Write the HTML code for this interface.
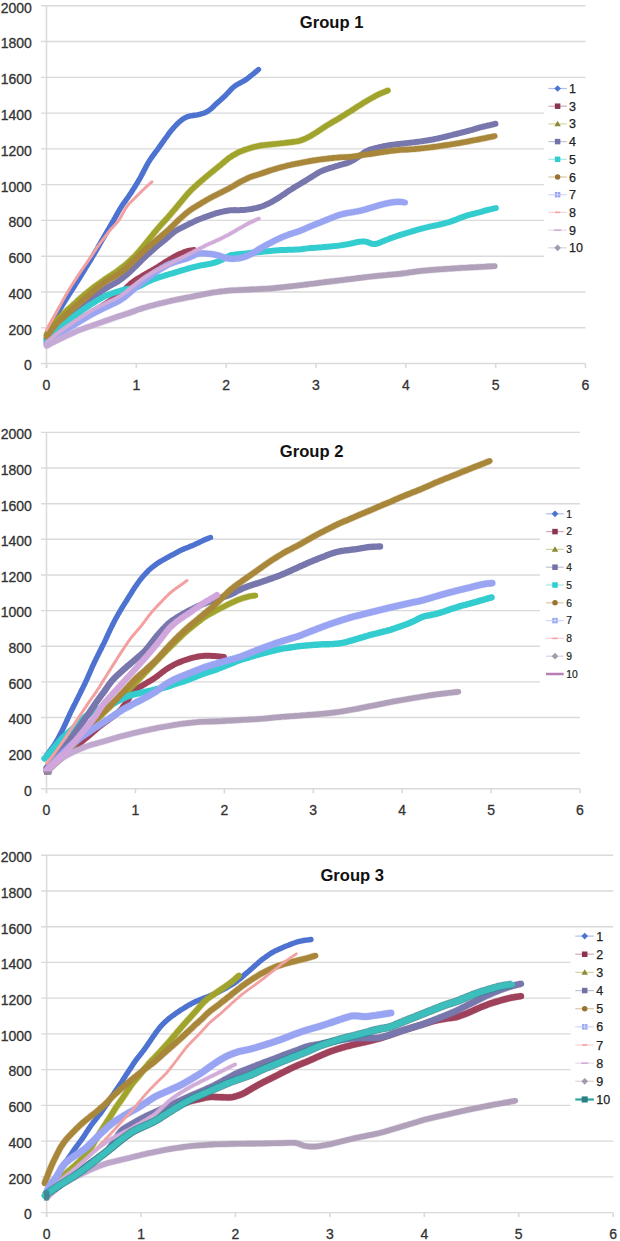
<!DOCTYPE html><html><head><meta charset="utf-8"><style>html,body{margin:0;padding:0;background:#fff;}svg{display:block;font-family:"Liberation Sans",sans-serif;}</style></head><body>
<svg width="620" height="1241" viewBox="0 0 620 1241">
<rect width="620" height="1241" fill="#fff"/>
<line x1="41.0" y1="363.50" x2="585.5" y2="363.50" stroke="#dadada" stroke-width="1.4"/>
<text x="31.8" y="370.3" font-size="14" text-anchor="end" fill="#333" stroke="#333" stroke-width="0.3">0</text>
<line x1="41.0" y1="327.73" x2="585.5" y2="327.73" stroke="#dadada" stroke-width="1.4"/>
<text x="31.8" y="334.5" font-size="14" text-anchor="end" fill="#333" stroke="#333" stroke-width="0.3">200</text>
<line x1="41.0" y1="291.96" x2="585.5" y2="291.96" stroke="#dadada" stroke-width="1.4"/>
<text x="31.8" y="298.8" font-size="14" text-anchor="end" fill="#333" stroke="#333" stroke-width="0.3">400</text>
<line x1="41.0" y1="256.19" x2="585.5" y2="256.19" stroke="#dadada" stroke-width="1.4"/>
<text x="31.8" y="263.0" font-size="14" text-anchor="end" fill="#333" stroke="#333" stroke-width="0.3">600</text>
<line x1="41.0" y1="220.42" x2="585.5" y2="220.42" stroke="#dadada" stroke-width="1.4"/>
<text x="31.8" y="227.2" font-size="14" text-anchor="end" fill="#333" stroke="#333" stroke-width="0.3">800</text>
<line x1="41.0" y1="184.65" x2="585.5" y2="184.65" stroke="#dadada" stroke-width="1.4"/>
<text x="31.8" y="191.5" font-size="14" text-anchor="end" fill="#333" stroke="#333" stroke-width="0.3">1000</text>
<line x1="41.0" y1="148.88" x2="585.5" y2="148.88" stroke="#dadada" stroke-width="1.4"/>
<text x="31.8" y="155.7" font-size="14" text-anchor="end" fill="#333" stroke="#333" stroke-width="0.3">1200</text>
<line x1="41.0" y1="113.11" x2="585.5" y2="113.11" stroke="#dadada" stroke-width="1.4"/>
<text x="31.8" y="119.9" font-size="14" text-anchor="end" fill="#333" stroke="#333" stroke-width="0.3">1400</text>
<line x1="41.0" y1="77.34" x2="585.5" y2="77.34" stroke="#dadada" stroke-width="1.4"/>
<text x="31.8" y="84.1" font-size="14" text-anchor="end" fill="#333" stroke="#333" stroke-width="0.3">1600</text>
<line x1="41.0" y1="41.57" x2="585.5" y2="41.57" stroke="#dadada" stroke-width="1.4"/>
<text x="31.8" y="48.4" font-size="14" text-anchor="end" fill="#333" stroke="#333" stroke-width="0.3">1800</text>
<line x1="41.0" y1="5.80" x2="585.5" y2="5.80" stroke="#dadada" stroke-width="1.4"/>
<text x="31.8" y="12.6" font-size="14" text-anchor="end" fill="#333" stroke="#333" stroke-width="0.3">2000</text>
<line x1="46.5" y1="5.80" x2="46.5" y2="368.00" stroke="#dadada" stroke-width="1.5"/>
<line x1="46.50" y1="363.50" x2="46.50" y2="368.00" stroke="#dadada" stroke-width="1.6"/>
<text x="46.50" y="389.8" font-size="14" text-anchor="middle" fill="#333" stroke="#333" stroke-width="0.3">0</text>
<line x1="136.33" y1="363.50" x2="136.33" y2="368.00" stroke="#dadada" stroke-width="1.6"/>
<text x="136.33" y="389.8" font-size="14" text-anchor="middle" fill="#333" stroke="#333" stroke-width="0.3">1</text>
<line x1="226.16" y1="363.50" x2="226.16" y2="368.00" stroke="#dadada" stroke-width="1.6"/>
<text x="226.16" y="389.8" font-size="14" text-anchor="middle" fill="#333" stroke="#333" stroke-width="0.3">2</text>
<line x1="315.99" y1="363.50" x2="315.99" y2="368.00" stroke="#dadada" stroke-width="1.6"/>
<text x="315.99" y="389.8" font-size="14" text-anchor="middle" fill="#333" stroke="#333" stroke-width="0.3">3</text>
<line x1="405.82" y1="363.50" x2="405.82" y2="368.00" stroke="#dadada" stroke-width="1.6"/>
<text x="405.82" y="389.8" font-size="14" text-anchor="middle" fill="#333" stroke="#333" stroke-width="0.3">4</text>
<line x1="495.65" y1="363.50" x2="495.65" y2="368.00" stroke="#dadada" stroke-width="1.6"/>
<text x="495.65" y="389.8" font-size="14" text-anchor="middle" fill="#333" stroke="#333" stroke-width="0.3">5</text>
<line x1="585.48" y1="363.50" x2="585.48" y2="368.00" stroke="#dadada" stroke-width="1.6"/>
<text x="585.48" y="389.8" font-size="14" text-anchor="middle" fill="#333" stroke="#333" stroke-width="0.3">6</text>
<text x="331.6" y="28.099999999999998" font-size="16.6" font-weight="bold" text-anchor="middle" fill="#111">Group 1</text>
<polyline points="46.5,335.0 47.2,333.6 47.9,332.3 48.5,330.9 49.2,329.6 49.9,328.2 50.6,326.9 51.2,325.5 51.9,324.2 52.6,322.8 53.3,321.5 53.9,320.1 54.6,318.8 55.3,317.4 56.0,316.1 56.7,314.8 57.4,313.4 58.2,312.1 58.9,310.8 59.7,309.5 60.5,308.2 61.3,306.9 62.1,305.7 62.9,304.4 63.7,303.1 64.5,301.8 65.3,300.5 66.1,299.2 66.9,298.0 67.7,296.7 68.5,295.4 69.3,294.1 70.1,292.9 70.9,291.6 71.7,290.3 72.5,289.0 73.4,287.8 74.2,286.5 75.0,285.2 75.8,283.9 76.6,282.6 77.4,281.4 78.2,280.1 79.0,278.8 79.8,277.5 80.6,276.2 81.4,275.0 82.2,273.7 83.0,272.4 83.8,271.1 84.6,269.8 85.3,268.5 86.1,267.2 86.9,265.9 87.7,264.7 88.5,263.4 89.3,262.1 90.1,260.8 90.9,259.5 91.6,258.2 92.4,256.9 93.2,255.6 94.0,254.3 94.7,253.0 95.5,251.7 96.2,250.4 97.0,249.1 97.7,247.8 98.5,246.4 99.2,245.1 100.0,243.8 100.7,242.5 101.5,241.2 102.2,239.9 103.0,238.6 103.7,237.3 104.5,236.0 105.2,234.7 106.0,233.3 106.8,232.0 107.5,230.7 108.3,229.4 109.1,228.1 109.8,226.8 110.6,225.5 111.3,224.2 112.1,222.9 112.8,221.6 113.6,220.3 114.3,219.0 115.1,217.6 115.8,216.3 116.6,215.0 117.3,213.7 118.0,212.4 118.8,211.0 119.5,209.7 120.3,208.4 121.1,207.2 121.9,205.9 122.7,204.6 123.6,203.4 124.5,202.2 125.4,200.9 126.2,199.7 127.1,198.5 128.0,197.3 128.9,196.0 129.7,194.8 130.6,193.5 131.4,192.3 132.2,191.0 133.0,189.7 133.8,188.4 134.6,187.2 135.4,185.9 136.2,184.6 137.0,183.3 137.8,182.0 138.6,180.7 139.3,179.4 140.1,178.1 140.8,176.8 141.5,175.4 142.2,174.1 142.9,172.7 143.6,171.4 144.3,170.1 145.0,168.7 145.7,167.4 146.4,166.0 147.1,164.7 147.8,163.4 148.6,162.1 149.4,160.8 150.2,159.5 151.1,158.3 151.9,157.1 152.8,155.9 153.7,154.7 154.6,153.4 155.5,152.2 156.4,151.0 157.3,149.8 158.2,148.5 159.1,147.3 159.9,146.1 160.8,144.9 161.7,143.6 162.6,142.4 163.5,141.2 164.3,139.9 165.2,138.7 166.1,137.5 167.0,136.3 167.9,135.0 168.7,133.8 169.7,132.6 170.6,131.4 171.5,130.2 172.5,129.1 173.5,127.9 174.5,126.8 175.5,125.7 176.5,124.6 177.6,123.5 178.7,122.5 179.8,121.5 181.0,120.5 182.2,119.6 183.4,118.8 184.7,118.0 186.0,117.3 187.4,116.7 188.8,116.3 190.2,115.9 191.7,115.7 193.2,115.5 194.7,115.3 196.1,115.1 197.6,114.8 199.1,114.5 200.5,114.1 202.0,113.7 203.4,113.2 204.8,112.7 206.2,112.1 207.5,111.4 208.7,110.6 209.9,109.7 211.1,108.7 212.2,107.7 213.3,106.7 214.4,105.6 215.5,104.6 216.6,103.6 217.7,102.6 218.8,101.5 220.0,100.5 221.1,99.5 222.2,98.5 223.3,97.5 224.4,96.4 225.5,95.4 226.5,94.3 227.6,93.2 228.6,92.1 229.6,91.0 230.7,89.9 231.7,88.8 232.8,87.8 234.0,86.8 235.1,85.9 236.4,85.0 237.6,84.3 239.0,83.5 240.3,82.8 241.6,82.1 243.0,81.4 244.3,80.7 245.5,79.9 246.8,79.0 248.0,78.1 249.2,77.2 250.3,76.2 251.5,75.3 252.7,74.3 253.9,73.4 255.0,72.4 256.2,71.5 257.3,70.5 258.5,69.5" fill="none" stroke="#4d72d0" stroke-width="5.4" stroke-linejoin="round" stroke-linecap="round"/>
<polyline points="46.5,342.0 47.7,341.1 48.9,340.2 50.2,339.3 51.4,338.4 52.6,337.5 53.8,336.6 55.1,335.7 56.3,334.7 57.5,333.8 58.8,333.0 60.0,332.1 61.3,331.2 62.5,330.4 63.8,329.5 65.1,328.7 66.4,327.9 67.6,327.0 68.9,326.2 70.2,325.4 71.5,324.5 72.7,323.7 74.0,322.9 75.3,322.1 76.6,321.2 77.9,320.4 79.1,319.6 80.4,318.8 81.7,318.0 83.0,317.2 84.3,316.4 85.7,315.6 87.0,314.9 88.3,314.1 89.6,313.3 90.9,312.5 92.2,311.7 93.5,311.0 94.8,310.2 96.1,309.4 97.4,308.6 98.7,307.8 100.0,307.0 101.3,306.2 102.6,305.4 103.9,304.6 105.2,303.8 106.5,302.9 107.7,302.1 109.0,301.3 110.3,300.4 111.6,299.6 112.8,298.8 114.1,297.9 115.3,297.0 116.5,296.1 117.7,295.1 118.9,294.2 120.1,293.2 121.3,292.2 122.4,291.2 123.5,290.2 124.6,289.2 125.7,288.1 126.8,287.0 127.9,286.0 129.0,284.9 130.1,283.9 131.3,282.9 132.5,282.0 133.7,281.1 134.9,280.2 136.2,279.4 137.5,278.6 138.8,277.8 140.1,277.0 141.4,276.2 142.7,275.4 144.0,274.7 145.4,273.9 146.7,273.1 148.0,272.4 149.3,271.6 150.6,270.9 152.0,270.1 153.3,269.3 154.6,268.6 155.9,267.8 157.2,267.0 158.5,266.2 159.8,265.4 161.1,264.6 162.4,263.7 163.6,262.9 164.9,262.1 166.2,261.3 167.5,260.5 168.8,259.7 170.1,259.0 171.5,258.2 172.8,257.4 174.1,256.6 175.4,255.9 176.7,255.2 178.1,254.5 179.5,253.8 180.9,253.2 182.3,252.7 183.7,252.1 185.1,251.6 186.6,251.1 188.0,250.7 189.5,250.4 191.0,250.1 192.5,249.9 194.0,249.7" fill="none" stroke="#a0415c" stroke-width="5.4" stroke-linejoin="round" stroke-linecap="round"/>
<polyline points="46.5,335.0 47.2,333.7 48.0,332.4 48.7,331.1 49.5,329.8 50.3,328.5 51.1,327.2 52.0,326.0 52.9,324.8 53.8,323.6 54.8,322.5 55.8,321.4 56.8,320.3 57.9,319.2 58.9,318.1 60.0,317.0 61.1,315.9 62.1,314.9 63.2,313.8 64.3,312.8 65.4,311.8 66.5,310.7 67.6,309.7 68.8,308.7 69.9,307.7 71.0,306.7 72.1,305.7 73.2,304.7 74.4,303.7 75.5,302.7 76.6,301.7 77.7,300.6 78.8,299.6 80.0,298.6 81.1,297.6 82.2,296.6 83.4,295.6 84.5,294.7 85.7,293.7 86.8,292.7 88.0,291.8 89.2,290.9 90.4,289.9 91.6,289.0 92.7,288.0 93.9,287.1 95.1,286.2 96.4,285.3 97.6,284.5 98.8,283.6 100.1,282.7 101.3,281.8 102.5,281.0 103.8,280.1 105.0,279.2 106.2,278.4 107.5,277.6 108.7,276.7 110.0,275.9 111.3,275.1 112.5,274.2 113.8,273.4 115.0,272.6 116.3,271.7 117.5,270.8 118.7,269.9 119.9,269.0 121.1,268.1 122.3,267.2 123.5,266.3 124.7,265.4 125.9,264.4 127.0,263.4 128.1,262.4 129.2,261.4 130.3,260.4 131.4,259.3 132.5,258.3 133.6,257.2 134.7,256.2 135.7,255.1 136.7,254.0 137.7,252.9 138.7,251.7 139.7,250.6 140.7,249.4 141.6,248.2 142.6,247.1 143.6,245.9 144.5,244.8 145.5,243.6 146.4,242.4 147.4,241.3 148.3,240.1 149.3,238.9 150.2,237.7 151.2,236.5 152.1,235.4 153.1,234.2 154.0,233.0 155.0,231.9 156.0,230.7 156.9,229.6 157.9,228.4 158.9,227.3 159.9,226.2 160.9,225.0 161.9,223.9 162.9,222.8 163.9,221.7 165.0,220.6 166.0,219.4 167.0,218.3 168.0,217.2 169.0,216.1 170.0,214.9 171.0,213.8 171.9,212.6 172.9,211.5 173.9,210.3 174.9,209.2 175.8,208.0 176.8,206.9 177.8,205.7 178.7,204.5 179.7,203.4 180.6,202.2 181.6,201.1 182.6,199.9 183.5,198.7 184.5,197.6 185.5,196.4 186.4,195.3 187.4,194.1 188.4,193.0 189.4,191.9 190.5,190.8 191.5,189.7 192.6,188.7 193.7,187.7 194.8,186.6 196.0,185.6 197.1,184.6 198.2,183.6 199.3,182.6 200.5,181.6 201.6,180.6 202.8,179.7 203.9,178.7 205.1,177.7 206.2,176.7 207.4,175.8 208.5,174.8 209.7,173.8 210.8,172.9 212.0,171.9 213.2,171.0 214.4,170.0 215.5,169.1 216.7,168.1 217.9,167.2 219.1,166.2 220.2,165.3 221.4,164.3 222.5,163.3 223.7,162.4 224.8,161.4 226.0,160.4 227.2,159.5 228.3,158.5 229.5,157.6 230.8,156.8 232.0,156.0 233.3,155.2 234.6,154.5 236.0,153.7 237.3,153.0 238.6,152.3 240.0,151.7 241.4,151.1 242.8,150.6 244.2,150.0 245.6,149.5 247.1,149.1 248.5,148.6 249.9,148.1 251.4,147.7 252.8,147.3 254.3,146.9 255.7,146.6 257.2,146.2 258.7,145.9 260.2,145.6 261.7,145.4 263.1,145.2 264.6,145.0 266.1,144.9 267.6,144.7 269.1,144.6 270.6,144.4 272.1,144.3 273.6,144.1 275.1,144.0 276.7,143.8 278.2,143.7 279.7,143.5 281.1,143.3 282.6,143.2 284.1,143.0 285.6,142.8 287.1,142.6 288.6,142.5 290.1,142.3 291.6,142.1 293.1,141.9 294.6,141.7 296.1,141.5 297.6,141.2 299.0,140.9 300.5,140.5 301.9,140.0 303.3,139.5 304.7,138.9 306.1,138.3 307.4,137.6 308.8,136.9 310.1,136.2 311.4,135.5 312.7,134.7 314.0,133.9 315.2,133.1 316.5,132.3 317.8,131.5 319.0,130.6 320.3,129.8 321.6,129.0 322.8,128.2 324.1,127.3 325.4,126.5 326.6,125.7 327.9,124.9 329.2,124.1 330.5,123.3 331.8,122.5 333.1,121.8 334.4,121.0 335.7,120.3 337.0,119.5 338.3,118.8 339.6,118.0 340.9,117.2 342.2,116.4 343.4,115.6 344.7,114.8 346.0,114.0 347.3,113.2 348.5,112.4 349.8,111.6 351.1,110.8 352.4,110.0 353.6,109.1 354.9,108.3 356.2,107.5 357.4,106.7 358.7,105.9 360.0,105.1 361.3,104.3 362.5,103.5 363.8,102.7 365.1,101.9 366.4,101.2 367.7,100.4 369.0,99.6 370.3,98.9 371.6,98.1 372.9,97.4 374.3,96.7 375.6,95.9 376.9,95.2 378.3,94.5 379.6,93.9 381.0,93.3 382.4,92.7 383.8,92.1 385.2,91.6 386.6,91.0 388.0,90.5" fill="none" stroke="#a0a42c" stroke-width="6.8" stroke-opacity="0.35" stroke-linejoin="round" stroke-linecap="butt"/>
<polyline points="46.5,335.0 47.2,333.7 48.0,332.4 48.7,331.1 49.5,329.8 50.3,328.5 51.1,327.2 52.0,326.0 52.9,324.8 53.8,323.6 54.8,322.5 55.8,321.4 56.8,320.3 57.9,319.2 58.9,318.1 60.0,317.0 61.1,315.9 62.1,314.9 63.2,313.8 64.3,312.8 65.4,311.8 66.5,310.7 67.6,309.7 68.8,308.7 69.9,307.7 71.0,306.7 72.1,305.7 73.2,304.7 74.4,303.7 75.5,302.7 76.6,301.7 77.7,300.6 78.8,299.6 80.0,298.6 81.1,297.6 82.2,296.6 83.4,295.6 84.5,294.7 85.7,293.7 86.8,292.7 88.0,291.8 89.2,290.9 90.4,289.9 91.6,289.0 92.7,288.0 93.9,287.1 95.1,286.2 96.4,285.3 97.6,284.5 98.8,283.6 100.1,282.7 101.3,281.8 102.5,281.0 103.8,280.1 105.0,279.2 106.2,278.4 107.5,277.6 108.7,276.7 110.0,275.9 111.3,275.1 112.5,274.2 113.8,273.4 115.0,272.6 116.3,271.7 117.5,270.8 118.7,269.9 119.9,269.0 121.1,268.1 122.3,267.2 123.5,266.3 124.7,265.4 125.9,264.4 127.0,263.4 128.1,262.4 129.2,261.4 130.3,260.4 131.4,259.3 132.5,258.3 133.6,257.2 134.7,256.2 135.7,255.1 136.7,254.0 137.7,252.9 138.7,251.7 139.7,250.6 140.7,249.4 141.6,248.2 142.6,247.1 143.6,245.9 144.5,244.8 145.5,243.6 146.4,242.4 147.4,241.3 148.3,240.1 149.3,238.9 150.2,237.7 151.2,236.5 152.1,235.4 153.1,234.2 154.0,233.0 155.0,231.9 156.0,230.7 156.9,229.6 157.9,228.4 158.9,227.3 159.9,226.2 160.9,225.0 161.9,223.9 162.9,222.8 163.9,221.7 165.0,220.6 166.0,219.4 167.0,218.3 168.0,217.2 169.0,216.1 170.0,214.9 171.0,213.8 171.9,212.6 172.9,211.5 173.9,210.3 174.9,209.2 175.8,208.0 176.8,206.9 177.8,205.7 178.7,204.5 179.7,203.4 180.6,202.2 181.6,201.1 182.6,199.9 183.5,198.7 184.5,197.6 185.5,196.4 186.4,195.3 187.4,194.1 188.4,193.0 189.4,191.9 190.5,190.8 191.5,189.7 192.6,188.7 193.7,187.7 194.8,186.6 196.0,185.6 197.1,184.6 198.2,183.6 199.3,182.6 200.5,181.6 201.6,180.6 202.8,179.7 203.9,178.7 205.1,177.7 206.2,176.7 207.4,175.8 208.5,174.8 209.7,173.8 210.8,172.9 212.0,171.9 213.2,171.0 214.4,170.0 215.5,169.1 216.7,168.1 217.9,167.2 219.1,166.2 220.2,165.3 221.4,164.3 222.5,163.3 223.7,162.4 224.8,161.4 226.0,160.4 227.2,159.5 228.3,158.5 229.5,157.6 230.8,156.8 232.0,156.0 233.3,155.2 234.6,154.5 236.0,153.7 237.3,153.0 238.6,152.3 240.0,151.7 241.4,151.1 242.8,150.6 244.2,150.0 245.6,149.5 247.1,149.1 248.5,148.6 249.9,148.1 251.4,147.7 252.8,147.3 254.3,146.9 255.7,146.6 257.2,146.2 258.7,145.9 260.2,145.6 261.7,145.4 263.1,145.2 264.6,145.0 266.1,144.9 267.6,144.7 269.1,144.6 270.6,144.4 272.1,144.3 273.6,144.1 275.1,144.0 276.7,143.8 278.2,143.7 279.7,143.5 281.1,143.3 282.6,143.2 284.1,143.0 285.6,142.8 287.1,142.6 288.6,142.5 290.1,142.3 291.6,142.1 293.1,141.9 294.6,141.7 296.1,141.5 297.6,141.2 299.0,140.9 300.5,140.5 301.9,140.0 303.3,139.5 304.7,138.9 306.1,138.3 307.4,137.6 308.8,136.9 310.1,136.2 311.4,135.5 312.7,134.7 314.0,133.9 315.2,133.1 316.5,132.3 317.8,131.5 319.0,130.6 320.3,129.8 321.6,129.0 322.8,128.2 324.1,127.3 325.4,126.5 326.6,125.7 327.9,124.9 329.2,124.1 330.5,123.3 331.8,122.5 333.1,121.8 334.4,121.0 335.7,120.3 337.0,119.5 338.3,118.8 339.6,118.0 340.9,117.2 342.2,116.4 343.4,115.6 344.7,114.8 346.0,114.0 347.3,113.2 348.5,112.4 349.8,111.6 351.1,110.8 352.4,110.0 353.6,109.1 354.9,108.3 356.2,107.5 357.4,106.7 358.7,105.9 360.0,105.1 361.3,104.3 362.5,103.5 363.8,102.7 365.1,101.9 366.4,101.2 367.7,100.4 369.0,99.6 370.3,98.9 371.6,98.1 372.9,97.4 374.3,96.7 375.6,95.9 376.9,95.2 378.3,94.5 379.6,93.9 381.0,93.3 382.4,92.7 383.8,92.1 385.2,91.6 386.6,91.0 388.0,90.5" fill="none" stroke="#a0a42c" stroke-width="5.6" stroke-linejoin="round" stroke-linecap="round"/>
<polyline points="46.5,339.0 47.5,337.9 48.6,336.8 49.6,335.7 50.6,334.6 51.7,333.5 52.7,332.4 53.8,331.4 54.9,330.4 56.1,329.4 57.2,328.4 58.4,327.4 59.5,326.5 60.7,325.5 61.8,324.5 63.0,323.6 64.2,322.7 65.4,321.7 66.5,320.8 67.7,319.8 68.9,318.9 70.1,317.9 71.3,317.0 72.4,316.1 73.6,315.1 74.8,314.2 76.0,313.2 77.1,312.3 78.3,311.3 79.5,310.4 80.6,309.4 81.8,308.4 82.9,307.4 84.0,306.4 85.1,305.4 86.3,304.4 87.4,303.4 88.5,302.4 89.6,301.4 90.8,300.4 91.9,299.4 93.0,298.4 94.2,297.4 95.3,296.4 96.4,295.4 97.6,294.4 98.8,293.5 100.0,292.6 101.2,291.6 102.4,290.7 103.6,289.9 104.8,289.0 106.1,288.2 107.4,287.4 108.7,286.6 110.0,285.9 111.3,285.2 112.6,284.4 113.9,283.7 115.3,283.0 116.6,282.2 117.9,281.5 119.1,280.6 120.3,279.8 121.5,278.9 122.7,277.9 123.9,277.0 125.1,276.0 126.2,275.1 127.4,274.1 128.5,273.1 129.7,272.1 130.8,271.1 131.9,270.1 133.0,269.0 134.0,268.0 135.1,266.9 136.2,265.8 137.2,264.8 138.3,263.7 139.4,262.6 140.4,261.6 141.5,260.5 142.6,259.4 143.6,258.4 144.7,257.3 145.8,256.3 146.9,255.2 148.0,254.2 149.1,253.2 150.2,252.2 151.4,251.2 152.5,250.2 153.6,249.2 154.7,248.2 155.9,247.2 157.0,246.2 158.2,245.3 159.4,244.3 160.5,243.4 161.7,242.4 162.9,241.5 164.1,240.5 165.2,239.6 166.4,238.6 167.5,237.6 168.7,236.6 169.8,235.6 170.9,234.6 172.1,233.7 173.2,232.7 174.4,231.8 175.7,230.9 176.9,230.2 178.2,229.4 179.6,228.7 180.9,228.0 182.3,227.4 183.6,226.7 185.0,226.0 186.3,225.3 187.7,224.7 189.0,224.0 190.4,223.3 191.7,222.7 193.1,222.0 194.4,221.4 195.8,220.7 197.2,220.2 198.6,219.6 200.0,219.0 201.4,218.5 202.8,217.9 204.2,217.4 205.6,216.8 207.0,216.3 208.5,215.8 209.9,215.3 211.3,214.8 212.7,214.3 214.2,213.9 215.6,213.4 217.1,213.0 218.5,212.6 220.0,212.3 221.4,211.9 222.9,211.6 224.4,211.3 225.9,211.0 227.3,210.7 228.8,210.5 230.3,210.3 231.8,210.2 233.3,210.2 234.8,210.1 236.3,210.2 237.8,210.2 239.4,210.2 240.9,210.1 242.4,210.0 243.9,209.9 245.4,209.8 246.9,209.6 248.4,209.4 249.8,209.2 251.3,209.0 252.8,208.7 254.3,208.4 255.8,208.1 257.2,207.8 258.7,207.4 260.1,207.0 261.6,206.5 263.0,206.0 264.4,205.4 265.7,204.8 267.1,204.2 268.5,203.6 269.8,202.9 271.2,202.2 272.5,201.5 273.8,200.7 275.1,199.9 276.4,199.2 277.7,198.4 278.9,197.6 280.2,196.8 281.5,195.9 282.7,195.1 284.0,194.2 285.2,193.4 286.4,192.5 287.7,191.6 288.9,190.8 290.2,190.0 291.5,189.2 292.7,188.4 294.0,187.6 295.3,186.8 296.6,186.0 297.9,185.3 299.2,184.5 300.5,183.7 301.8,182.9 303.1,182.2 304.4,181.4 305.7,180.6 307.0,179.8 308.2,179.0 309.5,178.2 310.8,177.4 312.1,176.6 313.4,175.8 314.6,175.0 315.9,174.2 317.2,173.4 318.5,172.6 319.8,171.9 321.1,171.3 322.5,170.7 323.9,170.2 325.3,169.6 326.8,169.1 328.2,168.7 329.6,168.2 331.1,167.7 332.5,167.3 333.9,166.8 335.4,166.4 336.8,166.0 338.3,165.5 339.7,165.1 341.2,164.7 342.6,164.3 344.1,163.9 345.5,163.5 347.0,163.1 348.4,162.6 349.8,162.0 351.1,161.4 352.4,160.7 353.7,159.9 355.0,159.1 356.3,158.3 357.5,157.5 358.8,156.6 360.0,155.8 361.2,154.8 362.4,153.9 363.6,153.0 364.8,152.1 366.0,151.4 367.4,150.7 368.7,150.1 370.2,149.6 371.6,149.2 373.0,148.8 374.5,148.4 376.0,148.0 377.4,147.7 378.9,147.3 380.4,147.0 381.8,146.7 383.3,146.3 384.8,146.0 386.3,145.8 387.8,145.5 389.2,145.2 390.7,145.0 392.2,144.8 393.7,144.6 395.2,144.4 396.7,144.2 398.2,144.0 399.7,143.9 401.2,143.7 402.7,143.5 404.2,143.4 405.7,143.2 407.2,143.1 408.7,142.9 410.2,142.7 411.7,142.6 413.2,142.4 414.7,142.2 416.2,142.0 417.7,141.8 419.2,141.6 420.7,141.4 422.2,141.2 423.7,140.9 425.2,140.7 426.6,140.5 428.1,140.3 429.6,140.0 431.1,139.7 432.6,139.5 434.1,139.2 435.5,138.9 437.0,138.6 438.5,138.3 440.0,137.9 441.4,137.6 442.9,137.3 444.4,136.9 445.8,136.5 447.3,136.2 448.8,135.8 450.2,135.4 451.7,135.1 453.2,134.7 454.6,134.3 456.1,134.0 457.5,133.6 459.0,133.2 460.5,132.9 461.9,132.5 463.4,132.1 464.9,131.8 466.3,131.4 467.8,131.0 469.2,130.6 470.7,130.2 472.1,129.8 473.6,129.3 475.0,128.9 476.5,128.5 477.9,128.0 479.4,127.6 480.8,127.2 482.3,126.9 483.7,126.5 485.2,126.2 486.7,125.8 488.2,125.5 489.6,125.2 491.1,124.8 492.6,124.5 494.0,124.1 495.5,123.8" fill="none" stroke="#7777ad" stroke-width="6.0" stroke-linejoin="round" stroke-linecap="round"/>
<polyline points="46.5,341.0 47.4,339.8 48.4,338.6 49.3,337.5 50.3,336.3 51.2,335.2 52.2,334.1 53.3,333.0 54.4,332.0 55.5,331.0 56.6,330.0 57.8,329.0 58.9,328.0 60.1,327.0 61.2,326.1 62.4,325.1 63.6,324.2 64.7,323.2 65.9,322.3 67.1,321.3 68.3,320.4 69.5,319.5 70.7,318.6 71.9,317.7 73.1,316.8 74.3,316.0 75.6,315.1 76.8,314.2 78.0,313.4 79.3,312.5 80.5,311.7 81.7,310.8 83.0,309.9 84.2,309.1 85.4,308.2 86.7,307.3 87.9,306.5 89.1,305.6 90.4,304.8 91.7,304.0 92.9,303.2 94.2,302.4 95.5,301.6 96.8,300.8 98.1,300.0 99.4,299.3 100.7,298.5 102.0,297.8 103.3,297.1 104.6,296.4 106.0,295.7 107.4,295.1 108.7,294.6 110.2,294.1 111.6,293.6 113.0,293.1 114.4,292.6 115.8,292.1 117.3,291.6 118.7,291.2 120.2,290.8 121.6,290.3 123.0,289.9 124.5,289.6 126.0,289.2 127.4,289.0 128.9,288.8 130.4,288.6 131.9,288.4 133.4,288.1 134.8,287.8 136.2,287.4 137.6,286.9 139.0,286.3 140.3,285.7 141.7,285.0 143.0,284.3 144.3,283.6 145.6,282.8 147.0,282.2 148.3,281.5 149.7,280.8 151.1,280.3 152.4,279.7 153.9,279.2 155.3,278.7 156.7,278.2 158.1,277.7 159.5,277.2 161.0,276.7 162.4,276.3 163.8,275.9 165.3,275.4 166.7,275.0 168.2,274.5 169.6,274.1 171.1,273.7 172.5,273.3 173.9,272.8 175.4,272.4 176.8,272.0 178.3,271.5 179.7,271.1 181.1,270.7 182.6,270.2 184.0,269.8 185.5,269.4 186.9,268.9 188.4,268.5 189.8,268.1 191.3,267.7 192.7,267.3 194.2,267.0 195.6,266.6 197.1,266.3 198.6,265.9 200.0,265.6 201.5,265.3 203.0,265.1 204.5,264.8 206.0,264.6 207.4,264.3 208.9,264.1 210.4,263.7 211.8,263.4 213.3,263.0 214.7,262.6 216.2,262.1 217.6,261.6 219.0,261.1 220.4,260.5 221.7,259.9 223.0,259.1 224.3,258.4 225.6,257.7 226.9,256.9 228.3,256.3 229.6,255.7 231.0,255.2 232.4,254.9 233.9,254.7 235.4,254.5 236.9,254.3 238.4,254.2 239.9,254.0 241.4,253.9 242.9,253.7 244.4,253.6 245.9,253.4 247.4,253.3 248.9,253.1 250.4,253.0 251.9,252.8 253.4,252.7 254.9,252.5 256.4,252.4 257.9,252.2 259.3,252.1 260.8,251.9 262.3,251.8 263.8,251.6 265.3,251.5 266.8,251.3 268.3,251.2 269.8,251.0 271.3,250.9 272.8,250.7 274.3,250.6 275.8,250.4 277.3,250.3 278.8,250.2 280.3,250.1 281.8,250.0 283.3,249.9 284.8,249.9 286.3,249.9 287.8,249.8 289.3,249.8 290.8,249.8 292.4,249.7 293.9,249.7 295.4,249.6 296.9,249.6 298.4,249.5 299.9,249.4 301.4,249.2 302.8,249.0 304.3,248.8 305.8,248.6 307.3,248.4 308.8,248.2 310.3,248.1 311.8,248.0 313.3,247.9 314.8,247.8 316.3,247.7 317.8,247.6 319.3,247.5 320.8,247.4 322.3,247.2 323.8,247.1 325.3,247.0 326.8,246.8 328.3,246.7 329.8,246.5 331.3,246.4 332.8,246.2 334.3,246.1 335.8,245.9 337.3,245.8 338.8,245.6 340.3,245.4 341.8,245.2 343.2,244.9 344.7,244.7 346.2,244.4 347.7,244.2 349.2,243.9 350.6,243.6 352.1,243.3 353.6,243.0 355.1,242.6 356.5,242.3 358.0,242.0 359.5,241.8 360.9,241.6 362.4,241.4 363.9,241.5 365.3,241.6 366.8,241.9 368.1,242.4 369.5,242.9 370.9,243.5 372.2,243.8 373.6,244.0 375.0,244.0 376.4,243.8 377.8,243.4 379.2,242.9 380.6,242.3 382.0,241.7 383.4,241.2 384.8,240.6 386.2,240.0 387.6,239.5 389.0,238.9 390.4,238.4 391.8,237.9 393.2,237.4 394.6,236.9 396.1,236.4 397.5,235.9 398.9,235.4 400.3,234.9 401.8,234.5 403.2,234.0 404.6,233.6 406.1,233.2 407.5,232.7 409.0,232.3 410.4,231.9 411.9,231.4 413.3,231.0 414.7,230.6 416.2,230.2 417.6,229.7 419.1,229.3 420.5,228.9 422.0,228.5 423.4,228.2 424.9,227.8 426.4,227.4 427.8,227.1 429.3,226.7 430.7,226.4 432.2,226.1 433.7,225.8 435.2,225.5 436.6,225.2 438.1,224.9 439.6,224.5 441.0,224.2 442.5,223.9 444.0,223.5 445.4,223.1 446.9,222.7 448.3,222.3 449.8,221.9 451.2,221.4 452.6,220.9 454.0,220.4 455.4,219.8 456.8,219.3 458.2,218.7 459.6,218.2 461.0,217.7 462.4,217.2 463.9,216.7 465.3,216.2 466.7,215.7 468.1,215.2 469.6,214.8 471.0,214.4 472.5,214.0 473.9,213.7 475.4,213.3 476.9,212.9 478.3,212.6 479.8,212.2 481.2,211.8 482.7,211.3 484.1,210.9 485.5,210.5 487.0,210.1 488.5,209.8 489.9,209.4 491.4,209.1 492.9,208.7 494.3,208.4 495.8,208.1" fill="none" stroke="#33cccf" stroke-width="6.0" stroke-linejoin="round" stroke-linecap="round"/>
<polyline points="46.5,337.0 47.4,335.8 48.2,334.5 49.1,333.3 49.9,332.0 50.8,330.8 51.7,329.6 52.6,328.4 53.6,327.2 54.5,326.1 55.5,324.9 56.5,323.8 57.5,322.7 58.6,321.6 59.7,320.6 60.8,319.6 61.9,318.6 63.1,317.6 64.2,316.6 65.3,315.6 66.4,314.6 67.6,313.6 68.7,312.6 69.8,311.6 70.9,310.6 72.1,309.5 73.2,308.5 74.3,307.5 75.4,306.5 76.6,305.5 77.7,304.6 78.9,303.6 80.0,302.6 81.2,301.6 82.3,300.6 83.5,299.7 84.6,298.7 85.8,297.7 86.9,296.7 88.1,295.8 89.2,294.8 90.4,293.8 91.5,292.8 92.7,291.8 93.8,290.9 95.0,289.9 96.1,288.9 97.3,288.0 98.5,287.0 99.6,286.1 100.8,285.2 102.0,284.2 103.2,283.3 104.4,282.4 105.6,281.5 106.9,280.7 108.2,280.0 109.5,279.3 110.9,278.6 112.2,277.9 113.5,277.2 114.8,276.4 116.1,275.7 117.4,274.8 118.6,274.0 119.8,273.1 121.1,272.2 122.3,271.3 123.4,270.4 124.6,269.4 125.8,268.5 126.9,267.5 128.0,266.4 129.1,265.4 130.2,264.3 131.2,263.3 132.3,262.2 133.4,261.1 134.4,260.1 135.5,259.0 136.6,258.0 137.7,256.9 138.8,255.9 139.9,254.8 141.0,253.8 142.0,252.8 143.1,251.7 144.2,250.7 145.4,249.7 146.5,248.7 147.6,247.7 148.7,246.7 149.9,245.7 151.0,244.7 152.2,243.7 153.3,242.8 154.5,241.8 155.6,240.8 156.8,239.8 157.9,238.9 159.1,237.9 160.2,236.9 161.4,235.9 162.5,234.9 163.7,234.0 164.8,233.0 166.0,232.0 167.1,231.0 168.2,230.0 169.3,229.0 170.4,227.9 171.5,226.9 172.6,225.8 173.7,224.8 174.8,223.7 175.8,222.7 176.9,221.6 178.0,220.6 179.1,219.5 180.2,218.5 181.3,217.5 182.4,216.5 183.6,215.5 184.7,214.5 185.9,213.5 187.0,212.6 188.2,211.6 189.4,210.7 190.6,209.8 191.8,209.0 193.1,208.2 194.4,207.4 195.7,206.6 197.0,205.8 198.3,205.0 199.6,204.3 200.9,203.5 202.1,202.7 203.4,201.9 204.7,201.2 206.0,200.4 207.3,199.6 208.6,198.9 209.9,198.1 211.3,197.4 212.6,196.7 214.0,196.0 215.3,195.4 216.6,194.7 218.0,194.0 219.3,193.3 220.7,192.7 222.0,192.0 223.4,191.3 224.7,190.6 226.1,189.9 227.4,189.3 228.8,188.6 230.1,187.8 231.4,187.1 232.7,186.4 234.0,185.6 235.3,184.8 236.6,184.0 237.9,183.3 239.2,182.5 240.5,181.8 241.9,181.1 243.2,180.4 244.6,179.7 245.9,179.1 247.3,178.4 248.6,177.8 250.0,177.2 251.4,176.7 252.9,176.2 254.3,175.7 255.7,175.3 257.2,174.8 258.6,174.4 260.0,173.9 261.5,173.5 262.9,173.0 264.3,172.5 265.8,172.0 267.2,171.5 268.6,171.0 270.0,170.5 271.5,170.1 272.9,169.6 274.4,169.2 275.8,168.8 277.3,168.3 278.7,167.9 280.2,167.5 281.6,167.1 283.1,166.7 284.5,166.4 286.0,166.0 287.5,165.6 288.9,165.3 290.4,165.0 291.9,164.6 293.4,164.3 294.8,164.0 296.3,163.7 297.8,163.4 299.3,163.1 300.7,162.9 302.2,162.6 303.7,162.3 305.2,162.0 306.7,161.7 308.1,161.4 309.6,161.1 311.1,160.9 312.6,160.6 314.1,160.4 315.6,160.2 317.1,159.9 318.6,159.7 320.1,159.5 321.6,159.3 323.1,159.1 324.6,159.0 326.1,158.8 327.6,158.6 329.1,158.4 330.6,158.3 332.1,158.1 333.6,157.9 335.1,157.8 336.6,157.7 338.1,157.5 339.6,157.4 341.1,157.3 342.6,157.2 344.1,157.2 345.6,157.1 347.1,157.1 348.6,157.0 350.1,156.8 351.6,156.7 353.1,156.5 354.6,156.3 356.1,156.1 357.6,155.9 359.1,155.6 360.6,155.4 362.0,155.2 363.5,155.0 365.0,154.7 366.5,154.5 368.0,154.3 369.5,154.1 371.0,153.9 372.5,153.6 374.0,153.4 375.5,153.2 377.0,153.0 378.5,152.7 379.9,152.5 381.4,152.3 382.9,152.1 384.4,151.8 385.9,151.6 387.4,151.4 388.9,151.2 390.4,151.0 391.9,150.8 393.4,150.6 394.9,150.4 396.4,150.3 397.9,150.1 399.4,150.0 400.9,149.8 402.4,149.8 403.9,149.7 405.4,149.6 406.9,149.6 408.4,149.5 409.9,149.4 411.4,149.3 412.9,149.2 414.4,149.1 415.9,148.9 417.4,148.8 418.9,148.6 420.4,148.5 421.9,148.3 423.4,148.2 424.9,148.0 426.4,147.8 427.9,147.7 429.4,147.5 430.9,147.3 432.4,147.1 433.9,146.9 435.4,146.7 436.9,146.5 438.4,146.2 439.9,146.0 441.4,145.8 442.9,145.6 444.4,145.3 445.9,145.1 447.3,144.9 448.8,144.7 450.3,144.5 451.8,144.2 453.3,144.0 454.8,143.8 456.3,143.5 457.8,143.3 459.3,143.1 460.8,142.8 462.2,142.5 463.7,142.2 465.2,142.0 466.7,141.7 468.2,141.4 469.6,141.1 471.1,140.8 472.6,140.5 474.1,140.2 475.6,140.0 477.1,139.7 478.5,139.4 480.0,139.1 481.5,138.8 483.0,138.5 484.5,138.2 485.9,137.9 487.4,137.6 488.9,137.3 490.4,137.0 491.8,136.7 493.3,136.4 494.8,136.1" fill="none" stroke="#a8863a" stroke-width="6.8" stroke-opacity="0.35" stroke-linejoin="round" stroke-linecap="butt"/>
<polyline points="46.5,337.0 47.4,335.8 48.2,334.5 49.1,333.3 49.9,332.0 50.8,330.8 51.7,329.6 52.6,328.4 53.6,327.2 54.5,326.1 55.5,324.9 56.5,323.8 57.5,322.7 58.6,321.6 59.7,320.6 60.8,319.6 61.9,318.6 63.1,317.6 64.2,316.6 65.3,315.6 66.4,314.6 67.6,313.6 68.7,312.6 69.8,311.6 70.9,310.6 72.1,309.5 73.2,308.5 74.3,307.5 75.4,306.5 76.6,305.5 77.7,304.6 78.9,303.6 80.0,302.6 81.2,301.6 82.3,300.6 83.5,299.7 84.6,298.7 85.8,297.7 86.9,296.7 88.1,295.8 89.2,294.8 90.4,293.8 91.5,292.8 92.7,291.8 93.8,290.9 95.0,289.9 96.1,288.9 97.3,288.0 98.5,287.0 99.6,286.1 100.8,285.2 102.0,284.2 103.2,283.3 104.4,282.4 105.6,281.5 106.9,280.7 108.2,280.0 109.5,279.3 110.9,278.6 112.2,277.9 113.5,277.2 114.8,276.4 116.1,275.7 117.4,274.8 118.6,274.0 119.8,273.1 121.1,272.2 122.3,271.3 123.4,270.4 124.6,269.4 125.8,268.5 126.9,267.5 128.0,266.4 129.1,265.4 130.2,264.3 131.2,263.3 132.3,262.2 133.4,261.1 134.4,260.1 135.5,259.0 136.6,258.0 137.7,256.9 138.8,255.9 139.9,254.8 141.0,253.8 142.0,252.8 143.1,251.7 144.2,250.7 145.4,249.7 146.5,248.7 147.6,247.7 148.7,246.7 149.9,245.7 151.0,244.7 152.2,243.7 153.3,242.8 154.5,241.8 155.6,240.8 156.8,239.8 157.9,238.9 159.1,237.9 160.2,236.9 161.4,235.9 162.5,234.9 163.7,234.0 164.8,233.0 166.0,232.0 167.1,231.0 168.2,230.0 169.3,229.0 170.4,227.9 171.5,226.9 172.6,225.8 173.7,224.8 174.8,223.7 175.8,222.7 176.9,221.6 178.0,220.6 179.1,219.5 180.2,218.5 181.3,217.5 182.4,216.5 183.6,215.5 184.7,214.5 185.9,213.5 187.0,212.6 188.2,211.6 189.4,210.7 190.6,209.8 191.8,209.0 193.1,208.2 194.4,207.4 195.7,206.6 197.0,205.8 198.3,205.0 199.6,204.3 200.9,203.5 202.1,202.7 203.4,201.9 204.7,201.2 206.0,200.4 207.3,199.6 208.6,198.9 209.9,198.1 211.3,197.4 212.6,196.7 214.0,196.0 215.3,195.4 216.6,194.7 218.0,194.0 219.3,193.3 220.7,192.7 222.0,192.0 223.4,191.3 224.7,190.6 226.1,189.9 227.4,189.3 228.8,188.6 230.1,187.8 231.4,187.1 232.7,186.4 234.0,185.6 235.3,184.8 236.6,184.0 237.9,183.3 239.2,182.5 240.5,181.8 241.9,181.1 243.2,180.4 244.6,179.7 245.9,179.1 247.3,178.4 248.6,177.8 250.0,177.2 251.4,176.7 252.9,176.2 254.3,175.7 255.7,175.3 257.2,174.8 258.6,174.4 260.0,173.9 261.5,173.5 262.9,173.0 264.3,172.5 265.8,172.0 267.2,171.5 268.6,171.0 270.0,170.5 271.5,170.1 272.9,169.6 274.4,169.2 275.8,168.8 277.3,168.3 278.7,167.9 280.2,167.5 281.6,167.1 283.1,166.7 284.5,166.4 286.0,166.0 287.5,165.6 288.9,165.3 290.4,165.0 291.9,164.6 293.4,164.3 294.8,164.0 296.3,163.7 297.8,163.4 299.3,163.1 300.7,162.9 302.2,162.6 303.7,162.3 305.2,162.0 306.7,161.7 308.1,161.4 309.6,161.1 311.1,160.9 312.6,160.6 314.1,160.4 315.6,160.2 317.1,159.9 318.6,159.7 320.1,159.5 321.6,159.3 323.1,159.1 324.6,159.0 326.1,158.8 327.6,158.6 329.1,158.4 330.6,158.3 332.1,158.1 333.6,157.9 335.1,157.8 336.6,157.7 338.1,157.5 339.6,157.4 341.1,157.3 342.6,157.2 344.1,157.2 345.6,157.1 347.1,157.1 348.6,157.0 350.1,156.8 351.6,156.7 353.1,156.5 354.6,156.3 356.1,156.1 357.6,155.9 359.1,155.6 360.6,155.4 362.0,155.2 363.5,155.0 365.0,154.7 366.5,154.5 368.0,154.3 369.5,154.1 371.0,153.9 372.5,153.6 374.0,153.4 375.5,153.2 377.0,153.0 378.5,152.7 379.9,152.5 381.4,152.3 382.9,152.1 384.4,151.8 385.9,151.6 387.4,151.4 388.9,151.2 390.4,151.0 391.9,150.8 393.4,150.6 394.9,150.4 396.4,150.3 397.9,150.1 399.4,150.0 400.9,149.8 402.4,149.8 403.9,149.7 405.4,149.6 406.9,149.6 408.4,149.5 409.9,149.4 411.4,149.3 412.9,149.2 414.4,149.1 415.9,148.9 417.4,148.8 418.9,148.6 420.4,148.5 421.9,148.3 423.4,148.2 424.9,148.0 426.4,147.8 427.9,147.7 429.4,147.5 430.9,147.3 432.4,147.1 433.9,146.9 435.4,146.7 436.9,146.5 438.4,146.2 439.9,146.0 441.4,145.8 442.9,145.6 444.4,145.3 445.9,145.1 447.3,144.9 448.8,144.7 450.3,144.5 451.8,144.2 453.3,144.0 454.8,143.8 456.3,143.5 457.8,143.3 459.3,143.1 460.8,142.8 462.2,142.5 463.7,142.2 465.2,142.0 466.7,141.7 468.2,141.4 469.6,141.1 471.1,140.8 472.6,140.5 474.1,140.2 475.6,140.0 477.1,139.7 478.5,139.4 480.0,139.1 481.5,138.8 483.0,138.5 484.5,138.2 485.9,137.9 487.4,137.6 488.9,137.3 490.4,137.0 491.8,136.7 493.3,136.4 494.8,136.1" fill="none" stroke="#a8863a" stroke-width="5.6" stroke-linejoin="round" stroke-linecap="round"/>
<polyline points="46.5,344.0 47.7,343.1 48.9,342.1 50.0,341.2 51.2,340.2 52.4,339.3 53.6,338.4 54.8,337.4 56.0,336.5 57.2,335.6 58.4,334.7 59.6,333.8 60.8,332.9 62.1,332.1 63.3,331.3 64.6,330.5 65.9,329.7 67.2,328.9 68.5,328.1 69.8,327.3 71.1,326.6 72.4,325.8 73.7,325.0 75.0,324.2 76.3,323.4 77.6,322.7 78.9,321.9 80.1,321.1 81.4,320.3 82.7,319.6 84.0,318.8 85.3,318.0 86.6,317.2 87.9,316.5 89.2,315.7 90.5,314.9 91.8,314.2 93.2,313.5 94.5,312.8 95.8,312.1 97.2,311.4 98.5,310.7 99.9,310.1 101.2,309.4 102.6,308.7 103.9,308.0 105.3,307.4 106.7,306.7 108.0,306.1 109.4,305.4 110.8,304.8 112.1,304.2 113.5,303.5 114.9,302.9 116.2,302.2 117.6,301.5 118.9,300.8 120.2,300.0 121.4,299.2 122.7,298.3 123.9,297.5 125.1,296.6 126.3,295.6 127.4,294.7 128.6,293.7 129.7,292.7 130.8,291.7 132.0,290.7 133.1,289.7 134.2,288.7 135.4,287.7 136.5,286.7 137.7,285.8 138.9,284.8 140.0,283.9 141.2,282.9 142.4,282.0 143.6,281.0 144.8,280.1 146.0,279.2 147.2,278.3 148.4,277.4 149.6,276.5 150.8,275.6 152.0,274.7 153.2,273.8 154.5,272.9 155.7,272.0 157.0,271.2 158.2,270.4 159.5,269.6 160.8,268.8 162.1,268.0 163.4,267.3 164.7,266.5 166.0,265.8 167.3,265.1 168.7,264.4 170.1,263.8 171.5,263.3 172.9,262.8 174.3,262.2 175.7,261.7 177.2,261.3 178.6,260.8 180.1,260.4 181.5,260.0 183.0,259.6 184.4,259.1 185.8,258.7 187.3,258.2 188.7,257.7 190.0,257.1 191.4,256.4 192.8,255.8 194.1,255.1 195.5,254.5 196.9,254.0 198.3,253.7 199.7,253.5 201.2,253.4 202.7,253.4 204.2,253.4 205.7,253.5 207.2,253.6 208.7,253.8 210.2,253.9 211.7,254.1 213.2,254.3 214.7,254.6 216.1,254.9 217.6,255.2 219.0,255.6 220.5,256.1 221.9,256.6 223.3,257.2 224.7,257.6 226.1,258.0 227.6,258.4 229.1,258.6 230.6,258.7 232.1,258.8 233.6,258.8 235.1,258.7 236.6,258.6 238.1,258.5 239.5,258.2 241.0,257.9 242.5,257.5 243.9,257.1 245.3,256.6 246.7,256.1 248.1,255.5 249.5,254.9 250.8,254.3 252.1,253.5 253.4,252.7 254.7,251.9 256.0,251.1 257.2,250.3 258.5,249.5 259.8,248.7 261.1,247.9 262.4,247.2 263.7,246.5 265.1,245.7 266.4,245.0 267.7,244.3 269.0,243.6 270.4,242.9 271.7,242.2 273.1,241.5 274.4,240.8 275.8,240.1 277.1,239.5 278.5,238.8 279.8,238.2 281.2,237.6 282.6,237.0 284.0,236.4 285.4,235.8 286.8,235.3 288.2,234.8 289.6,234.2 291.1,233.8 292.5,233.3 293.9,232.8 295.4,232.4 296.8,231.9 298.2,231.5 299.7,231.0 301.1,230.4 302.5,229.8 303.9,229.2 305.2,228.6 306.6,228.0 308.0,227.4 309.4,226.8 310.8,226.2 312.2,225.7 313.6,225.1 315.0,224.5 316.4,224.0 317.8,223.4 319.2,222.8 320.6,222.3 322.0,221.7 323.4,221.1 324.8,220.6 326.2,220.0 327.6,219.5 329.0,218.9 330.4,218.3 331.8,217.8 333.2,217.2 334.6,216.7 336.0,216.1 337.4,215.6 338.8,215.1 340.3,214.6 341.7,214.3 343.2,213.9 344.7,213.6 346.1,213.3 347.6,213.0 349.1,212.7 350.6,212.5 352.1,212.2 353.6,212.0 355.1,211.7 356.5,211.5 358.0,211.2 359.5,210.9 361.0,210.6 362.4,210.2 363.9,209.8 365.3,209.4 366.8,209.0 368.2,208.5 369.7,208.1 371.1,207.7 372.6,207.2 374.0,206.8 375.5,206.4 376.9,205.9 378.4,205.5 379.8,205.1 381.3,204.7 382.7,204.3 384.2,204.0 385.7,203.6 387.1,203.3 388.6,202.9 390.1,202.7 391.6,202.4 393.1,202.2 394.6,202.1 396.1,201.9 397.6,201.9 399.1,201.8 400.5,201.9 402.0,202.0 403.5,202.3 405.0,202.5" fill="none" stroke="#99a5f3" stroke-width="7.0" stroke-opacity="0.35" stroke-linejoin="round" stroke-linecap="butt"/>
<polyline points="46.5,344.0 47.7,343.1 48.9,342.1 50.0,341.2 51.2,340.2 52.4,339.3 53.6,338.4 54.8,337.4 56.0,336.5 57.2,335.6 58.4,334.7 59.6,333.8 60.8,332.9 62.1,332.1 63.3,331.3 64.6,330.5 65.9,329.7 67.2,328.9 68.5,328.1 69.8,327.3 71.1,326.6 72.4,325.8 73.7,325.0 75.0,324.2 76.3,323.4 77.6,322.7 78.9,321.9 80.1,321.1 81.4,320.3 82.7,319.6 84.0,318.8 85.3,318.0 86.6,317.2 87.9,316.5 89.2,315.7 90.5,314.9 91.8,314.2 93.2,313.5 94.5,312.8 95.8,312.1 97.2,311.4 98.5,310.7 99.9,310.1 101.2,309.4 102.6,308.7 103.9,308.0 105.3,307.4 106.7,306.7 108.0,306.1 109.4,305.4 110.8,304.8 112.1,304.2 113.5,303.5 114.9,302.9 116.2,302.2 117.6,301.5 118.9,300.8 120.2,300.0 121.4,299.2 122.7,298.3 123.9,297.5 125.1,296.6 126.3,295.6 127.4,294.7 128.6,293.7 129.7,292.7 130.8,291.7 132.0,290.7 133.1,289.7 134.2,288.7 135.4,287.7 136.5,286.7 137.7,285.8 138.9,284.8 140.0,283.9 141.2,282.9 142.4,282.0 143.6,281.0 144.8,280.1 146.0,279.2 147.2,278.3 148.4,277.4 149.6,276.5 150.8,275.6 152.0,274.7 153.2,273.8 154.5,272.9 155.7,272.0 157.0,271.2 158.2,270.4 159.5,269.6 160.8,268.8 162.1,268.0 163.4,267.3 164.7,266.5 166.0,265.8 167.3,265.1 168.7,264.4 170.1,263.8 171.5,263.3 172.9,262.8 174.3,262.2 175.7,261.7 177.2,261.3 178.6,260.8 180.1,260.4 181.5,260.0 183.0,259.6 184.4,259.1 185.8,258.7 187.3,258.2 188.7,257.7 190.0,257.1 191.4,256.4 192.8,255.8 194.1,255.1 195.5,254.5 196.9,254.0 198.3,253.7 199.7,253.5 201.2,253.4 202.7,253.4 204.2,253.4 205.7,253.5 207.2,253.6 208.7,253.8 210.2,253.9 211.7,254.1 213.2,254.3 214.7,254.6 216.1,254.9 217.6,255.2 219.0,255.6 220.5,256.1 221.9,256.6 223.3,257.2 224.7,257.6 226.1,258.0 227.6,258.4 229.1,258.6 230.6,258.7 232.1,258.8 233.6,258.8 235.1,258.7 236.6,258.6 238.1,258.5 239.5,258.2 241.0,257.9 242.5,257.5 243.9,257.1 245.3,256.6 246.7,256.1 248.1,255.5 249.5,254.9 250.8,254.3 252.1,253.5 253.4,252.7 254.7,251.9 256.0,251.1 257.2,250.3 258.5,249.5 259.8,248.7 261.1,247.9 262.4,247.2 263.7,246.5 265.1,245.7 266.4,245.0 267.7,244.3 269.0,243.6 270.4,242.9 271.7,242.2 273.1,241.5 274.4,240.8 275.8,240.1 277.1,239.5 278.5,238.8 279.8,238.2 281.2,237.6 282.6,237.0 284.0,236.4 285.4,235.8 286.8,235.3 288.2,234.8 289.6,234.2 291.1,233.8 292.5,233.3 293.9,232.8 295.4,232.4 296.8,231.9 298.2,231.5 299.7,231.0 301.1,230.4 302.5,229.8 303.9,229.2 305.2,228.6 306.6,228.0 308.0,227.4 309.4,226.8 310.8,226.2 312.2,225.7 313.6,225.1 315.0,224.5 316.4,224.0 317.8,223.4 319.2,222.8 320.6,222.3 322.0,221.7 323.4,221.1 324.8,220.6 326.2,220.0 327.6,219.5 329.0,218.9 330.4,218.3 331.8,217.8 333.2,217.2 334.6,216.7 336.0,216.1 337.4,215.6 338.8,215.1 340.3,214.6 341.7,214.3 343.2,213.9 344.7,213.6 346.1,213.3 347.6,213.0 349.1,212.7 350.6,212.5 352.1,212.2 353.6,212.0 355.1,211.7 356.5,211.5 358.0,211.2 359.5,210.9 361.0,210.6 362.4,210.2 363.9,209.8 365.3,209.4 366.8,209.0 368.2,208.5 369.7,208.1 371.1,207.7 372.6,207.2 374.0,206.8 375.5,206.4 376.9,205.9 378.4,205.5 379.8,205.1 381.3,204.7 382.7,204.3 384.2,204.0 385.7,203.6 387.1,203.3 388.6,202.9 390.1,202.7 391.6,202.4 393.1,202.2 394.6,202.1 396.1,201.9 397.6,201.9 399.1,201.8 400.5,201.9 402.0,202.0 403.5,202.3 405.0,202.5" fill="none" stroke="#99a5f3" stroke-width="6.2" stroke-linejoin="round" stroke-linecap="round"/>
<polyline points="46.5,330.0 47.2,328.7 47.9,327.3 48.6,326.0 49.3,324.7 50.1,323.3 50.8,322.0 51.5,320.7 52.3,319.4 53.1,318.1 53.8,316.8 54.6,315.5 55.4,314.2 56.1,312.9 56.9,311.6 57.6,310.2 58.3,308.9 59.1,307.6 59.8,306.2 60.5,304.9 61.2,303.6 61.9,302.2 62.6,300.9 63.3,299.6 64.1,298.2 64.8,296.9 65.5,295.6 66.3,294.3 67.0,293.0 67.8,291.7 68.6,290.4 69.4,289.1 70.2,287.8 71.0,286.5 71.8,285.3 72.6,284.0 73.4,282.7 74.3,281.4 75.1,280.2 75.9,278.9 76.7,277.6 77.5,276.3 78.3,275.1 79.2,273.8 80.0,272.6 80.9,271.3 81.7,270.1 82.6,268.8 83.5,267.6 84.3,266.3 85.2,265.1 86.1,263.8 86.9,262.6 87.8,261.4 88.6,260.1 89.5,258.9 90.4,257.6 91.2,256.4 92.0,255.1 92.9,253.9 93.7,252.6 94.5,251.3 95.4,250.1 96.2,248.8 97.0,247.5 97.9,246.3 98.8,245.1 99.7,243.8 100.5,242.6 101.5,241.4 102.4,240.2 103.3,239.0 104.2,237.8 105.1,236.6 106.0,235.4 107.0,234.2 107.9,233.0 108.8,231.8 109.8,230.6 110.7,229.5 111.7,228.3 112.7,227.2 113.8,226.1 114.8,225.0 115.8,223.9 116.8,222.7 117.8,221.6 118.7,220.4 119.5,219.1 120.3,217.9 121.1,216.6 121.8,215.2 122.5,213.9 123.2,212.6 124.0,211.3 124.7,209.9 125.5,208.7 126.3,207.4 127.2,206.1 128.1,205.0 129.0,203.8 130.1,202.7 131.1,201.7 132.2,200.6 133.3,199.6 134.4,198.5 135.5,197.4 136.5,196.4 137.6,195.3 138.7,194.2 139.7,193.2 140.8,192.1 141.9,191.0 143.0,190.0 144.1,189.0 145.2,187.9 146.3,186.9 147.4,185.9 148.6,184.9 149.7,183.8 150.8,182.8 151.9,181.8" fill="none" stroke="#f2a0a0" stroke-width="3" stroke-linejoin="round" stroke-linecap="round"/>
<polyline points="46.5,343.0 47.6,342.0 48.7,340.9 49.8,339.9 50.9,338.9 52.1,337.8 53.2,336.8 54.4,335.9 55.5,334.9 56.7,334.0 57.9,333.1 59.2,332.1 60.4,331.2 61.6,330.3 62.8,329.5 64.1,328.6 65.3,327.7 66.5,326.8 67.8,326.0 69.0,325.1 70.3,324.2 71.5,323.4 72.8,322.5 74.0,321.7 75.3,320.8 76.6,320.0 77.9,319.2 79.1,318.4 80.4,317.5 81.7,316.7 82.9,315.9 84.2,315.1 85.5,314.2 86.8,313.4 88.0,312.6 89.3,311.8 90.6,311.0 91.9,310.2 93.2,309.5 94.6,308.7 95.9,308.1 97.3,307.4 98.6,306.7 100.0,306.0 101.3,305.3 102.7,304.7 104.1,304.0 105.4,303.3 106.8,302.7 108.2,302.0 109.5,301.4 110.9,300.7 112.3,300.1 113.7,299.5 115.0,298.8 116.4,298.1 117.7,297.4 119.1,296.7 120.3,295.9 121.6,295.1 122.8,294.2 124.1,293.3 125.3,292.4 126.5,291.4 127.7,290.5 128.8,289.6 130.0,288.6 131.2,287.6 132.4,286.7 133.5,285.7 134.7,284.8 135.9,283.8 137.1,282.9 138.3,282.0 139.5,281.1 140.7,280.1 142.0,279.2 143.2,278.3 144.4,277.5 145.7,276.6 146.9,275.8 148.2,275.0 149.5,274.2 150.8,273.4 152.1,272.7 153.5,271.9 154.8,271.2 156.1,270.4 157.5,269.7 158.8,269.1 160.2,268.4 161.5,267.7 162.9,267.1 164.3,266.4 165.6,265.7 167.0,265.1 168.4,264.4 169.7,263.8 171.1,263.1 172.5,262.4 173.8,261.7 175.2,261.1 176.5,260.4 177.9,259.7 179.3,259.1 180.6,258.4 182.0,257.7 183.3,257.0 184.7,256.3 186.0,255.6 187.4,254.9 188.7,254.2 190.1,253.5 191.4,252.8 192.8,252.1 194.1,251.4 195.4,250.7 196.8,250.0 198.1,249.3 199.5,248.6 200.8,248.0 202.2,247.3 203.6,246.6 204.9,245.9 206.3,245.2 207.6,244.6 209.0,243.9 210.4,243.3 211.8,242.7 213.2,242.1 214.6,241.5 215.9,240.9 217.3,240.2 218.7,239.6 220.1,238.9 221.4,238.3 222.8,237.6 224.2,236.9 225.5,236.2 226.8,235.5 228.2,234.8 229.5,234.1 230.8,233.3 232.1,232.6 233.5,231.8 234.8,231.1 236.1,230.3 237.4,229.5 238.7,228.8 240.0,228.0 241.4,227.3 242.7,226.5 244.0,225.8 245.3,225.1 246.7,224.3 248.0,223.6 249.4,222.9 250.7,222.3 252.1,221.6 253.5,221.0 254.8,220.4 256.2,219.7 257.6,219.1 259.0,218.5" fill="none" stroke="#d2acd9" stroke-width="4.8" stroke-opacity="0.3" stroke-linejoin="round" stroke-linecap="butt"/>
<polyline points="46.5,343.0 47.6,342.0 48.7,340.9 49.8,339.9 50.9,338.9 52.1,337.8 53.2,336.8 54.4,335.9 55.5,334.9 56.7,334.0 57.9,333.1 59.2,332.1 60.4,331.2 61.6,330.3 62.8,329.5 64.1,328.6 65.3,327.7 66.5,326.8 67.8,326.0 69.0,325.1 70.3,324.2 71.5,323.4 72.8,322.5 74.0,321.7 75.3,320.8 76.6,320.0 77.9,319.2 79.1,318.4 80.4,317.5 81.7,316.7 82.9,315.9 84.2,315.1 85.5,314.2 86.8,313.4 88.0,312.6 89.3,311.8 90.6,311.0 91.9,310.2 93.2,309.5 94.6,308.7 95.9,308.1 97.3,307.4 98.6,306.7 100.0,306.0 101.3,305.3 102.7,304.7 104.1,304.0 105.4,303.3 106.8,302.7 108.2,302.0 109.5,301.4 110.9,300.7 112.3,300.1 113.7,299.5 115.0,298.8 116.4,298.1 117.7,297.4 119.1,296.7 120.3,295.9 121.6,295.1 122.8,294.2 124.1,293.3 125.3,292.4 126.5,291.4 127.7,290.5 128.8,289.6 130.0,288.6 131.2,287.6 132.4,286.7 133.5,285.7 134.7,284.8 135.9,283.8 137.1,282.9 138.3,282.0 139.5,281.1 140.7,280.1 142.0,279.2 143.2,278.3 144.4,277.5 145.7,276.6 146.9,275.8 148.2,275.0 149.5,274.2 150.8,273.4 152.1,272.7 153.5,271.9 154.8,271.2 156.1,270.4 157.5,269.7 158.8,269.1 160.2,268.4 161.5,267.7 162.9,267.1 164.3,266.4 165.6,265.7 167.0,265.1 168.4,264.4 169.7,263.8 171.1,263.1 172.5,262.4 173.8,261.7 175.2,261.1 176.5,260.4 177.9,259.7 179.3,259.1 180.6,258.4 182.0,257.7 183.3,257.0 184.7,256.3 186.0,255.6 187.4,254.9 188.7,254.2 190.1,253.5 191.4,252.8 192.8,252.1 194.1,251.4 195.4,250.7 196.8,250.0 198.1,249.3 199.5,248.6 200.8,248.0 202.2,247.3 203.6,246.6 204.9,245.9 206.3,245.2 207.6,244.6 209.0,243.9 210.4,243.3 211.8,242.7 213.2,242.1 214.6,241.5 215.9,240.9 217.3,240.2 218.7,239.6 220.1,238.9 221.4,238.3 222.8,237.6 224.2,236.9 225.5,236.2 226.8,235.5 228.2,234.8 229.5,234.1 230.8,233.3 232.1,232.6 233.5,231.8 234.8,231.1 236.1,230.3 237.4,229.5 238.7,228.8 240.0,228.0 241.4,227.3 242.7,226.5 244.0,225.8 245.3,225.1 246.7,224.3 248.0,223.6 249.4,222.9 250.7,222.3 252.1,221.6 253.5,221.0 254.8,220.4 256.2,219.7 257.6,219.1 259.0,218.5" fill="none" stroke="#d2acd9" stroke-width="3.6" stroke-linejoin="round" stroke-linecap="round"/>
<defs><linearGradient id="g0_9" gradientUnits="userSpaceOnUse" x1="60" y1="0" x2="260" y2="0"><stop offset="0" stop-color="#c6aad6"/><stop offset="1" stop-color="#b0a0ba"/></linearGradient></defs>
<polyline points="46.5,346.0 47.8,345.3 49.1,344.5 50.5,343.8 51.8,343.1 53.1,342.4 54.5,341.8 55.8,341.1 57.2,340.4 58.5,339.7 59.9,339.1 61.2,338.4 62.6,337.7 64.0,337.1 65.3,336.4 66.7,335.8 68.1,335.1 69.4,334.5 70.8,333.9 72.2,333.2 73.5,332.6 74.9,332.0 76.3,331.4 77.7,330.8 79.1,330.2 80.5,329.6 81.9,329.1 83.3,328.6 84.7,328.1 86.2,327.6 87.6,327.1 89.0,326.6 90.4,326.2 91.9,325.7 93.3,325.2 94.7,324.7 96.2,324.2 97.6,323.7 99.0,323.2 100.4,322.7 101.9,322.2 103.3,321.7 104.7,321.2 106.1,320.7 107.5,320.2 109.0,319.7 110.4,319.2 111.8,318.7 113.2,318.2 114.7,317.7 116.1,317.2 117.5,316.7 118.9,316.2 120.4,315.8 121.8,315.3 123.3,314.9 124.7,314.4 126.1,313.9 127.6,313.5 129.0,313.0 130.4,312.5 131.8,312.0 133.3,311.5 134.7,311.0 136.1,310.4 137.5,309.9 138.9,309.4 140.4,309.0 141.8,308.5 143.3,308.0 144.7,307.6 146.1,307.2 147.6,306.7 149.0,306.3 150.5,305.9 152.0,305.5 153.4,305.2 154.9,304.8 156.3,304.4 157.8,304.0 159.3,303.7 160.7,303.3 162.2,303.0 163.7,302.6 165.1,302.2 166.6,301.9 168.1,301.5 169.5,301.2 171.0,300.8 172.5,300.5 174.0,300.2 175.4,299.9 176.9,299.6 178.4,299.3 179.9,299.0 181.4,298.7 182.8,298.4 184.3,298.1 185.8,297.8 187.3,297.5 188.8,297.2 190.2,297.0 191.7,296.7 193.2,296.4 194.7,296.1 196.2,295.8 197.6,295.5 199.1,295.2 200.6,294.9 202.1,294.6 203.6,294.3 205.0,294.0 206.5,293.7 208.0,293.4 209.5,293.2 211.0,292.9 212.5,292.6 213.9,292.4 215.4,292.2 216.9,292.0 218.4,291.8 219.9,291.6 221.4,291.4 222.9,291.2 224.4,291.1 225.9,290.9 227.4,290.8 228.9,290.6 230.4,290.5 231.9,290.4 233.4,290.3 235.0,290.3 236.5,290.2 238.0,290.1 239.5,290.0 241.0,290.0 242.5,289.9 244.0,289.8 245.5,289.7 247.0,289.6 248.5,289.6 250.0,289.5 251.5,289.4 253.0,289.3 254.5,289.3 256.1,289.2 257.6,289.1 259.1,289.0 260.6,289.0 262.1,288.9 263.6,288.8 265.1,288.7 266.6,288.7 268.1,288.6 269.6,288.5 271.1,288.4 272.6,288.2 274.1,288.1 275.6,287.9 277.1,287.8 278.6,287.6 280.1,287.5 281.6,287.3 283.1,287.2 284.6,287.0 286.1,286.8 287.6,286.7 289.1,286.5 290.6,286.3 292.1,286.2 293.6,286.0 295.1,285.8 296.6,285.7 298.1,285.5 299.6,285.3 301.1,285.2 302.6,285.0 304.1,284.8 305.6,284.6 307.1,284.4 308.6,284.2 310.1,284.0 311.6,283.8 313.1,283.7 314.6,283.5 316.1,283.3 317.6,283.1 319.1,282.9 320.6,282.7 322.1,282.5 323.6,282.3 325.1,282.1 326.6,281.9 328.1,281.8 329.6,281.6 331.1,281.4 332.6,281.2 334.1,281.0 335.6,280.9 337.1,280.7 338.6,280.5 340.1,280.3 341.6,280.1 343.1,280.0 344.6,279.8 346.1,279.6 347.6,279.4 349.1,279.2 350.6,279.0 352.1,278.9 353.6,278.7 355.1,278.5 356.6,278.3 358.1,278.1 359.6,277.9 361.0,277.7 362.5,277.6 364.0,277.4 365.5,277.2 367.0,277.0 368.5,276.8 370.0,276.7 371.5,276.5 373.0,276.3 374.5,276.2 376.0,276.0 377.5,275.9 379.0,275.7 380.6,275.6 382.1,275.5 383.6,275.3 385.1,275.2 386.6,275.0 388.1,274.9 389.6,274.7 391.1,274.6 392.6,274.5 394.1,274.3 395.6,274.2 397.1,274.1 398.6,274.0 400.1,273.8 401.6,273.6 403.1,273.4 404.6,273.2 406.1,273.0 407.6,272.8 409.1,272.5 410.5,272.3 412.0,272.1 413.5,271.9 415.0,271.7 416.5,271.4 418.0,271.2 419.5,271.1 421.0,270.9 422.5,270.8 424.0,270.6 425.5,270.5 427.0,270.4 428.5,270.2 430.0,270.1 431.5,270.0 433.0,269.9 434.5,269.7 436.0,269.6 437.6,269.5 439.1,269.4 440.6,269.3 442.1,269.2 443.6,269.1 445.1,269.0 446.6,268.9 448.1,268.8 449.6,268.7 451.1,268.6 452.6,268.5 454.1,268.4 455.6,268.3 457.1,268.2 458.6,268.1 460.1,268.0 461.6,267.9 463.2,267.8 464.7,267.8 466.2,267.7 467.7,267.6 469.2,267.5 470.7,267.4 472.2,267.4 473.7,267.3 475.2,267.2 476.7,267.1 478.2,267.0 479.7,267.0 481.2,266.9 482.7,266.8 484.3,266.7 485.8,266.6 487.3,266.5 488.8,266.4 490.3,266.4 491.8,266.3 493.3,266.2 494.8,266.1" fill="none" stroke="url(#g0_9)" stroke-width="6.8" stroke-opacity="0.35" stroke-linejoin="round" stroke-linecap="butt"/>
<polyline points="46.5,346.0 47.8,345.3 49.1,344.5 50.5,343.8 51.8,343.1 53.1,342.4 54.5,341.8 55.8,341.1 57.2,340.4 58.5,339.7 59.9,339.1 61.2,338.4 62.6,337.7 64.0,337.1 65.3,336.4 66.7,335.8 68.1,335.1 69.4,334.5 70.8,333.9 72.2,333.2 73.5,332.6 74.9,332.0 76.3,331.4 77.7,330.8 79.1,330.2 80.5,329.6 81.9,329.1 83.3,328.6 84.7,328.1 86.2,327.6 87.6,327.1 89.0,326.6 90.4,326.2 91.9,325.7 93.3,325.2 94.7,324.7 96.2,324.2 97.6,323.7 99.0,323.2 100.4,322.7 101.9,322.2 103.3,321.7 104.7,321.2 106.1,320.7 107.5,320.2 109.0,319.7 110.4,319.2 111.8,318.7 113.2,318.2 114.7,317.7 116.1,317.2 117.5,316.7 118.9,316.2 120.4,315.8 121.8,315.3 123.3,314.9 124.7,314.4 126.1,313.9 127.6,313.5 129.0,313.0 130.4,312.5 131.8,312.0 133.3,311.5 134.7,311.0 136.1,310.4 137.5,309.9 138.9,309.4 140.4,309.0 141.8,308.5 143.3,308.0 144.7,307.6 146.1,307.2 147.6,306.7 149.0,306.3 150.5,305.9 152.0,305.5 153.4,305.2 154.9,304.8 156.3,304.4 157.8,304.0 159.3,303.7 160.7,303.3 162.2,303.0 163.7,302.6 165.1,302.2 166.6,301.9 168.1,301.5 169.5,301.2 171.0,300.8 172.5,300.5 174.0,300.2 175.4,299.9 176.9,299.6 178.4,299.3 179.9,299.0 181.4,298.7 182.8,298.4 184.3,298.1 185.8,297.8 187.3,297.5 188.8,297.2 190.2,297.0 191.7,296.7 193.2,296.4 194.7,296.1 196.2,295.8 197.6,295.5 199.1,295.2 200.6,294.9 202.1,294.6 203.6,294.3 205.0,294.0 206.5,293.7 208.0,293.4 209.5,293.2 211.0,292.9 212.5,292.6 213.9,292.4 215.4,292.2 216.9,292.0 218.4,291.8 219.9,291.6 221.4,291.4 222.9,291.2 224.4,291.1 225.9,290.9 227.4,290.8 228.9,290.6 230.4,290.5 231.9,290.4 233.4,290.3 235.0,290.3 236.5,290.2 238.0,290.1 239.5,290.0 241.0,290.0 242.5,289.9 244.0,289.8 245.5,289.7 247.0,289.6 248.5,289.6 250.0,289.5 251.5,289.4 253.0,289.3 254.5,289.3 256.1,289.2 257.6,289.1 259.1,289.0 260.6,289.0 262.1,288.9 263.6,288.8 265.1,288.7 266.6,288.7 268.1,288.6 269.6,288.5 271.1,288.4 272.6,288.2 274.1,288.1 275.6,287.9 277.1,287.8 278.6,287.6 280.1,287.5 281.6,287.3 283.1,287.2 284.6,287.0 286.1,286.8 287.6,286.7 289.1,286.5 290.6,286.3 292.1,286.2 293.6,286.0 295.1,285.8 296.6,285.7 298.1,285.5 299.6,285.3 301.1,285.2 302.6,285.0 304.1,284.8 305.6,284.6 307.1,284.4 308.6,284.2 310.1,284.0 311.6,283.8 313.1,283.7 314.6,283.5 316.1,283.3 317.6,283.1 319.1,282.9 320.6,282.7 322.1,282.5 323.6,282.3 325.1,282.1 326.6,281.9 328.1,281.8 329.6,281.6 331.1,281.4 332.6,281.2 334.1,281.0 335.6,280.9 337.1,280.7 338.6,280.5 340.1,280.3 341.6,280.1 343.1,280.0 344.6,279.8 346.1,279.6 347.6,279.4 349.1,279.2 350.6,279.0 352.1,278.9 353.6,278.7 355.1,278.5 356.6,278.3 358.1,278.1 359.6,277.9 361.0,277.7 362.5,277.6 364.0,277.4 365.5,277.2 367.0,277.0 368.5,276.8 370.0,276.7 371.5,276.5 373.0,276.3 374.5,276.2 376.0,276.0 377.5,275.9 379.0,275.7 380.6,275.6 382.1,275.5 383.6,275.3 385.1,275.2 386.6,275.0 388.1,274.9 389.6,274.7 391.1,274.6 392.6,274.5 394.1,274.3 395.6,274.2 397.1,274.1 398.6,274.0 400.1,273.8 401.6,273.6 403.1,273.4 404.6,273.2 406.1,273.0 407.6,272.8 409.1,272.5 410.5,272.3 412.0,272.1 413.5,271.9 415.0,271.7 416.5,271.4 418.0,271.2 419.5,271.1 421.0,270.9 422.5,270.8 424.0,270.6 425.5,270.5 427.0,270.4 428.5,270.2 430.0,270.1 431.5,270.0 433.0,269.9 434.5,269.7 436.0,269.6 437.6,269.5 439.1,269.4 440.6,269.3 442.1,269.2 443.6,269.1 445.1,269.0 446.6,268.9 448.1,268.8 449.6,268.7 451.1,268.6 452.6,268.5 454.1,268.4 455.6,268.3 457.1,268.2 458.6,268.1 460.1,268.0 461.6,267.9 463.2,267.8 464.7,267.8 466.2,267.7 467.7,267.6 469.2,267.5 470.7,267.4 472.2,267.4 473.7,267.3 475.2,267.2 476.7,267.1 478.2,267.0 479.7,267.0 481.2,266.9 482.7,266.8 484.3,266.7 485.8,266.6 487.3,266.5 488.8,266.4 490.3,266.4 491.8,266.3 493.3,266.2 494.8,266.1" fill="none" stroke="url(#g0_9)" stroke-width="5.6" stroke-linejoin="round" stroke-linecap="round"/>
<rect x="544" y="80" width="76" height="180" fill="#fff"/>
<line x1="548.4" y1="88.5" x2="566.8" y2="88.5" stroke="#4d72d0" stroke-width="1.2" opacity="0.45"/>
<path d="M557.6,85.15 L560.95,88.5 L557.6,91.85 L554.25,88.5 Z" fill="#4d72d0"/>
<text x="569" y="93.0" font-size="12.5" fill="#222" stroke="#222" stroke-width="0.25">1</text>
<line x1="548.4" y1="106.2" x2="566.8" y2="106.2" stroke="#a0415c" stroke-width="1.2" opacity="0.45"/>
<rect x="554.85" y="103.45" width="5.5" height="5.5" fill="#8a3450"/>
<text x="569" y="110.7" font-size="12.5" fill="#222" stroke="#222" stroke-width="0.25">3</text>
<line x1="548.4" y1="123.9" x2="566.8" y2="123.9" stroke="#a0a42c" stroke-width="1.2" opacity="0.45"/>
<path d="M557.6,120.65 L560.85,126.35000000000001 L554.35,126.35000000000001 Z" fill="#8c8a38"/>
<text x="569" y="128.4" font-size="12.5" fill="#222" stroke="#222" stroke-width="0.25">3</text>
<line x1="548.4" y1="141.6" x2="566.8" y2="141.6" stroke="#7777ad" stroke-width="1.2" opacity="0.45"/>
<rect x="554.85" y="138.85" width="5.5" height="5.5" fill="#7272a6"/>
<text x="569" y="146.1" font-size="12.5" fill="#222" stroke="#222" stroke-width="0.25">4</text>
<line x1="548.4" y1="159.3" x2="566.8" y2="159.3" stroke="#33cccf" stroke-width="1.2" opacity="0.45"/>
<rect x="554.85" y="156.55" width="5.5" height="5.5" fill="#33cccf"/>
<text x="569" y="163.8" font-size="12.5" fill="#222" stroke="#222" stroke-width="0.25">5</text>
<line x1="548.4" y1="177.0" x2="566.8" y2="177.0" stroke="#a8863a" stroke-width="1.2" opacity="0.45"/>
<circle cx="557.6" cy="177.0" r="2.75" fill="#987434"/>
<text x="569" y="181.5" font-size="12.5" fill="#222" stroke="#222" stroke-width="0.25">6</text>
<line x1="548.4" y1="194.7" x2="566.8" y2="194.7" stroke="#99a5f3" stroke-width="1.2" opacity="0.45"/>
<rect x="554.85" y="191.95" width="5.5" height="5.5" fill="#99a5f3"/>
<line x1="557.6" y1="191.95" x2="557.6" y2="197.45" stroke="#fff" stroke-width="0.8" opacity="0.6"/>
<line x1="554.85" y1="194.7" x2="560.35" y2="194.7" stroke="#fff" stroke-width="0.8" opacity="0.6"/>
<text x="569" y="199.2" font-size="12.5" fill="#222" stroke="#222" stroke-width="0.25">7</text>
<line x1="548.4" y1="212.4" x2="566.8" y2="212.4" stroke="#f2a0a0" stroke-width="1.2" opacity="0.45"/>
<line x1="555.1" y1="212.39999999999998" x2="560.1" y2="212.39999999999998" stroke="#f2a0a0" stroke-width="1.6"/>
<text x="569" y="216.9" font-size="12.5" fill="#222" stroke="#222" stroke-width="0.25">8</text>
<line x1="548.4" y1="230.1" x2="566.8" y2="230.1" stroke="#d2acd9" stroke-width="1.2" opacity="0.45"/>
<line x1="554.1" y1="230.1" x2="561.1" y2="230.1" stroke="#d2acd9" stroke-width="1.6"/>
<text x="569" y="234.6" font-size="12.5" fill="#222" stroke="#222" stroke-width="0.25">9</text>
<line x1="548.4" y1="247.8" x2="566.8" y2="247.8" stroke="#b0a0ba" stroke-width="1.2" opacity="0.45"/>
<path d="M557.6,244.45 L560.95,247.79999999999998 L557.6,251.14999999999998 L554.25,247.79999999999998 Z" fill="#a49aae"/>
<text x="569" y="252.3" font-size="12.5" fill="#222" stroke="#222" stroke-width="0.25">10</text>
<line x1="41.0" y1="788.80" x2="580.0" y2="788.80" stroke="#dadada" stroke-width="1.4"/>
<text x="31.8" y="795.6" font-size="14" text-anchor="end" fill="#333" stroke="#333" stroke-width="0.3">0</text>
<line x1="41.0" y1="753.16" x2="580.0" y2="753.16" stroke="#dadada" stroke-width="1.4"/>
<text x="31.8" y="760.0" font-size="14" text-anchor="end" fill="#333" stroke="#333" stroke-width="0.3">200</text>
<line x1="41.0" y1="717.52" x2="580.0" y2="717.52" stroke="#dadada" stroke-width="1.4"/>
<text x="31.8" y="724.3" font-size="14" text-anchor="end" fill="#333" stroke="#333" stroke-width="0.3">400</text>
<line x1="41.0" y1="681.88" x2="580.0" y2="681.88" stroke="#dadada" stroke-width="1.4"/>
<text x="31.8" y="688.7" font-size="14" text-anchor="end" fill="#333" stroke="#333" stroke-width="0.3">600</text>
<line x1="41.0" y1="646.24" x2="580.0" y2="646.24" stroke="#dadada" stroke-width="1.4"/>
<text x="31.8" y="653.0" font-size="14" text-anchor="end" fill="#333" stroke="#333" stroke-width="0.3">800</text>
<line x1="41.0" y1="610.60" x2="580.0" y2="610.60" stroke="#dadada" stroke-width="1.4"/>
<text x="31.8" y="617.4" font-size="14" text-anchor="end" fill="#333" stroke="#333" stroke-width="0.3">1000</text>
<line x1="41.0" y1="574.96" x2="580.0" y2="574.96" stroke="#dadada" stroke-width="1.4"/>
<text x="31.8" y="581.8" font-size="14" text-anchor="end" fill="#333" stroke="#333" stroke-width="0.3">1200</text>
<line x1="41.0" y1="539.32" x2="580.0" y2="539.32" stroke="#dadada" stroke-width="1.4"/>
<text x="31.8" y="546.1" font-size="14" text-anchor="end" fill="#333" stroke="#333" stroke-width="0.3">1400</text>
<line x1="41.0" y1="503.68" x2="580.0" y2="503.68" stroke="#dadada" stroke-width="1.4"/>
<text x="31.8" y="510.5" font-size="14" text-anchor="end" fill="#333" stroke="#333" stroke-width="0.3">1600</text>
<line x1="41.0" y1="468.04" x2="580.0" y2="468.04" stroke="#dadada" stroke-width="1.4"/>
<text x="31.8" y="474.8" font-size="14" text-anchor="end" fill="#333" stroke="#333" stroke-width="0.3">1800</text>
<line x1="41.0" y1="432.40" x2="580.0" y2="432.40" stroke="#dadada" stroke-width="1.4"/>
<text x="31.8" y="439.2" font-size="14" text-anchor="end" fill="#333" stroke="#333" stroke-width="0.3">2000</text>
<line x1="46.5" y1="432.40" x2="46.5" y2="793.30" stroke="#dadada" stroke-width="1.5"/>
<line x1="46.50" y1="788.80" x2="46.50" y2="793.30" stroke="#dadada" stroke-width="1.6"/>
<text x="46.50" y="815.1" font-size="14" text-anchor="middle" fill="#333" stroke="#333" stroke-width="0.3">0</text>
<line x1="135.42" y1="788.80" x2="135.42" y2="793.30" stroke="#dadada" stroke-width="1.6"/>
<text x="135.42" y="815.1" font-size="14" text-anchor="middle" fill="#333" stroke="#333" stroke-width="0.3">1</text>
<line x1="224.34" y1="788.80" x2="224.34" y2="793.30" stroke="#dadada" stroke-width="1.6"/>
<text x="224.34" y="815.1" font-size="14" text-anchor="middle" fill="#333" stroke="#333" stroke-width="0.3">2</text>
<line x1="313.26" y1="788.80" x2="313.26" y2="793.30" stroke="#dadada" stroke-width="1.6"/>
<text x="313.26" y="815.1" font-size="14" text-anchor="middle" fill="#333" stroke="#333" stroke-width="0.3">3</text>
<line x1="402.18" y1="788.80" x2="402.18" y2="793.30" stroke="#dadada" stroke-width="1.6"/>
<text x="402.18" y="815.1" font-size="14" text-anchor="middle" fill="#333" stroke="#333" stroke-width="0.3">4</text>
<line x1="491.10" y1="788.80" x2="491.10" y2="793.30" stroke="#dadada" stroke-width="1.6"/>
<text x="491.10" y="815.1" font-size="14" text-anchor="middle" fill="#333" stroke="#333" stroke-width="0.3">5</text>
<line x1="580.02" y1="788.80" x2="580.02" y2="793.30" stroke="#dadada" stroke-width="1.6"/>
<text x="580.02" y="815.1" font-size="14" text-anchor="middle" fill="#333" stroke="#333" stroke-width="0.3">6</text>
<text x="311.6" y="456.8" font-size="16.6" font-weight="bold" text-anchor="middle" fill="#111">Group 2</text>
<polyline points="46.5,755.5 47.4,754.3 48.3,753.1 49.2,751.9 50.1,750.6 51.0,749.4 51.9,748.2 52.8,747.0 53.6,745.8 54.5,744.5 55.3,743.2 56.1,741.9 56.8,740.6 57.6,739.3 58.3,738.0 59.0,736.7 59.7,735.3 60.4,734.0 61.1,732.6 61.8,731.3 62.5,729.9 63.1,728.6 63.8,727.2 64.4,725.8 65.1,724.5 65.7,723.1 66.3,721.7 67.0,720.3 67.6,719.0 68.2,717.6 68.8,716.2 69.5,714.8 70.1,713.5 70.7,712.1 71.4,710.7 72.1,709.4 72.8,708.0 73.4,706.7 74.1,705.3 74.8,704.0 75.5,702.6 76.1,701.3 76.8,699.9 77.5,698.6 78.2,697.2 78.8,695.9 79.5,694.5 80.2,693.2 80.9,691.8 81.5,690.4 82.2,689.1 82.9,687.7 83.5,686.4 84.2,685.0 84.9,683.7 85.5,682.3 86.1,680.9 86.8,679.5 87.4,678.2 88.0,676.8 88.6,675.4 89.2,674.0 89.8,672.6 90.4,671.2 91.0,669.9 91.6,668.5 92.2,667.1 92.8,665.7 93.5,664.3 94.1,663.0 94.7,661.6 95.4,660.2 96.1,658.9 96.7,657.5 97.4,656.2 98.1,654.8 98.8,653.5 99.4,652.1 100.1,650.8 100.8,649.4 101.5,648.1 102.1,646.7 102.8,645.3 103.5,644.0 104.2,642.6 104.8,641.3 105.5,639.9 106.1,638.5 106.7,637.2 107.4,635.8 108.0,634.4 108.6,633.0 109.3,631.7 109.9,630.3 110.6,628.9 111.2,627.6 111.9,626.2 112.6,624.9 113.2,623.5 113.9,622.2 114.6,620.8 115.3,619.5 116.0,618.2 116.8,616.8 117.5,615.5 118.2,614.2 119.0,612.9 119.7,611.6 120.5,610.3 121.3,609.0 122.1,607.7 122.9,606.4 123.7,605.1 124.5,603.8 125.3,602.6 126.1,601.3 126.9,600.0 127.7,598.7 128.5,597.4 129.3,596.1 130.1,594.9 130.9,593.6 131.7,592.3 132.5,591.0 133.3,589.7 134.1,588.5 134.9,587.2 135.8,586.0 136.7,584.7 137.5,583.5 138.4,582.3 139.3,581.0 140.2,579.8 141.2,578.7 142.1,577.5 143.1,576.3 144.1,575.2 145.1,574.1 146.1,573.0 147.2,571.9 148.2,570.8 149.3,569.8 150.5,568.8 151.6,567.8 152.8,566.8 154.0,565.9 155.2,565.0 156.4,564.1 157.6,563.2 158.9,562.4 160.2,561.6 161.5,560.8 162.8,560.1 164.1,559.4 165.4,558.7 166.8,557.9 168.1,557.2 169.4,556.4 170.7,555.7 172.0,555.0 173.4,554.3 174.7,553.6 176.0,552.8 177.4,552.1 178.7,551.4 180.0,550.7 181.4,550.1 182.8,549.4 184.2,548.9 185.5,548.3 187.0,547.7 188.4,547.2 189.8,546.6 191.2,546.0 192.6,545.4 193.9,544.9 195.3,544.2 196.7,543.6 198.1,543.0 199.4,542.3 200.8,541.6 202.1,541.0 203.5,540.3 204.9,539.7 206.3,539.1 207.7,538.6 209.1,538.0 210.5,537.5" fill="none" stroke="#4d72d0" stroke-width="5.4" stroke-linejoin="round" stroke-linecap="round"/>
<polyline points="46.5,771.0 47.7,770.0 48.8,769.0 50.0,768.1 51.1,767.1 52.3,766.1 53.4,765.1 54.6,764.1 55.7,763.2 56.9,762.2 58.0,761.2 59.2,760.2 60.3,759.2 61.5,758.3 62.6,757.3 63.8,756.3 64.9,755.3 66.1,754.4 67.2,753.4 68.4,752.4 69.5,751.4 70.7,750.5 71.9,749.5 73.0,748.6 74.2,747.6 75.4,746.7 76.6,745.7 77.8,744.8 78.9,743.8 80.1,742.9 81.3,742.0 82.5,741.0 83.7,740.1 84.8,739.1 86.0,738.2 87.2,737.2 88.4,736.3 89.5,735.3 90.7,734.3 91.8,733.3 92.9,732.3 94.1,731.3 95.2,730.3 96.3,729.3 97.5,728.3 98.6,727.3 99.8,726.4 101.0,725.4 102.2,724.5 103.4,723.7 104.6,722.8 105.8,721.9 107.1,721.0 108.3,720.1 109.5,719.3 110.7,718.3 111.9,717.4 113.1,716.5 114.3,715.6 115.5,714.6 116.6,713.6 117.8,712.7 118.9,711.7 119.9,710.6 120.9,709.5 121.9,708.3 122.8,707.1 123.7,705.9 124.6,704.7 125.5,703.5 126.4,702.2 127.2,701.0 128.1,699.7 128.9,698.5 129.7,697.2 130.5,695.9 131.4,694.7 132.2,693.4 133.1,692.2 134.1,691.1 135.1,690.1 136.3,689.1 137.5,688.3 138.8,687.5 140.1,686.7 141.4,686.0 142.7,685.3 144.0,684.5 145.3,683.8 146.6,683.0 147.9,682.2 149.2,681.5 150.5,680.7 151.8,679.9 153.1,679.1 154.3,678.3 155.6,677.4 156.8,676.5 158.0,675.6 159.2,674.7 160.4,673.7 161.5,672.8 162.7,671.9 163.9,671.0 165.2,670.1 166.4,669.2 167.7,668.4 169.0,667.6 170.3,666.8 171.6,666.1 172.9,665.3 174.2,664.6 175.6,663.9 176.9,663.3 178.3,662.7 179.7,662.1 181.1,661.6 182.5,661.0 183.9,660.5 185.3,660.0 186.8,659.5 188.2,659.1 189.7,658.6 191.1,658.2 192.6,657.8 194.0,657.4 195.5,657.1 197.0,656.8 198.5,656.5 199.9,656.3 201.4,656.1 202.9,655.9 204.4,655.8 205.9,655.7 207.4,655.7 209.0,655.7 210.5,655.8 212.0,655.9 213.5,656.0 215.0,656.1 216.5,656.2 218.0,656.3 219.5,656.5 221.0,656.7 222.5,656.8 224.0,657.0" fill="none" stroke="#a0415c" stroke-width="6.0" stroke-linejoin="round" stroke-linecap="round"/>
<polyline points="46.5,772.0 47.6,770.9 48.7,769.9 49.7,768.8 50.8,767.8 51.9,766.7 53.0,765.6 54.1,764.6 55.2,763.5 56.2,762.5 57.3,761.4 58.4,760.3 59.5,759.3 60.6,758.2 61.7,757.2 62.7,756.1 63.8,755.0 64.9,754.0 66.0,752.9 67.1,751.8 68.1,750.8 69.2,749.7 70.3,748.6 71.3,747.5 72.3,746.4 73.3,745.2 74.3,744.1 75.3,743.0 76.3,741.8 77.4,740.7 78.4,739.6 79.4,738.4 80.4,737.3 81.4,736.2 82.4,735.0 83.4,733.9 84.4,732.8 85.4,731.6 86.4,730.5 87.4,729.4 88.4,728.2 89.4,727.1 90.4,726.0 91.5,724.9 92.5,723.8 93.6,722.7 94.7,721.6 95.7,720.6 96.8,719.5 97.9,718.5 99.0,717.4 100.1,716.4 101.2,715.3 102.3,714.2 103.4,713.2 104.4,712.1 105.5,711.1 106.6,710.0 107.7,709.0 108.8,707.9 109.9,706.9 111.0,705.8 112.1,704.8 113.2,703.8 114.4,702.8 115.5,701.8 116.7,700.8 117.8,699.8 119.0,698.8 120.1,697.8 121.2,696.8 122.4,695.8 123.5,694.8 124.6,693.8 125.7,692.8 126.8,691.7 127.9,690.6 128.9,689.5 130.0,688.5 131.1,687.4 132.1,686.3 133.2,685.2 134.2,684.1 135.3,683.0 136.3,681.9 137.4,680.8 138.4,679.8 139.5,678.7 140.6,677.6 141.6,676.5 142.7,675.4 143.7,674.3 144.8,673.2 145.8,672.1 146.9,671.0 147.9,669.9 149.0,668.9 150.0,667.8 151.1,666.7 152.1,665.6 153.2,664.5 154.2,663.4 155.3,662.3 156.3,661.2 157.4,660.1 158.4,659.0 159.5,657.9 160.5,656.8 161.6,655.7 162.6,654.7 163.7,653.6 164.8,652.5 165.8,651.4 166.9,650.3 168.0,649.3 169.1,648.2 170.1,647.1 171.2,646.1 172.3,645.0 173.4,643.9 174.5,642.9 175.5,641.8 176.6,640.8 177.7,639.7 178.8,638.6 179.9,637.6 180.9,636.5 182.0,635.4 183.1,634.4 184.2,633.4 185.4,632.4 186.5,631.4 187.7,630.4 188.8,629.4 190.0,628.5 191.2,627.5 192.4,626.6 193.6,625.7 194.8,624.7 195.9,623.8 197.1,622.8 198.3,621.9 199.5,621.0 200.7,620.0 201.9,619.1 203.1,618.2 204.4,617.3 205.6,616.5 206.9,615.7 208.2,614.9 209.5,614.2 210.9,613.4 212.2,612.7 213.5,612.0 214.8,611.2 216.2,610.5 217.5,609.8 218.9,609.1 220.2,608.4 221.6,607.8 222.9,607.1 224.3,606.4 225.6,605.7 227.0,605.0 228.3,604.3 229.7,603.7 231.1,603.0 232.4,602.4 233.8,601.7 235.2,601.1 236.6,600.5 238.0,599.9 239.4,599.4 240.8,598.9 242.2,598.4 243.7,597.9 245.1,597.5 246.6,597.1 248.0,596.7 249.5,596.3 251.0,596.1 252.5,595.8 254.0,595.7 255.5,595.5" fill="none" stroke="#a0a42c" stroke-width="6.8" stroke-opacity="0.35" stroke-linejoin="round" stroke-linecap="butt"/>
<polyline points="46.5,772.0 47.6,770.9 48.7,769.9 49.7,768.8 50.8,767.8 51.9,766.7 53.0,765.6 54.1,764.6 55.2,763.5 56.2,762.5 57.3,761.4 58.4,760.3 59.5,759.3 60.6,758.2 61.7,757.2 62.7,756.1 63.8,755.0 64.9,754.0 66.0,752.9 67.1,751.8 68.1,750.8 69.2,749.7 70.3,748.6 71.3,747.5 72.3,746.4 73.3,745.2 74.3,744.1 75.3,743.0 76.3,741.8 77.4,740.7 78.4,739.6 79.4,738.4 80.4,737.3 81.4,736.2 82.4,735.0 83.4,733.9 84.4,732.8 85.4,731.6 86.4,730.5 87.4,729.4 88.4,728.2 89.4,727.1 90.4,726.0 91.5,724.9 92.5,723.8 93.6,722.7 94.7,721.6 95.7,720.6 96.8,719.5 97.9,718.5 99.0,717.4 100.1,716.4 101.2,715.3 102.3,714.2 103.4,713.2 104.4,712.1 105.5,711.1 106.6,710.0 107.7,709.0 108.8,707.9 109.9,706.9 111.0,705.8 112.1,704.8 113.2,703.8 114.4,702.8 115.5,701.8 116.7,700.8 117.8,699.8 119.0,698.8 120.1,697.8 121.2,696.8 122.4,695.8 123.5,694.8 124.6,693.8 125.7,692.8 126.8,691.7 127.9,690.6 128.9,689.5 130.0,688.5 131.1,687.4 132.1,686.3 133.2,685.2 134.2,684.1 135.3,683.0 136.3,681.9 137.4,680.8 138.4,679.8 139.5,678.7 140.6,677.6 141.6,676.5 142.7,675.4 143.7,674.3 144.8,673.2 145.8,672.1 146.9,671.0 147.9,669.9 149.0,668.9 150.0,667.8 151.1,666.7 152.1,665.6 153.2,664.5 154.2,663.4 155.3,662.3 156.3,661.2 157.4,660.1 158.4,659.0 159.5,657.9 160.5,656.8 161.6,655.7 162.6,654.7 163.7,653.6 164.8,652.5 165.8,651.4 166.9,650.3 168.0,649.3 169.1,648.2 170.1,647.1 171.2,646.1 172.3,645.0 173.4,643.9 174.5,642.9 175.5,641.8 176.6,640.8 177.7,639.7 178.8,638.6 179.9,637.6 180.9,636.5 182.0,635.4 183.1,634.4 184.2,633.4 185.4,632.4 186.5,631.4 187.7,630.4 188.8,629.4 190.0,628.5 191.2,627.5 192.4,626.6 193.6,625.7 194.8,624.7 195.9,623.8 197.1,622.8 198.3,621.9 199.5,621.0 200.7,620.0 201.9,619.1 203.1,618.2 204.4,617.3 205.6,616.5 206.9,615.7 208.2,614.9 209.5,614.2 210.9,613.4 212.2,612.7 213.5,612.0 214.8,611.2 216.2,610.5 217.5,609.8 218.9,609.1 220.2,608.4 221.6,607.8 222.9,607.1 224.3,606.4 225.6,605.7 227.0,605.0 228.3,604.3 229.7,603.7 231.1,603.0 232.4,602.4 233.8,601.7 235.2,601.1 236.6,600.5 238.0,599.9 239.4,599.4 240.8,598.9 242.2,598.4 243.7,597.9 245.1,597.5 246.6,597.1 248.0,596.7 249.5,596.3 251.0,596.1 252.5,595.8 254.0,595.7 255.5,595.5" fill="none" stroke="#a0a42c" stroke-width="5.6" stroke-linejoin="round" stroke-linecap="round"/>
<polyline points="44.5,758.5 45.6,757.4 46.6,756.4 47.6,755.3 48.6,754.1 49.6,753.0 50.6,751.8 51.5,750.7 52.5,749.5 53.5,748.4 54.4,747.2 55.4,746.1 56.4,744.9 57.3,743.8 58.3,742.6 59.3,741.5 60.2,740.3 61.2,739.2 62.3,738.1 63.3,737.0 64.4,736.0 65.5,735.0 66.7,734.0 67.8,733.0 69.0,732.1 70.1,731.1 71.2,730.0 72.3,729.0 73.4,728.0 74.5,727.0 75.6,725.9 76.6,724.8 77.7,723.8 78.8,722.7 79.9,721.7 81.0,720.7 82.1,719.6 83.2,718.6 84.3,717.6 85.5,716.7 86.6,715.7 87.9,714.9 89.1,714.0 90.4,713.2 91.7,712.4 93.0,711.7 94.3,711.1 95.7,710.4 97.1,709.8 98.5,709.2 99.9,708.7 101.3,708.2 102.7,707.7 104.1,707.3 105.6,706.8 107.0,706.3 108.4,705.8 109.8,705.3 111.2,704.7 112.5,704.0 113.8,703.3 115.1,702.6 116.5,701.8 117.8,701.1 119.1,700.5 120.5,699.8 121.8,699.1 123.2,698.4 124.5,697.8 125.9,697.1 127.3,696.5 128.7,696.0 130.1,695.5 131.5,695.0 132.9,694.6 134.4,694.3 135.9,693.9 137.3,693.6 138.8,693.3 140.3,692.9 141.8,692.6 143.2,692.3 144.7,692.0 146.2,691.7 147.6,691.3 149.1,691.0 150.6,690.6 152.0,690.3 153.5,689.9 154.9,689.6 156.4,689.2 157.9,688.9 159.4,688.6 160.8,688.3 162.3,688.0 163.8,687.6 165.2,687.3 166.7,686.8 168.1,686.4 169.5,685.9 171.0,685.4 172.4,684.9 173.8,684.5 175.2,684.0 176.7,683.5 178.1,683.1 179.5,682.6 181.0,682.2 182.4,681.7 183.9,681.3 185.3,680.8 186.7,680.3 188.1,679.7 189.5,679.2 190.9,678.6 192.3,678.1 193.7,677.5 195.1,677.0 196.5,676.4 197.9,675.8 199.3,675.3 200.7,674.7 202.1,674.2 203.5,673.7 204.9,673.1 206.3,672.7 207.8,672.2 209.2,671.7 210.6,671.3 212.1,670.9 213.5,670.4 214.9,669.9 216.4,669.4 217.8,668.9 219.2,668.3 220.6,667.8 222.0,667.2 223.4,666.7 224.8,666.1 226.2,665.5 227.6,665.0 229.0,664.4 230.4,663.9 231.8,663.3 233.2,662.7 234.6,662.2 236.0,661.6 237.4,661.1 238.8,660.6 240.2,660.0 241.6,659.6 243.0,659.1 244.5,658.7 245.9,658.2 247.4,657.8 248.8,657.4 250.2,656.9 251.7,656.5 253.1,656.1 254.6,655.6 256.0,655.2 257.5,654.8 258.9,654.4 260.4,654.0 261.8,653.6 263.3,653.2 264.7,652.8 266.2,652.5 267.7,652.1 269.1,651.7 270.6,651.4 272.0,651.0 273.5,650.6 275.0,650.3 276.4,649.9 277.9,649.6 279.4,649.2 280.8,649.0 282.3,648.7 283.8,648.4 285.3,648.2 286.8,648.0 288.3,647.8 289.8,647.5 291.2,647.3 292.7,647.1 294.2,646.9 295.7,646.7 297.2,646.4 298.7,646.2 300.2,646.1 301.7,645.9 303.2,645.8 304.7,645.6 306.2,645.5 307.7,645.4 309.2,645.3 310.7,645.1 312.2,645.0 313.7,644.9 315.2,644.8 316.7,644.7 318.2,644.6 319.7,644.5 321.2,644.4 322.7,644.3 324.2,644.3 325.7,644.2 327.2,644.2 328.7,644.2 330.2,644.1 331.7,644.1 333.2,644.0 334.7,643.9 336.2,643.7 337.7,643.6 339.2,643.3 340.7,643.1 342.2,642.9 343.7,642.6 345.1,642.3 346.6,641.9 348.1,641.6 349.5,641.1 350.9,640.7 352.4,640.3 353.8,639.9 355.3,639.4 356.7,639.0 358.2,638.6 359.6,638.1 361.0,637.7 362.5,637.3 363.9,636.8 365.4,636.4 366.8,636.0 368.3,635.5 369.7,635.1 371.2,634.7 372.6,634.4 374.1,634.0 375.5,633.6 377.0,633.3 378.5,632.9 379.9,632.5 381.4,632.2 382.8,631.8 384.3,631.4 385.8,631.1 387.2,630.7 388.7,630.3 390.1,629.9 391.5,629.4 393.0,628.9 394.4,628.5 395.8,628.0 397.2,627.5 398.7,627.0 400.1,626.5 401.5,626.0 402.9,625.5 404.4,625.0 405.8,624.5 407.2,624.0 408.6,623.4 410.0,622.8 411.4,622.2 412.7,621.6 414.1,621.0 415.4,620.3 416.8,619.6 418.1,618.9 419.5,618.3 420.8,617.6 422.2,617.1 423.6,616.5 425.0,616.1 426.5,615.8 427.9,615.5 429.4,615.3 430.9,615.0 432.4,614.7 433.9,614.4 435.3,614.1 436.8,613.7 438.2,613.2 439.7,612.8 441.1,612.4 442.5,612.0 444.0,611.5 445.4,611.1 446.8,610.6 448.3,610.1 449.7,609.6 451.1,609.1 452.5,608.6 454.0,608.2 455.4,607.7 456.8,607.2 458.3,606.7 459.7,606.3 461.1,605.9 462.6,605.5 464.1,605.1 465.5,604.8 467.0,604.4 468.4,604.0 469.9,603.6 471.3,603.2 472.8,602.8 474.2,602.4 475.7,602.0 477.1,601.6 478.6,601.1 480.0,600.7 481.5,600.3 482.9,599.9 484.4,599.5 485.8,599.0 487.3,598.6 488.7,598.2 490.2,597.8 491.6,597.4" fill="none" stroke="#33cccf" stroke-width="6.4" stroke-linejoin="round" stroke-linecap="round"/>
<polyline points="46.5,768.0 47.5,766.8 48.4,765.7 49.4,764.5 50.4,763.4 51.4,762.2 52.3,761.1 53.3,759.9 54.3,758.8 55.2,757.6 56.2,756.5 57.2,755.3 58.1,754.2 59.1,753.0 60.1,751.9 61.0,750.7 62.0,749.5 62.9,748.4 63.9,747.2 64.8,746.0 65.7,744.8 66.7,743.7 67.6,742.5 68.6,741.3 69.5,740.1 70.4,738.9 71.4,737.7 72.3,736.6 73.2,735.4 74.1,734.1 75.0,732.9 75.8,731.7 76.7,730.5 77.6,729.3 78.5,728.1 79.4,726.8 80.3,725.6 81.1,724.4 82.0,723.1 82.9,721.9 83.7,720.7 84.6,719.4 85.4,718.2 86.3,717.0 87.2,715.7 88.0,714.5 88.9,713.3 89.7,712.0 90.6,710.8 91.4,709.5 92.2,708.3 93.1,707.0 93.9,705.8 94.8,704.5 95.6,703.3 96.5,702.0 97.3,700.8 98.2,699.6 99.1,698.4 100.0,697.2 100.9,695.9 101.8,694.7 102.7,693.5 103.6,692.3 104.5,691.1 105.3,689.9 106.2,688.6 107.1,687.4 107.9,686.1 108.8,684.9 109.6,683.7 110.6,682.5 111.5,681.3 112.5,680.2 113.5,679.1 114.5,678.0 115.6,676.9 116.7,675.9 117.8,674.8 118.9,673.8 120.0,672.8 121.1,671.8 122.2,670.8 123.3,669.8 124.5,668.8 125.6,667.8 126.7,666.8 127.9,665.8 129.0,664.9 130.2,663.9 131.3,662.9 132.5,661.9 133.6,661.0 134.8,660.0 135.9,659.0 137.1,658.0 138.2,657.0 139.3,656.1 140.5,655.1 141.6,654.1 142.7,653.1 143.8,652.1 144.9,651.0 145.9,649.9 146.8,648.7 147.8,647.6 148.7,646.4 149.6,645.2 150.6,644.0 151.5,642.8 152.4,641.6 153.3,640.4 154.3,639.2 155.2,638.1 156.1,636.9 157.1,635.7 158.1,634.6 159.1,633.4 160.1,632.3 161.1,631.2 162.1,630.1 163.1,629.0 164.2,627.9 165.2,626.8 166.3,625.8 167.4,624.7 168.5,623.7 169.6,622.7 170.8,621.8 172.0,620.9 173.2,620.0 174.5,619.2 175.7,618.4 177.0,617.6 178.3,616.8 179.5,616.0 180.8,615.2 182.1,614.5 183.4,613.7 184.8,613.0 186.1,612.3 187.4,611.5 188.7,610.8 190.1,610.1 191.4,609.5 192.8,608.8 194.1,608.1 195.5,607.5 196.8,606.8 198.2,606.2 199.6,605.6 200.9,604.9 202.3,604.3 203.7,603.8 205.1,603.2 206.5,602.6 207.9,602.0 209.3,601.5 210.7,601.0 212.1,600.5 213.6,600.0 215.0,599.6 216.4,599.1 217.9,598.7 219.3,598.2 220.7,597.8 222.2,597.3 223.6,596.9 225.1,596.5 226.5,596.0 227.9,595.5 229.3,595.0 230.7,594.4 232.1,593.8 233.4,593.1 234.7,592.4 236.0,591.7 237.4,591.0 238.7,590.3 240.1,589.6 241.4,589.0 242.8,588.4 244.2,587.8 245.6,587.3 247.0,586.7 248.4,586.2 249.8,585.7 251.2,585.2 252.7,584.7 254.1,584.3 255.6,583.8 257.0,583.4 258.4,582.9 259.9,582.5 261.3,582.0 262.7,581.5 264.1,581.0 265.6,580.5 267.0,580.1 268.4,579.6 269.8,579.1 271.3,578.6 272.7,578.1 274.1,577.6 275.5,577.1 276.9,576.6 278.3,576.0 279.7,575.5 281.1,574.9 282.5,574.3 283.9,573.7 285.3,573.1 286.7,572.5 288.0,571.9 289.4,571.3 290.8,570.7 292.1,570.0 293.5,569.4 294.9,568.8 296.3,568.2 297.6,567.6 299.0,566.9 300.4,566.3 301.8,565.7 303.1,565.1 304.5,564.5 305.9,563.9 307.3,563.2 308.6,562.6 310.0,562.0 311.4,561.5 312.8,560.9 314.2,560.3 315.6,559.8 317.0,559.2 318.4,558.6 319.8,558.1 321.2,557.5 322.6,557.0 324.0,556.4 325.4,555.9 326.8,555.3 328.2,554.8 329.6,554.3 331.0,553.8 332.5,553.3 333.9,552.8 335.3,552.4 336.8,552.0 338.2,551.6 339.7,551.3 341.2,551.0 342.7,550.8 344.1,550.6 345.6,550.4 347.1,550.3 348.6,550.1 350.1,549.9 351.6,549.7 353.1,549.5 354.6,549.3 356.1,549.1 357.6,548.9 359.1,548.6 360.6,548.4 362.0,548.1 363.5,547.9 365.0,547.7 366.5,547.4 368.0,547.2 369.5,547.0 371.0,546.9 372.5,546.8 374.0,546.7 375.5,546.6 377.0,546.6 378.5,546.5 380.0,546.5" fill="none" stroke="#7777ad" stroke-width="6.4" stroke-linejoin="round" stroke-linecap="round"/>
<polyline points="46.5,771.0 47.5,769.9 48.6,768.8 49.6,767.8 50.7,766.7 51.7,765.6 52.8,764.5 53.8,763.4 54.9,762.3 55.9,761.3 56.9,760.2 58.0,759.1 59.0,758.0 60.1,756.9 61.1,755.9 62.2,754.8 63.3,753.7 64.3,752.7 65.4,751.6 66.5,750.5 67.5,749.5 68.6,748.4 69.6,747.3 70.7,746.2 71.7,745.1 72.7,744.0 73.7,742.9 74.7,741.8 75.7,740.7 76.8,739.6 77.8,738.5 78.8,737.3 79.8,736.2 80.8,735.1 81.8,734.0 82.9,732.9 83.9,731.8 84.9,730.7 86.0,729.6 87.0,728.5 88.0,727.4 89.1,726.4 90.1,725.3 91.1,724.2 92.2,723.1 93.2,722.0 94.3,721.0 95.4,719.9 96.4,718.8 97.5,717.8 98.6,716.7 99.7,715.7 100.7,714.6 101.8,713.6 102.9,712.5 104.0,711.5 105.1,710.5 106.2,709.4 107.2,708.4 108.3,707.3 109.4,706.3 110.5,705.2 111.6,704.2 112.6,703.1 113.7,702.0 114.7,701.0 115.8,699.9 116.8,698.8 117.9,697.7 118.9,696.6 119.9,695.5 121.0,694.4 122.0,693.4 123.0,692.3 124.1,691.1 125.1,690.0 126.1,688.9 127.1,687.8 128.1,686.7 129.1,685.6 130.2,684.5 131.2,683.4 132.2,682.3 133.2,681.2 134.3,680.1 135.3,679.1 136.4,678.0 137.5,677.0 138.7,676.0 139.8,675.0 140.9,674.0 142.1,673.0 143.2,672.1 144.3,671.1 145.4,670.1 146.6,669.0 147.7,668.0 148.8,667.0 149.9,666.0 151.0,665.0 152.1,664.0 153.2,663.0 154.3,661.9 155.4,660.9 156.5,659.8 157.5,658.7 158.5,657.6 159.5,656.5 160.5,655.4 161.5,654.3 162.5,653.1 163.5,652.0 164.5,650.9 165.5,649.7 166.5,648.6 167.5,647.5 168.6,646.4 169.6,645.3 170.6,644.2 171.7,643.1 172.7,642.1 173.7,641.0 174.8,639.9 175.9,638.8 176.9,637.8 178.0,636.7 179.1,635.7 180.2,634.6 181.3,633.6 182.3,632.6 183.4,631.5 184.5,630.5 185.7,629.5 186.8,628.5 187.9,627.5 189.1,626.5 190.2,625.5 191.3,624.6 192.5,623.6 193.6,622.6 194.8,621.7 196.0,620.7 197.1,619.7 198.3,618.8 199.4,617.8 200.6,616.8 201.7,615.9 202.9,614.9 204.1,614.0 205.2,613.0 206.4,612.1 207.5,611.1 208.7,610.1 209.8,609.2 211.0,608.2 212.1,607.2 213.2,606.2 214.3,605.2 215.4,604.1 216.6,603.1 217.7,602.1 218.8,601.1 219.9,600.1 220.9,599.0 222.0,598.0 223.1,596.9 224.2,595.8 225.2,594.8 226.3,593.7 227.4,592.7 228.4,591.6 229.6,590.6 230.7,589.6 231.8,588.7 233.0,587.8 234.2,586.8 235.4,585.9 236.6,585.0 237.8,584.1 239.0,583.2 240.3,582.4 241.5,581.5 242.7,580.6 243.9,579.7 245.2,578.9 246.4,578.0 247.6,577.2 248.9,576.3 250.1,575.4 251.3,574.6 252.6,573.7 253.8,572.8 255.0,572.0 256.3,571.1 257.5,570.2 258.7,569.4 259.9,568.5 261.2,567.6 262.4,566.7 263.6,565.9 264.8,565.0 266.1,564.1 267.3,563.3 268.5,562.4 269.8,561.6 271.0,560.7 272.3,559.9 273.6,559.1 274.9,558.3 276.1,557.5 277.4,556.7 278.7,555.9 280.0,555.1 281.2,554.4 282.5,553.6 283.8,552.8 285.1,552.1 286.4,551.3 287.8,550.6 289.1,550.0 290.5,549.3 291.8,548.6 293.1,547.9 294.5,547.2 295.8,546.6 297.2,545.9 298.5,545.1 299.8,544.4 301.1,543.7 302.4,542.9 303.7,542.2 305.0,541.4 306.3,540.7 307.6,539.9 308.9,539.2 310.2,538.4 311.5,537.7 312.8,536.9 314.2,536.2 315.5,535.5 316.8,534.8 318.1,534.0 319.5,533.3 320.8,532.6 322.1,532.0 323.5,531.3 324.8,530.6 326.2,529.9 327.5,529.2 328.8,528.6 330.2,527.9 331.5,527.2 332.9,526.6 334.2,525.9 335.6,525.2 336.9,524.6 338.3,523.9 339.6,523.3 341.0,522.7 342.4,522.1 343.8,521.5 345.2,520.9 346.6,520.4 348.0,519.8 349.4,519.2 350.7,518.6 352.1,518.0 353.5,517.4 354.9,516.8 356.3,516.2 357.6,515.6 359.0,515.0 360.4,514.4 361.8,513.8 363.2,513.2 364.6,512.7 366.0,512.1 367.4,511.5 368.7,511.0 370.1,510.4 371.5,509.8 372.9,509.2 374.3,508.6 375.6,508.0 377.0,507.4 378.4,506.7 379.8,506.2 381.2,505.6 382.5,505.0 383.9,504.4 385.3,503.9 386.7,503.3 388.1,502.7 389.5,502.2 390.9,501.6 392.3,501.0 393.6,500.4 395.0,499.7 396.4,499.1 397.8,498.5 399.2,497.9 400.5,497.3 401.9,496.8 403.3,496.2 404.7,495.6 406.1,495.1 407.5,494.5 408.9,493.9 410.3,493.4 411.7,492.8 413.1,492.3 414.5,491.7 415.9,491.2 417.3,490.6 418.7,490.1 420.1,489.5 421.5,488.9 422.9,488.3 424.2,487.7 425.6,487.1 427.0,486.5 428.4,485.9 429.7,485.3 431.1,484.7 432.5,484.1 433.9,483.4 435.2,482.8 436.6,482.2 438.0,481.7 439.4,481.1 440.8,480.5 442.2,480.0 443.6,479.4 445.0,478.8 446.4,478.3 447.8,477.7 449.2,477.2 450.6,476.6 452.0,476.1 453.4,475.5 454.8,474.9 456.2,474.4 457.6,473.8 459.0,473.3 460.3,472.7 461.7,472.1 463.1,471.6 464.5,471.0 465.9,470.4 467.3,469.9 468.7,469.3 470.1,468.8 471.5,468.2 472.9,467.6 474.3,467.1 475.7,466.5 477.1,466.0 478.5,465.4 479.9,464.9 481.3,464.3 482.7,463.8 484.1,463.2 485.5,462.7 486.9,462.1 488.3,461.6 489.7,461.0" fill="none" stroke="#a8863a" stroke-width="7.0" stroke-opacity="0.35" stroke-linejoin="round" stroke-linecap="butt"/>
<polyline points="46.5,771.0 47.5,769.9 48.6,768.8 49.6,767.8 50.7,766.7 51.7,765.6 52.8,764.5 53.8,763.4 54.9,762.3 55.9,761.3 56.9,760.2 58.0,759.1 59.0,758.0 60.1,756.9 61.1,755.9 62.2,754.8 63.3,753.7 64.3,752.7 65.4,751.6 66.5,750.5 67.5,749.5 68.6,748.4 69.6,747.3 70.7,746.2 71.7,745.1 72.7,744.0 73.7,742.9 74.7,741.8 75.7,740.7 76.8,739.6 77.8,738.5 78.8,737.3 79.8,736.2 80.8,735.1 81.8,734.0 82.9,732.9 83.9,731.8 84.9,730.7 86.0,729.6 87.0,728.5 88.0,727.4 89.1,726.4 90.1,725.3 91.1,724.2 92.2,723.1 93.2,722.0 94.3,721.0 95.4,719.9 96.4,718.8 97.5,717.8 98.6,716.7 99.7,715.7 100.7,714.6 101.8,713.6 102.9,712.5 104.0,711.5 105.1,710.5 106.2,709.4 107.2,708.4 108.3,707.3 109.4,706.3 110.5,705.2 111.6,704.2 112.6,703.1 113.7,702.0 114.7,701.0 115.8,699.9 116.8,698.8 117.9,697.7 118.9,696.6 119.9,695.5 121.0,694.4 122.0,693.4 123.0,692.3 124.1,691.1 125.1,690.0 126.1,688.9 127.1,687.8 128.1,686.7 129.1,685.6 130.2,684.5 131.2,683.4 132.2,682.3 133.2,681.2 134.3,680.1 135.3,679.1 136.4,678.0 137.5,677.0 138.7,676.0 139.8,675.0 140.9,674.0 142.1,673.0 143.2,672.1 144.3,671.1 145.4,670.1 146.6,669.0 147.7,668.0 148.8,667.0 149.9,666.0 151.0,665.0 152.1,664.0 153.2,663.0 154.3,661.9 155.4,660.9 156.5,659.8 157.5,658.7 158.5,657.6 159.5,656.5 160.5,655.4 161.5,654.3 162.5,653.1 163.5,652.0 164.5,650.9 165.5,649.7 166.5,648.6 167.5,647.5 168.6,646.4 169.6,645.3 170.6,644.2 171.7,643.1 172.7,642.1 173.7,641.0 174.8,639.9 175.9,638.8 176.9,637.8 178.0,636.7 179.1,635.7 180.2,634.6 181.3,633.6 182.3,632.6 183.4,631.5 184.5,630.5 185.7,629.5 186.8,628.5 187.9,627.5 189.1,626.5 190.2,625.5 191.3,624.6 192.5,623.6 193.6,622.6 194.8,621.7 196.0,620.7 197.1,619.7 198.3,618.8 199.4,617.8 200.6,616.8 201.7,615.9 202.9,614.9 204.1,614.0 205.2,613.0 206.4,612.1 207.5,611.1 208.7,610.1 209.8,609.2 211.0,608.2 212.1,607.2 213.2,606.2 214.3,605.2 215.4,604.1 216.6,603.1 217.7,602.1 218.8,601.1 219.9,600.1 220.9,599.0 222.0,598.0 223.1,596.9 224.2,595.8 225.2,594.8 226.3,593.7 227.4,592.7 228.4,591.6 229.6,590.6 230.7,589.6 231.8,588.7 233.0,587.8 234.2,586.8 235.4,585.9 236.6,585.0 237.8,584.1 239.0,583.2 240.3,582.4 241.5,581.5 242.7,580.6 243.9,579.7 245.2,578.9 246.4,578.0 247.6,577.2 248.9,576.3 250.1,575.4 251.3,574.6 252.6,573.7 253.8,572.8 255.0,572.0 256.3,571.1 257.5,570.2 258.7,569.4 259.9,568.5 261.2,567.6 262.4,566.7 263.6,565.9 264.8,565.0 266.1,564.1 267.3,563.3 268.5,562.4 269.8,561.6 271.0,560.7 272.3,559.9 273.6,559.1 274.9,558.3 276.1,557.5 277.4,556.7 278.7,555.9 280.0,555.1 281.2,554.4 282.5,553.6 283.8,552.8 285.1,552.1 286.4,551.3 287.8,550.6 289.1,550.0 290.5,549.3 291.8,548.6 293.1,547.9 294.5,547.2 295.8,546.6 297.2,545.9 298.5,545.1 299.8,544.4 301.1,543.7 302.4,542.9 303.7,542.2 305.0,541.4 306.3,540.7 307.6,539.9 308.9,539.2 310.2,538.4 311.5,537.7 312.8,536.9 314.2,536.2 315.5,535.5 316.8,534.8 318.1,534.0 319.5,533.3 320.8,532.6 322.1,532.0 323.5,531.3 324.8,530.6 326.2,529.9 327.5,529.2 328.8,528.6 330.2,527.9 331.5,527.2 332.9,526.6 334.2,525.9 335.6,525.2 336.9,524.6 338.3,523.9 339.6,523.3 341.0,522.7 342.4,522.1 343.8,521.5 345.2,520.9 346.6,520.4 348.0,519.8 349.4,519.2 350.7,518.6 352.1,518.0 353.5,517.4 354.9,516.8 356.3,516.2 357.6,515.6 359.0,515.0 360.4,514.4 361.8,513.8 363.2,513.2 364.6,512.7 366.0,512.1 367.4,511.5 368.7,511.0 370.1,510.4 371.5,509.8 372.9,509.2 374.3,508.6 375.6,508.0 377.0,507.4 378.4,506.7 379.8,506.2 381.2,505.6 382.5,505.0 383.9,504.4 385.3,503.9 386.7,503.3 388.1,502.7 389.5,502.2 390.9,501.6 392.3,501.0 393.6,500.4 395.0,499.7 396.4,499.1 397.8,498.5 399.2,497.9 400.5,497.3 401.9,496.8 403.3,496.2 404.7,495.6 406.1,495.1 407.5,494.5 408.9,493.9 410.3,493.4 411.7,492.8 413.1,492.3 414.5,491.7 415.9,491.2 417.3,490.6 418.7,490.1 420.1,489.5 421.5,488.9 422.9,488.3 424.2,487.7 425.6,487.1 427.0,486.5 428.4,485.9 429.7,485.3 431.1,484.7 432.5,484.1 433.9,483.4 435.2,482.8 436.6,482.2 438.0,481.7 439.4,481.1 440.8,480.5 442.2,480.0 443.6,479.4 445.0,478.8 446.4,478.3 447.8,477.7 449.2,477.2 450.6,476.6 452.0,476.1 453.4,475.5 454.8,474.9 456.2,474.4 457.6,473.8 459.0,473.3 460.3,472.7 461.7,472.1 463.1,471.6 464.5,471.0 465.9,470.4 467.3,469.9 468.7,469.3 470.1,468.8 471.5,468.2 472.9,467.6 474.3,467.1 475.7,466.5 477.1,466.0 478.5,465.4 479.9,464.9 481.3,464.3 482.7,463.8 484.1,463.2 485.5,462.7 486.9,462.1 488.3,461.6 489.7,461.0" fill="none" stroke="#a8863a" stroke-width="5.8" stroke-linejoin="round" stroke-linecap="round"/>
<polyline points="46.5,771.0 47.5,769.8 48.4,768.7 49.4,767.5 50.3,766.3 51.3,765.2 52.3,764.0 53.3,762.9 54.3,761.8 55.3,760.7 56.4,759.6 57.4,758.6 58.5,757.5 59.6,756.4 60.6,755.4 61.7,754.3 62.8,753.2 63.8,752.2 64.9,751.1 66.0,750.0 67.0,749.0 68.1,747.9 69.2,746.9 70.3,745.9 71.5,744.9 72.6,743.9 73.8,743.0 75.0,742.0 76.1,741.1 77.3,740.2 78.5,739.2 79.7,738.3 80.9,737.4 82.1,736.5 83.4,735.7 84.6,734.8 85.8,733.9 87.1,733.1 88.3,732.2 89.5,731.4 90.8,730.5 92.0,729.7 93.3,728.9 94.6,728.0 95.8,727.2 97.1,726.4 98.4,725.6 99.6,724.7 100.9,723.9 102.2,723.1 103.4,722.3 104.7,721.5 105.9,720.6 107.2,719.8 108.5,719.0 109.7,718.2 111.0,717.3 112.2,716.5 113.5,715.7 114.8,714.8 116.0,714.0 117.3,713.2 118.5,712.3 119.8,711.5 121.1,710.7 122.3,709.9 123.6,709.2 125.0,708.4 126.3,707.7 127.6,707.0 128.9,706.3 130.3,705.6 131.6,704.8 132.9,704.1 134.3,703.4 135.6,702.7 136.9,702.0 138.3,701.4 139.6,700.7 141.0,700.0 142.3,699.3 143.6,698.6 145.0,697.9 146.3,697.2 147.6,696.5 148.9,695.7 150.2,695.0 151.5,694.2 152.8,693.4 154.1,692.7 155.4,691.9 156.6,691.0 157.9,690.2 159.1,689.3 160.3,688.3 161.4,687.4 162.6,686.5 163.8,685.6 165.1,684.7 166.3,683.9 167.6,683.1 168.9,682.4 170.2,681.6 171.6,680.9 172.9,680.2 174.2,679.5 175.6,678.9 177.0,678.3 178.3,677.7 179.7,677.1 181.1,676.5 182.5,676.0 183.9,675.4 185.3,674.9 186.7,674.3 188.1,673.7 189.5,673.2 190.9,672.6 192.3,672.1 193.7,671.5 195.1,670.9 196.5,670.4 197.9,669.8 199.3,669.3 200.7,668.7 202.1,668.2 203.5,667.6 205.0,667.1 206.4,666.6 207.8,666.2 209.3,665.7 210.7,665.3 212.1,664.9 213.6,664.4 215.0,664.0 216.5,663.6 217.9,663.1 219.4,662.7 220.8,662.3 222.3,661.9 223.7,661.5 225.2,661.1 226.6,660.7 228.1,660.3 229.5,659.9 231.0,659.5 232.4,659.1 233.9,658.7 235.3,658.3 236.8,657.9 238.2,657.4 239.7,657.0 241.1,656.5 242.5,656.0 243.9,655.4 245.3,654.9 246.7,654.3 248.1,653.8 249.5,653.2 250.9,652.6 252.3,652.1 253.7,651.5 255.1,651.0 256.5,650.4 257.9,649.9 259.3,649.3 260.7,648.8 262.1,648.2 263.6,647.7 265.0,647.2 266.4,646.7 267.8,646.2 269.2,645.7 270.6,645.2 272.1,644.7 273.5,644.1 274.9,643.6 276.3,643.1 277.7,642.6 279.2,642.1 280.6,641.7 282.0,641.2 283.5,640.8 284.9,640.3 286.3,639.9 287.8,639.4 289.2,639.0 290.7,638.5 292.1,638.1 293.6,637.7 295.0,637.2 296.4,636.8 297.9,636.3 299.3,635.8 300.7,635.3 302.1,634.8 303.5,634.2 304.9,633.7 306.3,633.1 307.7,632.5 309.1,632.0 310.5,631.4 311.9,630.9 313.3,630.3 314.7,629.8 316.1,629.3 317.5,628.7 319.0,628.2 320.4,627.7 321.8,627.1 323.2,626.6 324.6,626.1 326.0,625.5 327.4,625.0 328.8,624.5 330.3,624.0 331.7,623.5 333.1,623.0 334.5,622.5 336.0,622.1 337.4,621.6 338.8,621.1 340.3,620.7 341.7,620.2 343.1,619.7 344.6,619.3 346.0,618.8 347.4,618.4 348.9,617.9 350.3,617.5 351.8,617.1 353.2,616.7 354.7,616.3 356.2,616.0 357.6,615.6 359.1,615.2 360.5,614.9 362.0,614.5 363.5,614.1 364.9,613.8 366.4,613.4 367.9,613.0 369.3,612.7 370.8,612.3 372.2,611.9 373.7,611.6 375.2,611.2 376.6,610.8 378.1,610.5 379.6,610.1 381.0,609.7 382.5,609.4 383.9,609.0 385.4,608.7 386.9,608.3 388.3,607.9 389.8,607.6 391.3,607.2 392.7,606.9 394.2,606.6 395.7,606.2 397.1,605.9 398.6,605.6 400.1,605.2 401.6,604.9 403.0,604.6 404.5,604.2 406.0,603.9 407.4,603.6 408.9,603.3 410.4,602.9 411.9,602.6 413.3,602.3 414.8,602.0 416.3,601.7 417.8,601.4 419.2,601.1 420.7,600.7 422.2,600.3 423.6,600.0 425.1,599.5 426.5,599.1 428.0,598.7 429.4,598.3 430.9,597.9 432.3,597.5 433.7,597.0 435.2,596.6 436.6,596.2 438.1,595.8 439.5,595.3 441.0,594.9 442.4,594.5 443.9,594.1 445.3,593.7 446.8,593.3 448.2,592.9 449.7,592.5 451.2,592.1 452.6,591.8 454.1,591.4 455.5,591.0 457.0,590.6 458.5,590.3 459.9,589.9 461.4,589.5 462.8,589.2 464.3,588.8 465.8,588.4 467.2,588.1 468.7,587.7 470.2,587.4 471.6,587.0 473.1,586.6 474.5,586.3 476.0,585.9 477.5,585.5 478.9,585.2 480.4,584.8 481.9,584.5 483.3,584.2 484.8,583.9 486.3,583.7 487.8,583.5 489.3,583.4 490.8,583.2 492.3,583.1" fill="none" stroke="#99a5f3" stroke-width="7.3999999999999995" stroke-opacity="0.35" stroke-linejoin="round" stroke-linecap="butt"/>
<polyline points="46.5,771.0 47.5,769.8 48.4,768.7 49.4,767.5 50.3,766.3 51.3,765.2 52.3,764.0 53.3,762.9 54.3,761.8 55.3,760.7 56.4,759.6 57.4,758.6 58.5,757.5 59.6,756.4 60.6,755.4 61.7,754.3 62.8,753.2 63.8,752.2 64.9,751.1 66.0,750.0 67.0,749.0 68.1,747.9 69.2,746.9 70.3,745.9 71.5,744.9 72.6,743.9 73.8,743.0 75.0,742.0 76.1,741.1 77.3,740.2 78.5,739.2 79.7,738.3 80.9,737.4 82.1,736.5 83.4,735.7 84.6,734.8 85.8,733.9 87.1,733.1 88.3,732.2 89.5,731.4 90.8,730.5 92.0,729.7 93.3,728.9 94.6,728.0 95.8,727.2 97.1,726.4 98.4,725.6 99.6,724.7 100.9,723.9 102.2,723.1 103.4,722.3 104.7,721.5 105.9,720.6 107.2,719.8 108.5,719.0 109.7,718.2 111.0,717.3 112.2,716.5 113.5,715.7 114.8,714.8 116.0,714.0 117.3,713.2 118.5,712.3 119.8,711.5 121.1,710.7 122.3,709.9 123.6,709.2 125.0,708.4 126.3,707.7 127.6,707.0 128.9,706.3 130.3,705.6 131.6,704.8 132.9,704.1 134.3,703.4 135.6,702.7 136.9,702.0 138.3,701.4 139.6,700.7 141.0,700.0 142.3,699.3 143.6,698.6 145.0,697.9 146.3,697.2 147.6,696.5 148.9,695.7 150.2,695.0 151.5,694.2 152.8,693.4 154.1,692.7 155.4,691.9 156.6,691.0 157.9,690.2 159.1,689.3 160.3,688.3 161.4,687.4 162.6,686.5 163.8,685.6 165.1,684.7 166.3,683.9 167.6,683.1 168.9,682.4 170.2,681.6 171.6,680.9 172.9,680.2 174.2,679.5 175.6,678.9 177.0,678.3 178.3,677.7 179.7,677.1 181.1,676.5 182.5,676.0 183.9,675.4 185.3,674.9 186.7,674.3 188.1,673.7 189.5,673.2 190.9,672.6 192.3,672.1 193.7,671.5 195.1,670.9 196.5,670.4 197.9,669.8 199.3,669.3 200.7,668.7 202.1,668.2 203.5,667.6 205.0,667.1 206.4,666.6 207.8,666.2 209.3,665.7 210.7,665.3 212.1,664.9 213.6,664.4 215.0,664.0 216.5,663.6 217.9,663.1 219.4,662.7 220.8,662.3 222.3,661.9 223.7,661.5 225.2,661.1 226.6,660.7 228.1,660.3 229.5,659.9 231.0,659.5 232.4,659.1 233.9,658.7 235.3,658.3 236.8,657.9 238.2,657.4 239.7,657.0 241.1,656.5 242.5,656.0 243.9,655.4 245.3,654.9 246.7,654.3 248.1,653.8 249.5,653.2 250.9,652.6 252.3,652.1 253.7,651.5 255.1,651.0 256.5,650.4 257.9,649.9 259.3,649.3 260.7,648.8 262.1,648.2 263.6,647.7 265.0,647.2 266.4,646.7 267.8,646.2 269.2,645.7 270.6,645.2 272.1,644.7 273.5,644.1 274.9,643.6 276.3,643.1 277.7,642.6 279.2,642.1 280.6,641.7 282.0,641.2 283.5,640.8 284.9,640.3 286.3,639.9 287.8,639.4 289.2,639.0 290.7,638.5 292.1,638.1 293.6,637.7 295.0,637.2 296.4,636.8 297.9,636.3 299.3,635.8 300.7,635.3 302.1,634.8 303.5,634.2 304.9,633.7 306.3,633.1 307.7,632.5 309.1,632.0 310.5,631.4 311.9,630.9 313.3,630.3 314.7,629.8 316.1,629.3 317.5,628.7 319.0,628.2 320.4,627.7 321.8,627.1 323.2,626.6 324.6,626.1 326.0,625.5 327.4,625.0 328.8,624.5 330.3,624.0 331.7,623.5 333.1,623.0 334.5,622.5 336.0,622.1 337.4,621.6 338.8,621.1 340.3,620.7 341.7,620.2 343.1,619.7 344.6,619.3 346.0,618.8 347.4,618.4 348.9,617.9 350.3,617.5 351.8,617.1 353.2,616.7 354.7,616.3 356.2,616.0 357.6,615.6 359.1,615.2 360.5,614.9 362.0,614.5 363.5,614.1 364.9,613.8 366.4,613.4 367.9,613.0 369.3,612.7 370.8,612.3 372.2,611.9 373.7,611.6 375.2,611.2 376.6,610.8 378.1,610.5 379.6,610.1 381.0,609.7 382.5,609.4 383.9,609.0 385.4,608.7 386.9,608.3 388.3,607.9 389.8,607.6 391.3,607.2 392.7,606.9 394.2,606.6 395.7,606.2 397.1,605.9 398.6,605.6 400.1,605.2 401.6,604.9 403.0,604.6 404.5,604.2 406.0,603.9 407.4,603.6 408.9,603.3 410.4,602.9 411.9,602.6 413.3,602.3 414.8,602.0 416.3,601.7 417.8,601.4 419.2,601.1 420.7,600.7 422.2,600.3 423.6,600.0 425.1,599.5 426.5,599.1 428.0,598.7 429.4,598.3 430.9,597.9 432.3,597.5 433.7,597.0 435.2,596.6 436.6,596.2 438.1,595.8 439.5,595.3 441.0,594.9 442.4,594.5 443.9,594.1 445.3,593.7 446.8,593.3 448.2,592.9 449.7,592.5 451.2,592.1 452.6,591.8 454.1,591.4 455.5,591.0 457.0,590.6 458.5,590.3 459.9,589.9 461.4,589.5 462.8,589.2 464.3,588.8 465.8,588.4 467.2,588.1 468.7,587.7 470.2,587.4 471.6,587.0 473.1,586.6 474.5,586.3 476.0,585.9 477.5,585.5 478.9,585.2 480.4,584.8 481.9,584.5 483.3,584.2 484.8,583.9 486.3,583.7 487.8,583.5 489.3,583.4 490.8,583.2 492.3,583.1" fill="none" stroke="#99a5f3" stroke-width="6.6" stroke-linejoin="round" stroke-linecap="round"/>
<polyline points="46.5,763.2 47.5,762.0 48.4,760.9 49.4,759.7 50.4,758.5 51.3,757.4 52.3,756.2 53.2,755.0 54.1,753.8 55.0,752.6 55.9,751.3 56.8,750.1 57.7,748.9 58.6,747.6 59.4,746.4 60.3,745.1 61.2,743.9 62.0,742.6 62.9,741.4 63.7,740.1 64.6,738.9 65.4,737.6 66.2,736.4 67.1,735.1 67.9,733.8 68.7,732.6 69.6,731.3 70.4,730.0 71.2,728.8 72.1,727.5 72.9,726.2 73.7,725.0 74.6,723.7 75.4,722.4 76.2,721.2 77.1,719.9 77.9,718.6 78.8,717.4 79.6,716.1 80.4,714.9 81.3,713.6 82.1,712.3 83.0,711.1 83.8,709.8 84.6,708.5 85.5,707.3 86.3,706.0 87.2,704.8 88.0,703.5 88.9,702.3 89.7,701.0 90.6,699.8 91.5,698.5 92.3,697.3 93.2,696.1 94.1,694.8 95.0,693.6 95.8,692.3 96.7,691.1 97.5,689.8 98.3,688.5 99.2,687.3 100.0,686.0 100.7,684.7 101.5,683.4 102.3,682.1 103.1,680.8 103.9,679.5 104.8,678.3 105.6,677.0 106.4,675.7 107.2,674.4 108.0,673.1 108.8,671.9 109.6,670.6 110.4,669.3 111.2,668.0 112.0,666.7 112.8,665.4 113.7,664.2 114.5,662.9 115.3,661.6 116.1,660.3 116.9,659.0 117.7,657.7 118.5,656.4 119.3,655.2 120.1,653.9 120.9,652.6 121.8,651.4 122.6,650.1 123.4,648.8 124.3,647.6 125.1,646.3 126.0,645.0 126.8,643.8 127.7,642.5 128.5,641.3 129.4,640.1 130.3,638.8 131.2,637.6 132.2,636.5 133.2,635.3 134.2,634.2 135.1,633.0 136.1,631.9 137.1,630.7 138.1,629.6 139.1,628.4 140.1,627.2 141.0,626.1 142.0,624.9 142.9,623.7 143.8,622.5 144.7,621.3 145.6,620.0 146.5,618.8 147.4,617.6 148.3,616.4 149.2,615.2 150.2,614.0 151.1,612.8 152.1,611.7 153.1,610.6 154.1,609.4 155.2,608.3 156.2,607.2 157.2,606.1 158.2,605.0 159.3,603.9 160.3,602.8 161.4,601.7 162.4,600.6 163.5,599.5 164.6,598.4 165.6,597.4 166.7,596.3 167.8,595.2 168.9,594.2 170.0,593.2 171.1,592.2 172.3,591.2 173.5,590.3 174.7,589.4 175.9,588.5 177.2,587.6 178.4,586.7 179.7,585.9 180.9,585.0 182.1,584.1 183.4,583.2 184.6,582.3 185.8,581.4 187.0,580.5" fill="none" stroke="#f2a0a0" stroke-width="3" stroke-linejoin="round" stroke-linecap="round"/>
<defs><linearGradient id="g1_8" gradientUnits="userSpaceOnUse" x1="60" y1="0" x2="220" y2="0"><stop offset="0" stop-color="#c6aad6"/><stop offset="1" stop-color="#b0a0ba"/></linearGradient></defs>
<polyline points="46.5,772.0 47.6,771.0 48.7,770.0 49.8,768.9 50.9,767.9 52.0,766.9 53.1,765.8 54.2,764.8 55.3,763.7 56.4,762.7 57.5,761.7 58.6,760.7 59.8,759.8 61.0,758.9 62.3,758.1 63.6,757.3 64.8,756.5 66.1,755.7 67.5,755.0 68.8,754.3 70.1,753.6 71.5,752.9 72.8,752.3 74.2,751.6 75.6,751.0 76.9,750.4 78.3,749.8 79.7,749.2 81.1,748.6 82.5,748.0 83.9,747.5 85.3,746.9 86.7,746.4 88.1,745.8 89.5,745.3 90.9,744.9 92.4,744.5 93.8,744.1 95.3,743.7 96.8,743.3 98.2,742.9 99.7,742.5 101.1,742.1 102.6,741.7 104.0,741.3 105.5,740.9 106.9,740.4 108.4,740.0 109.8,739.6 111.2,739.1 112.7,738.7 114.1,738.3 115.6,737.9 117.0,737.5 118.5,737.0 119.9,736.6 121.4,736.2 122.8,735.8 124.3,735.5 125.8,735.1 127.2,734.7 128.7,734.4 130.1,734.0 131.6,733.7 133.1,733.3 134.5,732.9 136.0,732.6 137.5,732.2 138.9,731.9 140.4,731.5 141.9,731.2 143.4,730.9 144.8,730.6 146.3,730.3 147.8,730.0 149.3,729.7 150.7,729.3 152.2,729.0 153.7,728.7 155.2,728.4 156.6,728.1 158.1,727.8 159.6,727.5 161.1,727.2 162.6,727.0 164.0,726.7 165.5,726.5 167.0,726.2 168.5,726.0 170.0,725.7 171.5,725.5 173.0,725.2 174.4,724.9 175.9,724.7 177.4,724.5 178.9,724.2 180.4,724.0 181.9,723.8 183.4,723.6 184.9,723.5 186.4,723.3 187.9,723.1 189.4,723.0 190.9,722.8 192.4,722.6 193.9,722.5 195.4,722.3 196.9,722.2 198.4,722.0 199.9,721.9 201.4,721.8 202.9,721.8 204.4,721.7 205.9,721.7 207.4,721.6 208.9,721.6 210.4,721.5 211.9,721.5 213.4,721.5 214.9,721.4 216.4,721.4 217.9,721.3 219.4,721.3 221.0,721.2 222.5,721.1 224.0,721.0 225.5,720.9 227.0,720.8 228.5,720.7 230.0,720.7 231.5,720.6 233.0,720.5 234.5,720.4 236.0,720.3 237.5,720.2 239.0,720.1 240.5,720.0 242.0,719.9 243.5,719.8 245.0,719.7 246.5,719.7 248.0,719.6 249.5,719.5 251.0,719.4 252.6,719.4 254.1,719.3 255.6,719.2 257.1,719.1 258.6,719.0 260.1,718.9 261.6,718.8 263.1,718.7 264.6,718.5 266.1,718.4 267.6,718.2 269.1,718.1 270.6,717.9 272.1,717.8 273.6,717.6 275.1,717.5 276.6,717.3 278.1,717.2 279.6,717.1 281.1,716.9 282.6,716.8 284.1,716.7 285.6,716.6 287.1,716.5 288.6,716.4 290.1,716.3 291.6,716.2 293.1,716.1 294.6,716.0 296.1,715.9 297.6,715.8 299.1,715.7 300.6,715.5 302.1,715.4 303.6,715.3 305.1,715.2 306.6,715.1 308.1,714.9 309.6,714.8 311.1,714.7 312.7,714.6 314.2,714.5 315.7,714.3 317.2,714.2 318.7,714.1 320.2,714.0 321.7,713.8 323.2,713.7 324.7,713.5 326.2,713.4 327.7,713.2 329.2,713.1 330.7,712.9 332.2,712.8 333.7,712.6 335.2,712.4 336.6,712.2 338.1,712.0 339.6,711.8 341.1,711.5 342.6,711.3 344.1,711.0 345.6,710.8 347.1,710.5 348.5,710.3 350.0,710.0 351.5,709.8 353.0,709.5 354.5,709.2 356.0,709.0 357.5,708.7 358.9,708.4 360.4,708.1 361.9,707.8 363.4,707.5 364.8,707.2 366.3,706.9 367.8,706.6 369.3,706.3 370.8,706.0 372.2,705.8 373.7,705.5 375.2,705.2 376.7,704.9 378.1,704.6 379.6,704.3 381.1,704.0 382.6,703.7 384.1,703.4 385.5,703.1 387.0,702.8 388.5,702.5 390.0,702.2 391.4,701.9 392.9,701.6 394.4,701.3 395.9,701.1 397.4,700.8 398.9,700.5 400.3,700.3 401.8,700.0 403.3,699.8 404.8,699.5 406.3,699.3 407.8,699.0 409.3,698.7 410.7,698.5 412.2,698.2 413.7,698.0 415.2,697.7 416.7,697.5 418.2,697.3 419.7,697.0 421.2,696.8 422.6,696.5 424.1,696.3 425.6,696.1 427.1,695.8 428.6,695.6 430.1,695.3 431.6,695.1 433.1,694.9 434.6,694.7 436.0,694.4 437.5,694.2 439.0,694.1 440.5,693.9 442.0,693.7 443.5,693.5 445.0,693.4 446.5,693.2 448.0,693.0 449.5,692.8 451.0,692.7 452.5,692.5 454.0,692.3 455.5,692.1 457.0,692.0 458.5,691.8" fill="none" stroke="url(#g1_8)" stroke-width="6.8" stroke-opacity="0.35" stroke-linejoin="round" stroke-linecap="butt"/>
<polyline points="46.5,772.0 47.6,771.0 48.7,770.0 49.8,768.9 50.9,767.9 52.0,766.9 53.1,765.8 54.2,764.8 55.3,763.7 56.4,762.7 57.5,761.7 58.6,760.7 59.8,759.8 61.0,758.9 62.3,758.1 63.6,757.3 64.8,756.5 66.1,755.7 67.5,755.0 68.8,754.3 70.1,753.6 71.5,752.9 72.8,752.3 74.2,751.6 75.6,751.0 76.9,750.4 78.3,749.8 79.7,749.2 81.1,748.6 82.5,748.0 83.9,747.5 85.3,746.9 86.7,746.4 88.1,745.8 89.5,745.3 90.9,744.9 92.4,744.5 93.8,744.1 95.3,743.7 96.8,743.3 98.2,742.9 99.7,742.5 101.1,742.1 102.6,741.7 104.0,741.3 105.5,740.9 106.9,740.4 108.4,740.0 109.8,739.6 111.2,739.1 112.7,738.7 114.1,738.3 115.6,737.9 117.0,737.5 118.5,737.0 119.9,736.6 121.4,736.2 122.8,735.8 124.3,735.5 125.8,735.1 127.2,734.7 128.7,734.4 130.1,734.0 131.6,733.7 133.1,733.3 134.5,732.9 136.0,732.6 137.5,732.2 138.9,731.9 140.4,731.5 141.9,731.2 143.4,730.9 144.8,730.6 146.3,730.3 147.8,730.0 149.3,729.7 150.7,729.3 152.2,729.0 153.7,728.7 155.2,728.4 156.6,728.1 158.1,727.8 159.6,727.5 161.1,727.2 162.6,727.0 164.0,726.7 165.5,726.5 167.0,726.2 168.5,726.0 170.0,725.7 171.5,725.5 173.0,725.2 174.4,724.9 175.9,724.7 177.4,724.5 178.9,724.2 180.4,724.0 181.9,723.8 183.4,723.6 184.9,723.5 186.4,723.3 187.9,723.1 189.4,723.0 190.9,722.8 192.4,722.6 193.9,722.5 195.4,722.3 196.9,722.2 198.4,722.0 199.9,721.9 201.4,721.8 202.9,721.8 204.4,721.7 205.9,721.7 207.4,721.6 208.9,721.6 210.4,721.5 211.9,721.5 213.4,721.5 214.9,721.4 216.4,721.4 217.9,721.3 219.4,721.3 221.0,721.2 222.5,721.1 224.0,721.0 225.5,720.9 227.0,720.8 228.5,720.7 230.0,720.7 231.5,720.6 233.0,720.5 234.5,720.4 236.0,720.3 237.5,720.2 239.0,720.1 240.5,720.0 242.0,719.9 243.5,719.8 245.0,719.7 246.5,719.7 248.0,719.6 249.5,719.5 251.0,719.4 252.6,719.4 254.1,719.3 255.6,719.2 257.1,719.1 258.6,719.0 260.1,718.9 261.6,718.8 263.1,718.7 264.6,718.5 266.1,718.4 267.6,718.2 269.1,718.1 270.6,717.9 272.1,717.8 273.6,717.6 275.1,717.5 276.6,717.3 278.1,717.2 279.6,717.1 281.1,716.9 282.6,716.8 284.1,716.7 285.6,716.6 287.1,716.5 288.6,716.4 290.1,716.3 291.6,716.2 293.1,716.1 294.6,716.0 296.1,715.9 297.6,715.8 299.1,715.7 300.6,715.5 302.1,715.4 303.6,715.3 305.1,715.2 306.6,715.1 308.1,714.9 309.6,714.8 311.1,714.7 312.7,714.6 314.2,714.5 315.7,714.3 317.2,714.2 318.7,714.1 320.2,714.0 321.7,713.8 323.2,713.7 324.7,713.5 326.2,713.4 327.7,713.2 329.2,713.1 330.7,712.9 332.2,712.8 333.7,712.6 335.2,712.4 336.6,712.2 338.1,712.0 339.6,711.8 341.1,711.5 342.6,711.3 344.1,711.0 345.6,710.8 347.1,710.5 348.5,710.3 350.0,710.0 351.5,709.8 353.0,709.5 354.5,709.2 356.0,709.0 357.5,708.7 358.9,708.4 360.4,708.1 361.9,707.8 363.4,707.5 364.8,707.2 366.3,706.9 367.8,706.6 369.3,706.3 370.8,706.0 372.2,705.8 373.7,705.5 375.2,705.2 376.7,704.9 378.1,704.6 379.6,704.3 381.1,704.0 382.6,703.7 384.1,703.4 385.5,703.1 387.0,702.8 388.5,702.5 390.0,702.2 391.4,701.9 392.9,701.6 394.4,701.3 395.9,701.1 397.4,700.8 398.9,700.5 400.3,700.3 401.8,700.0 403.3,699.8 404.8,699.5 406.3,699.3 407.8,699.0 409.3,698.7 410.7,698.5 412.2,698.2 413.7,698.0 415.2,697.7 416.7,697.5 418.2,697.3 419.7,697.0 421.2,696.8 422.6,696.5 424.1,696.3 425.6,696.1 427.1,695.8 428.6,695.6 430.1,695.3 431.6,695.1 433.1,694.9 434.6,694.7 436.0,694.4 437.5,694.2 439.0,694.1 440.5,693.9 442.0,693.7 443.5,693.5 445.0,693.4 446.5,693.2 448.0,693.0 449.5,692.8 451.0,692.7 452.5,692.5 454.0,692.3 455.5,692.1 457.0,692.0 458.5,691.8" fill="none" stroke="url(#g1_8)" stroke-width="5.6" stroke-linejoin="round" stroke-linecap="round"/>
<polyline points="46.5,770.0 47.6,769.0 48.7,767.9 49.8,766.9 50.9,765.8 52.0,764.8 53.1,763.8 54.2,762.7 55.3,761.7 56.4,760.7 57.5,759.7 58.6,758.6 59.7,757.6 60.9,756.6 62.0,755.6 63.1,754.6 64.2,753.5 65.3,752.5 66.3,751.4 67.3,750.3 68.3,749.2 69.3,748.0 70.3,746.9 71.2,745.7 72.2,744.5 73.2,743.4 74.1,742.2 75.1,741.1 76.1,739.9 77.0,738.7 78.0,737.6 79.0,736.4 79.9,735.2 80.9,734.1 81.9,732.9 82.8,731.7 83.8,730.6 84.7,729.4 85.7,728.3 86.7,727.1 87.6,725.9 88.6,724.8 89.5,723.6 90.5,722.4 91.5,721.3 92.4,720.1 93.3,718.9 94.2,717.7 95.1,716.4 95.9,715.2 96.8,713.9 97.6,712.7 98.4,711.4 99.3,710.1 100.1,708.9 100.9,707.6 101.8,706.4 102.7,705.2 103.6,704.0 104.6,702.8 105.6,701.7 106.6,700.6 107.6,699.5 108.6,698.4 109.6,697.2 110.7,696.1 111.7,695.0 112.7,693.9 113.7,692.8 114.7,691.7 115.7,690.5 116.8,689.4 117.8,688.3 118.8,687.2 119.8,686.1 120.8,684.9 121.8,683.8 122.8,682.7 123.8,681.6 124.9,680.5 125.9,679.3 126.9,678.2 127.9,677.1 128.9,676.0 129.9,674.9 131.0,673.8 132.0,672.6 133.0,671.5 134.0,670.4 135.0,669.3 136.0,668.2 137.0,667.0 138.0,665.9 139.1,664.8 140.1,663.7 141.1,662.5 142.1,661.4 143.1,660.3 144.1,659.2 145.1,658.0 146.1,656.9 147.1,655.8 148.1,654.6 149.0,653.5 150.0,652.3 151.0,651.2 152.0,650.0 153.0,648.9 153.9,647.7 154.9,646.5 155.9,645.4 156.8,644.2 157.8,643.0 158.7,641.8 159.6,640.6 160.5,639.5 161.5,638.2 162.4,637.0 163.3,635.8 164.2,634.6 165.1,633.4 166.0,632.3 167.0,631.1 167.9,629.9 168.9,628.7 169.9,627.6 171.0,626.6 172.1,625.6 173.2,624.6 174.4,623.6 175.5,622.7 176.7,621.7 177.9,620.8 179.1,619.9 180.3,619.0 181.6,618.1 182.8,617.3 184.1,616.5 185.3,615.6 186.6,614.8 187.9,614.0 189.1,613.1 190.4,612.3 191.6,611.4 192.8,610.5 194.1,609.6 195.3,608.7 196.5,607.9 197.7,607.0 199.0,606.1 200.2,605.3 201.5,604.4 202.7,603.6 204.0,602.8 205.3,602.0 206.6,601.2 207.9,600.4 209.2,599.7 210.5,598.9 211.8,598.1 213.1,597.4 214.4,596.6 215.7,595.8 217.0,595.1" fill="none" stroke="#d0a6dc" stroke-width="6.2" stroke-linejoin="round" stroke-linecap="round"/>
<path d="M44,771.5 L52.5,771.5 L51,775 L44,775 Z" fill="#8e7e98" opacity="0.85"/>
<rect x="540" y="505" width="80" height="180" fill="#fff"/>
<line x1="546" y1="513.8" x2="563.7" y2="513.8" stroke="#4d72d0" stroke-width="1.2" opacity="0.45"/>
<path d="M555,510.44999999999993 L558.35,513.8 L555,517.15 L551.65,513.8 Z" fill="#4d72d0"/>
<text x="566.3" y="517.5" font-size="10.3" fill="#222" stroke="#222" stroke-width="0.2">1</text>
<line x1="546" y1="531.6" x2="563.7" y2="531.6" stroke="#a0415c" stroke-width="1.2" opacity="0.45"/>
<rect x="552.25" y="528.8499999999999" width="5.5" height="5.5" fill="#8a3450"/>
<text x="566.3" y="535.3" font-size="10.3" fill="#222" stroke="#222" stroke-width="0.2">2</text>
<line x1="546" y1="549.4" x2="563.7" y2="549.4" stroke="#a0a42c" stroke-width="1.2" opacity="0.45"/>
<path d="M555,546.15 L558.25,551.85 L551.75,551.85 Z" fill="#8c8a38"/>
<text x="566.3" y="553.1" font-size="10.3" fill="#222" stroke="#222" stroke-width="0.2">3</text>
<line x1="546" y1="567.2" x2="563.7" y2="567.2" stroke="#7777ad" stroke-width="1.2" opacity="0.45"/>
<rect x="552.25" y="564.4499999999999" width="5.5" height="5.5" fill="#7272a6"/>
<text x="566.3" y="570.9" font-size="10.3" fill="#222" stroke="#222" stroke-width="0.2">4</text>
<line x1="546" y1="585.0" x2="563.7" y2="585.0" stroke="#33cccf" stroke-width="1.2" opacity="0.45"/>
<rect x="552.25" y="582.25" width="5.5" height="5.5" fill="#33cccf"/>
<text x="566.3" y="588.7" font-size="10.3" fill="#222" stroke="#222" stroke-width="0.2">5</text>
<line x1="546" y1="602.8" x2="563.7" y2="602.8" stroke="#a8863a" stroke-width="1.2" opacity="0.45"/>
<circle cx="555" cy="602.8" r="2.75" fill="#987434"/>
<text x="566.3" y="606.5" font-size="10.3" fill="#222" stroke="#222" stroke-width="0.2">6</text>
<line x1="546" y1="620.6" x2="563.7" y2="620.6" stroke="#99a5f3" stroke-width="1.2" opacity="0.45"/>
<rect x="552.25" y="617.8499999999999" width="5.5" height="5.5" fill="#99a5f3"/>
<line x1="555" y1="617.8499999999999" x2="555" y2="623.3499999999999" stroke="#fff" stroke-width="0.8" opacity="0.6"/>
<line x1="552.25" y1="620.5999999999999" x2="557.75" y2="620.5999999999999" stroke="#fff" stroke-width="0.8" opacity="0.6"/>
<text x="566.3" y="624.3" font-size="10.3" fill="#222" stroke="#222" stroke-width="0.2">7</text>
<line x1="546" y1="638.4" x2="563.7" y2="638.4" stroke="#f2a0a0" stroke-width="1.2" opacity="0.45"/>
<line x1="552.5" y1="638.4" x2="557.5" y2="638.4" stroke="#f2a0a0" stroke-width="1.6"/>
<text x="566.3" y="642.1" font-size="10.3" fill="#222" stroke="#222" stroke-width="0.2">8</text>
<line x1="546" y1="656.2" x2="563.7" y2="656.2" stroke="#b0a0ba" stroke-width="1.2" opacity="0.45"/>
<path d="M555,652.8499999999999 L558.35,656.1999999999999 L555,659.55 L551.65,656.1999999999999 Z" fill="#a49aae"/>
<text x="566.3" y="659.9" font-size="10.3" fill="#222" stroke="#222" stroke-width="0.2">9</text>
<line x1="546" y1="674.0" x2="563.7" y2="674.0" stroke="#b77fb5" stroke-width="2.5" opacity="1"/>
<text x="566.3" y="677.7" font-size="10.3" fill="#222" stroke="#222" stroke-width="0.2">10</text>
<line x1="41.1" y1="1212.60" x2="613.2" y2="1212.60" stroke="#dadada" stroke-width="1.4"/>
<text x="31.8" y="1219.4" font-size="14" text-anchor="end" fill="#333" stroke="#333" stroke-width="0.3">0</text>
<line x1="41.1" y1="1176.86" x2="613.2" y2="1176.86" stroke="#dadada" stroke-width="1.4"/>
<text x="31.8" y="1183.7" font-size="14" text-anchor="end" fill="#333" stroke="#333" stroke-width="0.3">200</text>
<line x1="41.1" y1="1141.12" x2="613.2" y2="1141.12" stroke="#dadada" stroke-width="1.4"/>
<text x="31.8" y="1147.9" font-size="14" text-anchor="end" fill="#333" stroke="#333" stroke-width="0.3">400</text>
<line x1="41.1" y1="1105.38" x2="613.2" y2="1105.38" stroke="#dadada" stroke-width="1.4"/>
<text x="31.8" y="1112.2" font-size="14" text-anchor="end" fill="#333" stroke="#333" stroke-width="0.3">600</text>
<line x1="41.1" y1="1069.64" x2="613.2" y2="1069.64" stroke="#dadada" stroke-width="1.4"/>
<text x="31.8" y="1076.4" font-size="14" text-anchor="end" fill="#333" stroke="#333" stroke-width="0.3">800</text>
<line x1="41.1" y1="1033.90" x2="613.2" y2="1033.90" stroke="#dadada" stroke-width="1.4"/>
<text x="31.8" y="1040.7" font-size="14" text-anchor="end" fill="#333" stroke="#333" stroke-width="0.3">1000</text>
<line x1="41.1" y1="998.16" x2="613.2" y2="998.16" stroke="#dadada" stroke-width="1.4"/>
<text x="31.8" y="1005.0" font-size="14" text-anchor="end" fill="#333" stroke="#333" stroke-width="0.3">1200</text>
<line x1="41.1" y1="962.42" x2="613.2" y2="962.42" stroke="#dadada" stroke-width="1.4"/>
<text x="31.8" y="969.2" font-size="14" text-anchor="end" fill="#333" stroke="#333" stroke-width="0.3">1400</text>
<line x1="41.1" y1="926.68" x2="613.2" y2="926.68" stroke="#dadada" stroke-width="1.4"/>
<text x="31.8" y="933.5" font-size="14" text-anchor="end" fill="#333" stroke="#333" stroke-width="0.3">1600</text>
<line x1="41.1" y1="890.94" x2="613.2" y2="890.94" stroke="#dadada" stroke-width="1.4"/>
<text x="31.8" y="897.7" font-size="14" text-anchor="end" fill="#333" stroke="#333" stroke-width="0.3">1800</text>
<line x1="41.1" y1="855.20" x2="613.2" y2="855.20" stroke="#dadada" stroke-width="1.4"/>
<text x="31.8" y="862.0" font-size="14" text-anchor="end" fill="#333" stroke="#333" stroke-width="0.3">2000</text>
<line x1="46.6" y1="855.20" x2="46.6" y2="1217.10" stroke="#dadada" stroke-width="1.5"/>
<line x1="46.60" y1="1212.60" x2="46.60" y2="1217.10" stroke="#dadada" stroke-width="1.6"/>
<text x="46.60" y="1238.9" font-size="14" text-anchor="middle" fill="#333" stroke="#333" stroke-width="0.3">0</text>
<line x1="141.03" y1="1212.60" x2="141.03" y2="1217.10" stroke="#dadada" stroke-width="1.6"/>
<text x="141.03" y="1238.9" font-size="14" text-anchor="middle" fill="#333" stroke="#333" stroke-width="0.3">1</text>
<line x1="235.46" y1="1212.60" x2="235.46" y2="1217.10" stroke="#dadada" stroke-width="1.6"/>
<text x="235.46" y="1238.9" font-size="14" text-anchor="middle" fill="#333" stroke="#333" stroke-width="0.3">2</text>
<line x1="329.89" y1="1212.60" x2="329.89" y2="1217.10" stroke="#dadada" stroke-width="1.6"/>
<text x="329.89" y="1238.9" font-size="14" text-anchor="middle" fill="#333" stroke="#333" stroke-width="0.3">3</text>
<line x1="424.32" y1="1212.60" x2="424.32" y2="1217.10" stroke="#dadada" stroke-width="1.6"/>
<text x="424.32" y="1238.9" font-size="14" text-anchor="middle" fill="#333" stroke="#333" stroke-width="0.3">4</text>
<line x1="518.75" y1="1212.60" x2="518.75" y2="1217.10" stroke="#dadada" stroke-width="1.6"/>
<text x="518.75" y="1238.9" font-size="14" text-anchor="middle" fill="#333" stroke="#333" stroke-width="0.3">5</text>
<line x1="613.18" y1="1212.60" x2="613.18" y2="1217.10" stroke="#dadada" stroke-width="1.6"/>
<text x="613.18" y="1238.9" font-size="14" text-anchor="middle" fill="#333" stroke="#333" stroke-width="0.3">6</text>
<text x="352.2" y="880.7" font-size="16.6" font-weight="bold" text-anchor="middle" fill="#111">Group 3</text>
<polyline points="46.6,1192.3 47.2,1190.9 47.8,1189.5 48.4,1188.2 49.1,1186.9 49.9,1185.6 50.7,1184.3 51.6,1183.1 52.5,1181.9 53.4,1180.6 54.3,1179.4 55.2,1178.2 56.1,1177.0 56.9,1175.7 57.7,1174.5 58.5,1173.2 59.3,1171.9 60.0,1170.6 60.8,1169.2 61.5,1168.0 62.3,1166.7 63.2,1165.4 64.0,1164.2 64.9,1162.9 65.8,1161.7 66.7,1160.5 67.6,1159.3 68.4,1158.0 69.3,1156.8 70.2,1155.6 71.0,1154.3 71.9,1153.1 72.7,1151.8 73.6,1150.6 74.4,1149.3 75.3,1148.1 76.2,1146.9 77.1,1145.7 78.0,1144.5 78.9,1143.2 79.8,1142.0 80.7,1140.8 81.6,1139.6 82.5,1138.4 83.3,1137.1 84.2,1135.9 85.0,1134.6 85.8,1133.3 86.6,1132.1 87.5,1130.8 88.3,1129.5 89.1,1128.3 90.0,1127.0 90.8,1125.8 91.7,1124.5 92.6,1123.3 93.5,1122.1 94.5,1121.0 95.4,1119.8 96.3,1118.6 97.3,1117.4 98.2,1116.2 99.1,1115.0 100.1,1113.8 101.0,1112.6 101.8,1111.4 102.7,1110.1 103.6,1108.9 104.4,1107.6 105.2,1106.4 106.1,1105.1 106.9,1103.9 107.8,1102.6 108.6,1101.4 109.5,1100.1 110.3,1098.9 111.1,1097.6 112.0,1096.3 112.8,1095.1 113.7,1093.8 114.5,1092.6 115.4,1091.3 116.2,1090.1 117.1,1088.8 117.9,1087.6 118.8,1086.3 119.6,1085.1 120.4,1083.8 121.3,1082.6 122.1,1081.3 122.9,1080.0 123.7,1078.7 124.5,1077.4 125.3,1076.2 126.1,1074.9 126.9,1073.6 127.8,1072.4 128.6,1071.1 129.4,1069.8 130.3,1068.6 131.1,1067.3 132.0,1066.1 132.8,1064.8 133.6,1063.6 134.5,1062.3 135.3,1061.1 136.2,1059.8 137.1,1058.6 138.0,1057.4 139.0,1056.2 139.9,1055.1 140.8,1053.9 141.8,1052.7 142.7,1051.5 143.6,1050.3 144.5,1049.1 145.4,1047.8 146.3,1046.6 147.1,1045.4 148.0,1044.1 148.9,1042.9 149.7,1041.6 150.6,1040.4 151.4,1039.1 152.3,1037.9 153.1,1036.6 154.0,1035.4 154.8,1034.2 155.7,1032.9 156.6,1031.7 157.5,1030.5 158.4,1029.3 159.3,1028.1 160.3,1026.9 161.3,1025.8 162.3,1024.7 163.4,1023.6 164.4,1022.6 165.5,1021.5 166.7,1020.5 167.8,1019.5 168.9,1018.5 170.1,1017.6 171.3,1016.7 172.5,1015.7 173.7,1014.9 175.0,1014.0 176.2,1013.1 177.5,1012.3 178.7,1011.4 180.0,1010.6 181.2,1009.8 182.5,1009.0 183.8,1008.2 185.1,1007.4 186.4,1006.6 187.7,1005.8 188.9,1005.0 190.3,1004.3 191.6,1003.6 192.9,1002.9 194.3,1002.2 195.7,1001.6 197.1,1001.0 198.5,1000.4 199.9,999.9 201.2,999.3 202.6,998.7 204.0,998.1 205.5,997.6 206.9,997.0 208.3,996.5 209.7,995.9 211.1,995.4 212.5,994.8 213.9,994.2 215.2,993.6 216.6,992.9 217.9,992.2 219.3,991.6 220.6,990.9 222.0,990.2 223.3,989.5 224.6,988.7 226.0,988.0 227.3,987.3 228.6,986.5 229.9,985.7 231.2,985.0 232.5,984.2 233.8,983.4 235.0,982.6 236.2,981.7 237.4,980.8 238.6,979.8 239.8,978.9 240.9,977.9 242.0,976.9 243.2,975.9 244.3,974.9 245.5,973.9 246.7,973.0 247.8,972.0 249.0,971.0 250.1,970.0 251.2,969.0 252.4,968.0 253.5,967.0 254.6,966.0 255.7,965.0 256.9,964.0 258.0,963.0 259.1,962.0 260.3,961.0 261.5,960.1 262.6,959.1 263.9,958.2 265.1,957.4 266.3,956.5 267.6,955.6 268.8,954.8 270.1,953.9 271.3,953.1 272.6,952.3 273.9,951.6 275.3,950.9 276.6,950.3 278.0,949.7 279.4,949.0 280.8,948.4 282.2,947.8 283.5,947.2 284.9,946.6 286.3,946.0 287.7,945.5 289.1,944.9 290.5,944.4 291.9,943.8 293.4,943.3 294.8,942.8 296.2,942.3 297.6,941.8 299.1,941.4 300.6,941.1 302.0,940.8 303.5,940.5 305.0,940.3 306.5,940.1 308.0,939.9 309.5,939.7 311.0,939.5" fill="none" stroke="#4d72d0" stroke-width="5.4" stroke-linejoin="round" stroke-linecap="round"/>
<polyline points="46.6,1196.0 47.8,1195.0 48.9,1194.1 50.1,1193.1 51.3,1192.2 52.5,1191.2 53.6,1190.3 54.8,1189.3 56.0,1188.4 57.1,1187.4 58.3,1186.5 59.5,1185.5 60.7,1184.6 61.8,1183.7 63.0,1182.8 64.3,1181.9 65.5,1181.0 66.7,1180.1 67.9,1179.2 69.2,1178.4 70.4,1177.5 71.6,1176.6 72.9,1175.7 74.1,1174.9 75.3,1174.0 76.5,1173.1 77.8,1172.3 79.0,1171.4 80.2,1170.5 81.5,1169.6 82.7,1168.8 83.9,1167.9 85.2,1167.0 86.4,1166.2 87.6,1165.3 88.8,1164.4 90.1,1163.5 91.3,1162.7 92.5,1161.8 93.8,1160.9 95.0,1160.1 96.2,1159.2 97.5,1158.3 98.7,1157.4 99.9,1156.6 101.1,1155.7 102.4,1154.8 103.6,1153.9 104.8,1153.0 106.0,1152.2 107.2,1151.3 108.4,1150.3 109.6,1149.4 110.8,1148.5 112.0,1147.5 113.1,1146.6 114.3,1145.6 115.5,1144.7 116.7,1143.7 117.8,1142.8 119.0,1141.8 120.2,1140.9 121.4,1140.0 122.6,1139.1 123.8,1138.2 125.0,1137.3 126.2,1136.4 127.4,1135.5 128.6,1134.6 129.9,1133.7 131.1,1132.8 132.4,1132.0 133.7,1131.3 135.0,1130.6 136.3,1129.9 137.7,1129.2 139.0,1128.6 140.4,1127.9 141.8,1127.3 143.1,1126.7 144.5,1126.0 145.9,1125.4 147.2,1124.7 148.6,1124.1 150.0,1123.5 151.3,1122.8 152.7,1122.1 154.0,1121.4 155.3,1120.7 156.6,1119.9 157.9,1119.1 159.1,1118.3 160.4,1117.4 161.6,1116.6 162.9,1115.7 164.1,1114.9 165.3,1114.0 166.6,1113.2 167.9,1112.4 169.2,1111.6 170.4,1110.8 171.7,1110.0 173.0,1109.2 174.3,1108.4 175.6,1107.6 176.9,1106.9 178.2,1106.1 179.5,1105.4 180.8,1104.7 182.2,1104.1 183.6,1103.5 185.0,1103.0 186.4,1102.4 187.8,1101.9 189.2,1101.5 190.7,1101.0 192.1,1100.7 193.6,1100.3 195.1,1100.0 196.6,1099.7 198.0,1099.4 199.5,1099.0 201.0,1098.7 202.4,1098.3 203.9,1097.9 205.3,1097.6 206.8,1097.3 208.3,1097.1 209.8,1097.0 211.3,1096.9 212.8,1096.9 214.3,1097.0 215.8,1097.0 217.3,1097.1 218.8,1097.1 220.3,1097.2 221.8,1097.2 223.3,1097.3 224.8,1097.4 226.3,1097.4 227.8,1097.5 229.3,1097.4 230.8,1097.3 232.3,1097.1 233.7,1096.8 235.2,1096.4 236.6,1096.0 238.1,1095.5 239.5,1095.1 240.9,1094.6 242.3,1094.0 243.6,1093.3 245.0,1092.6 246.3,1091.9 247.6,1091.1 248.8,1090.3 250.1,1089.6 251.5,1088.8 252.8,1088.0 254.1,1087.3 255.4,1086.6 256.7,1085.8 258.0,1085.1 259.3,1084.3 260.7,1083.6 262.0,1082.9 263.3,1082.2 264.7,1081.5 266.0,1080.9 267.4,1080.2 268.7,1079.5 270.1,1078.9 271.4,1078.2 272.8,1077.5 274.1,1076.8 275.5,1076.2 276.8,1075.5 278.2,1074.8 279.5,1074.1 280.8,1073.4 282.2,1072.8 283.5,1072.1 284.9,1071.4 286.2,1070.7 287.6,1070.1 288.9,1069.4 290.3,1068.7 291.6,1068.1 293.0,1067.4 294.4,1066.8 295.7,1066.2 297.1,1065.6 298.5,1065.0 299.9,1064.4 301.3,1063.9 302.7,1063.3 304.1,1062.7 305.5,1062.2 306.9,1061.6 308.3,1061.0 309.7,1060.4 311.0,1059.8 312.4,1059.2 313.8,1058.6 315.2,1057.9 316.6,1057.3 317.9,1056.7 319.3,1056.1 320.7,1055.5 322.1,1054.9 323.5,1054.3 324.9,1053.7 326.3,1053.1 327.6,1052.6 329.0,1052.0 330.4,1051.5 331.9,1050.9 333.3,1050.4 334.7,1050.0 336.1,1049.5 337.6,1049.1 339.0,1048.6 340.5,1048.2 341.9,1047.7 343.4,1047.3 344.8,1046.9 346.3,1046.5 347.7,1046.1 349.2,1045.8 350.6,1045.4 352.1,1045.0 353.6,1044.6 355.0,1044.3 356.5,1043.9 358.0,1043.6 359.4,1043.3 360.9,1042.9 362.4,1042.6 363.9,1042.3 365.3,1042.0 366.8,1041.6 368.3,1041.3 369.7,1040.9 371.2,1040.6 372.7,1040.2 374.1,1039.9 375.6,1039.5 377.1,1039.1 378.5,1038.7 380.0,1038.3 381.4,1037.9 382.8,1037.4 384.3,1036.9 385.7,1036.4 387.1,1036.0 388.5,1035.5 390.0,1035.0 391.4,1034.5 392.8,1034.0 394.2,1033.5 395.7,1033.0 397.1,1032.5 398.5,1032.0 399.9,1031.5 401.4,1031.0 402.8,1030.6 404.2,1030.1 405.7,1029.6 407.1,1029.2 408.5,1028.8 410.0,1028.3 411.4,1027.9 412.9,1027.4 414.3,1027.0 415.8,1026.5 417.2,1026.1 418.6,1025.6 420.1,1025.2 421.5,1024.7 423.0,1024.3 424.4,1023.8 425.8,1023.4 427.3,1023.0 428.7,1022.5 430.2,1022.1 431.6,1021.6 433.0,1021.2 434.5,1020.8 436.0,1020.5 437.4,1020.2 438.9,1019.9 440.4,1019.6 441.9,1019.3 443.4,1019.1 444.9,1018.8 446.3,1018.6 447.8,1018.4 449.3,1018.2 450.8,1018.0 452.3,1017.8 453.8,1017.6 455.3,1017.4 456.7,1017.0 458.2,1016.6 459.6,1016.1 461.0,1015.6 462.4,1015.1 463.8,1014.6 465.2,1014.0 466.6,1013.5 468.0,1012.9 469.4,1012.3 470.8,1011.6 472.2,1011.0 473.5,1010.4 474.9,1009.8 476.3,1009.1 477.7,1008.5 479.0,1008.0 480.4,1007.4 481.8,1006.8 483.2,1006.3 484.6,1005.7 486.0,1005.2 487.5,1004.6 488.9,1004.1 490.3,1003.6 491.7,1003.1 493.2,1002.7 494.6,1002.2 496.0,1001.8 497.5,1001.4 498.9,1000.9 500.4,1000.5 501.8,1000.1 503.3,999.7 504.7,999.3 506.2,998.9 507.7,998.5 509.1,998.2 510.6,997.8 512.1,997.5 513.5,997.3 515.0,997.0 516.5,996.8 518.0,996.6 519.5,996.4 521.0,996.2" fill="none" stroke="#a0415c" stroke-width="7.2" stroke-opacity="0.35" stroke-linejoin="round" stroke-linecap="butt"/>
<polyline points="46.6,1196.0 47.8,1195.0 48.9,1194.1 50.1,1193.1 51.3,1192.2 52.5,1191.2 53.6,1190.3 54.8,1189.3 56.0,1188.4 57.1,1187.4 58.3,1186.5 59.5,1185.5 60.7,1184.6 61.8,1183.7 63.0,1182.8 64.3,1181.9 65.5,1181.0 66.7,1180.1 67.9,1179.2 69.2,1178.4 70.4,1177.5 71.6,1176.6 72.9,1175.7 74.1,1174.9 75.3,1174.0 76.5,1173.1 77.8,1172.3 79.0,1171.4 80.2,1170.5 81.5,1169.6 82.7,1168.8 83.9,1167.9 85.2,1167.0 86.4,1166.2 87.6,1165.3 88.8,1164.4 90.1,1163.5 91.3,1162.7 92.5,1161.8 93.8,1160.9 95.0,1160.1 96.2,1159.2 97.5,1158.3 98.7,1157.4 99.9,1156.6 101.1,1155.7 102.4,1154.8 103.6,1153.9 104.8,1153.0 106.0,1152.2 107.2,1151.3 108.4,1150.3 109.6,1149.4 110.8,1148.5 112.0,1147.5 113.1,1146.6 114.3,1145.6 115.5,1144.7 116.7,1143.7 117.8,1142.8 119.0,1141.8 120.2,1140.9 121.4,1140.0 122.6,1139.1 123.8,1138.2 125.0,1137.3 126.2,1136.4 127.4,1135.5 128.6,1134.6 129.9,1133.7 131.1,1132.8 132.4,1132.0 133.7,1131.3 135.0,1130.6 136.3,1129.9 137.7,1129.2 139.0,1128.6 140.4,1127.9 141.8,1127.3 143.1,1126.7 144.5,1126.0 145.9,1125.4 147.2,1124.7 148.6,1124.1 150.0,1123.5 151.3,1122.8 152.7,1122.1 154.0,1121.4 155.3,1120.7 156.6,1119.9 157.9,1119.1 159.1,1118.3 160.4,1117.4 161.6,1116.6 162.9,1115.7 164.1,1114.9 165.3,1114.0 166.6,1113.2 167.9,1112.4 169.2,1111.6 170.4,1110.8 171.7,1110.0 173.0,1109.2 174.3,1108.4 175.6,1107.6 176.9,1106.9 178.2,1106.1 179.5,1105.4 180.8,1104.7 182.2,1104.1 183.6,1103.5 185.0,1103.0 186.4,1102.4 187.8,1101.9 189.2,1101.5 190.7,1101.0 192.1,1100.7 193.6,1100.3 195.1,1100.0 196.6,1099.7 198.0,1099.4 199.5,1099.0 201.0,1098.7 202.4,1098.3 203.9,1097.9 205.3,1097.6 206.8,1097.3 208.3,1097.1 209.8,1097.0 211.3,1096.9 212.8,1096.9 214.3,1097.0 215.8,1097.0 217.3,1097.1 218.8,1097.1 220.3,1097.2 221.8,1097.2 223.3,1097.3 224.8,1097.4 226.3,1097.4 227.8,1097.5 229.3,1097.4 230.8,1097.3 232.3,1097.1 233.7,1096.8 235.2,1096.4 236.6,1096.0 238.1,1095.5 239.5,1095.1 240.9,1094.6 242.3,1094.0 243.6,1093.3 245.0,1092.6 246.3,1091.9 247.6,1091.1 248.8,1090.3 250.1,1089.6 251.5,1088.8 252.8,1088.0 254.1,1087.3 255.4,1086.6 256.7,1085.8 258.0,1085.1 259.3,1084.3 260.7,1083.6 262.0,1082.9 263.3,1082.2 264.7,1081.5 266.0,1080.9 267.4,1080.2 268.7,1079.5 270.1,1078.9 271.4,1078.2 272.8,1077.5 274.1,1076.8 275.5,1076.2 276.8,1075.5 278.2,1074.8 279.5,1074.1 280.8,1073.4 282.2,1072.8 283.5,1072.1 284.9,1071.4 286.2,1070.7 287.6,1070.1 288.9,1069.4 290.3,1068.7 291.6,1068.1 293.0,1067.4 294.4,1066.8 295.7,1066.2 297.1,1065.6 298.5,1065.0 299.9,1064.4 301.3,1063.9 302.7,1063.3 304.1,1062.7 305.5,1062.2 306.9,1061.6 308.3,1061.0 309.7,1060.4 311.0,1059.8 312.4,1059.2 313.8,1058.6 315.2,1057.9 316.6,1057.3 317.9,1056.7 319.3,1056.1 320.7,1055.5 322.1,1054.9 323.5,1054.3 324.9,1053.7 326.3,1053.1 327.6,1052.6 329.0,1052.0 330.4,1051.5 331.9,1050.9 333.3,1050.4 334.7,1050.0 336.1,1049.5 337.6,1049.1 339.0,1048.6 340.5,1048.2 341.9,1047.7 343.4,1047.3 344.8,1046.9 346.3,1046.5 347.7,1046.1 349.2,1045.8 350.6,1045.4 352.1,1045.0 353.6,1044.6 355.0,1044.3 356.5,1043.9 358.0,1043.6 359.4,1043.3 360.9,1042.9 362.4,1042.6 363.9,1042.3 365.3,1042.0 366.8,1041.6 368.3,1041.3 369.7,1040.9 371.2,1040.6 372.7,1040.2 374.1,1039.9 375.6,1039.5 377.1,1039.1 378.5,1038.7 380.0,1038.3 381.4,1037.9 382.8,1037.4 384.3,1036.9 385.7,1036.4 387.1,1036.0 388.5,1035.5 390.0,1035.0 391.4,1034.5 392.8,1034.0 394.2,1033.5 395.7,1033.0 397.1,1032.5 398.5,1032.0 399.9,1031.5 401.4,1031.0 402.8,1030.6 404.2,1030.1 405.7,1029.6 407.1,1029.2 408.5,1028.8 410.0,1028.3 411.4,1027.9 412.9,1027.4 414.3,1027.0 415.8,1026.5 417.2,1026.1 418.6,1025.6 420.1,1025.2 421.5,1024.7 423.0,1024.3 424.4,1023.8 425.8,1023.4 427.3,1023.0 428.7,1022.5 430.2,1022.1 431.6,1021.6 433.0,1021.2 434.5,1020.8 436.0,1020.5 437.4,1020.2 438.9,1019.9 440.4,1019.6 441.9,1019.3 443.4,1019.1 444.9,1018.8 446.3,1018.6 447.8,1018.4 449.3,1018.2 450.8,1018.0 452.3,1017.8 453.8,1017.6 455.3,1017.4 456.7,1017.0 458.2,1016.6 459.6,1016.1 461.0,1015.6 462.4,1015.1 463.8,1014.6 465.2,1014.0 466.6,1013.5 468.0,1012.9 469.4,1012.3 470.8,1011.6 472.2,1011.0 473.5,1010.4 474.9,1009.8 476.3,1009.1 477.7,1008.5 479.0,1008.0 480.4,1007.4 481.8,1006.8 483.2,1006.3 484.6,1005.7 486.0,1005.2 487.5,1004.6 488.9,1004.1 490.3,1003.6 491.7,1003.1 493.2,1002.7 494.6,1002.2 496.0,1001.8 497.5,1001.4 498.9,1000.9 500.4,1000.5 501.8,1000.1 503.3,999.7 504.7,999.3 506.2,998.9 507.7,998.5 509.1,998.2 510.6,997.8 512.1,997.5 513.5,997.3 515.0,997.0 516.5,996.8 518.0,996.6 519.5,996.4 521.0,996.2" fill="none" stroke="#a0415c" stroke-width="6.4" stroke-linejoin="round" stroke-linecap="round"/>
<polyline points="46.6,1197.4 47.5,1196.2 48.4,1195.0 49.3,1193.8 50.2,1192.6 51.2,1191.4 52.1,1190.2 53.0,1189.0 53.9,1187.8 54.8,1186.6 55.7,1185.3 56.6,1184.1 57.5,1182.9 58.4,1181.7 59.3,1180.5 60.2,1179.3 61.2,1178.1 62.2,1177.0 63.2,1175.9 64.3,1174.9 65.4,1173.9 66.5,1172.8 67.6,1171.8 68.8,1170.9 69.9,1169.9 71.0,1168.9 72.2,1167.9 73.3,1166.9 74.5,1165.9 75.6,1164.9 76.7,1163.8 77.8,1162.8 78.9,1161.8 79.9,1160.7 81.0,1159.6 82.1,1158.5 83.1,1157.5 84.2,1156.4 85.2,1155.3 86.2,1154.2 87.2,1153.0 88.1,1151.8 89.0,1150.6 89.8,1149.4 90.7,1148.1 91.5,1146.8 92.3,1145.5 93.1,1144.3 93.8,1143.0 94.6,1141.7 95.4,1140.4 96.1,1139.1 96.9,1137.8 97.7,1136.5 98.4,1135.2 99.2,1133.9 100.0,1132.6 100.8,1131.3 101.6,1130.0 102.4,1128.7 103.2,1127.5 104.0,1126.2 104.9,1124.9 105.7,1123.7 106.5,1122.4 107.3,1121.1 108.2,1119.9 109.0,1118.6 109.8,1117.3 110.6,1116.1 111.4,1114.8 112.2,1113.5 113.0,1112.2 113.8,1110.9 114.6,1109.6 115.4,1108.4 116.2,1107.1 117.1,1105.9 118.0,1104.6 118.9,1103.4 119.7,1102.2 120.6,1101.0 121.5,1099.7 122.3,1098.5 123.2,1097.2 124.0,1096.0 124.9,1094.7 125.7,1093.5 126.5,1092.2 127.4,1090.9 128.2,1089.7 129.0,1088.4 129.9,1087.2 130.7,1085.9 131.6,1084.7 132.5,1083.5 133.4,1082.3 134.4,1081.2 135.4,1080.0 136.4,1078.9 137.4,1077.8 138.4,1076.6 139.3,1075.4 140.3,1074.3 141.2,1073.1 142.1,1071.9 143.0,1070.7 144.0,1069.5 144.9,1068.3 145.8,1067.1 146.8,1066.0 147.8,1064.8 148.7,1063.6 149.7,1062.5 150.8,1061.4 151.8,1060.3 152.9,1059.2 153.9,1058.2 155.0,1057.1 156.1,1056.0 157.1,1054.9 158.1,1053.8 159.2,1052.7 160.2,1051.6 161.2,1050.5 162.2,1049.4 163.2,1048.3 164.3,1047.2 165.3,1046.0 166.3,1044.9 167.3,1043.8 168.3,1042.7 169.3,1041.5 170.3,1040.4 171.3,1039.2 172.2,1038.1 173.2,1036.9 174.2,1035.8 175.2,1034.6 176.1,1033.5 177.1,1032.3 178.1,1031.2 179.0,1030.0 180.0,1028.9 181.0,1027.7 182.0,1026.6 183.0,1025.4 184.0,1024.3 185.0,1023.2 186.0,1022.1 187.0,1020.9 188.1,1019.8 189.1,1018.7 190.1,1017.6 191.1,1016.5 192.1,1015.3 193.1,1014.2 194.1,1013.1 195.1,1012.0 196.1,1010.8 197.1,1009.7 198.1,1008.6 199.1,1007.4 200.1,1006.3 201.1,1005.2 202.1,1004.0 203.1,1002.9 204.1,1001.8 205.2,1000.8 206.3,999.8 207.5,998.8 208.7,997.9 209.9,997.1 211.2,996.2 212.4,995.3 213.6,994.5 214.9,993.6 216.1,992.7 217.4,991.9 218.6,991.0 219.9,990.2 221.1,989.3 222.3,988.5 223.6,987.6 224.8,986.8 226.1,985.9 227.3,985.1 228.6,984.2 229.8,983.3 231.0,982.4 232.2,981.4 233.3,980.5 234.5,979.5 235.6,978.5 236.7,977.5 237.9,976.5 239.0,975.5" fill="none" stroke="#a0a42c" stroke-width="7.0" stroke-opacity="0.35" stroke-linejoin="round" stroke-linecap="butt"/>
<polyline points="46.6,1197.4 47.5,1196.2 48.4,1195.0 49.3,1193.8 50.2,1192.6 51.2,1191.4 52.1,1190.2 53.0,1189.0 53.9,1187.8 54.8,1186.6 55.7,1185.3 56.6,1184.1 57.5,1182.9 58.4,1181.7 59.3,1180.5 60.2,1179.3 61.2,1178.1 62.2,1177.0 63.2,1175.9 64.3,1174.9 65.4,1173.9 66.5,1172.8 67.6,1171.8 68.8,1170.9 69.9,1169.9 71.0,1168.9 72.2,1167.9 73.3,1166.9 74.5,1165.9 75.6,1164.9 76.7,1163.8 77.8,1162.8 78.9,1161.8 79.9,1160.7 81.0,1159.6 82.1,1158.5 83.1,1157.5 84.2,1156.4 85.2,1155.3 86.2,1154.2 87.2,1153.0 88.1,1151.8 89.0,1150.6 89.8,1149.4 90.7,1148.1 91.5,1146.8 92.3,1145.5 93.1,1144.3 93.8,1143.0 94.6,1141.7 95.4,1140.4 96.1,1139.1 96.9,1137.8 97.7,1136.5 98.4,1135.2 99.2,1133.9 100.0,1132.6 100.8,1131.3 101.6,1130.0 102.4,1128.7 103.2,1127.5 104.0,1126.2 104.9,1124.9 105.7,1123.7 106.5,1122.4 107.3,1121.1 108.2,1119.9 109.0,1118.6 109.8,1117.3 110.6,1116.1 111.4,1114.8 112.2,1113.5 113.0,1112.2 113.8,1110.9 114.6,1109.6 115.4,1108.4 116.2,1107.1 117.1,1105.9 118.0,1104.6 118.9,1103.4 119.7,1102.2 120.6,1101.0 121.5,1099.7 122.3,1098.5 123.2,1097.2 124.0,1096.0 124.9,1094.7 125.7,1093.5 126.5,1092.2 127.4,1090.9 128.2,1089.7 129.0,1088.4 129.9,1087.2 130.7,1085.9 131.6,1084.7 132.5,1083.5 133.4,1082.3 134.4,1081.2 135.4,1080.0 136.4,1078.9 137.4,1077.8 138.4,1076.6 139.3,1075.4 140.3,1074.3 141.2,1073.1 142.1,1071.9 143.0,1070.7 144.0,1069.5 144.9,1068.3 145.8,1067.1 146.8,1066.0 147.8,1064.8 148.7,1063.6 149.7,1062.5 150.8,1061.4 151.8,1060.3 152.9,1059.2 153.9,1058.2 155.0,1057.1 156.1,1056.0 157.1,1054.9 158.1,1053.8 159.2,1052.7 160.2,1051.6 161.2,1050.5 162.2,1049.4 163.2,1048.3 164.3,1047.2 165.3,1046.0 166.3,1044.9 167.3,1043.8 168.3,1042.7 169.3,1041.5 170.3,1040.4 171.3,1039.2 172.2,1038.1 173.2,1036.9 174.2,1035.8 175.2,1034.6 176.1,1033.5 177.1,1032.3 178.1,1031.2 179.0,1030.0 180.0,1028.9 181.0,1027.7 182.0,1026.6 183.0,1025.4 184.0,1024.3 185.0,1023.2 186.0,1022.1 187.0,1020.9 188.1,1019.8 189.1,1018.7 190.1,1017.6 191.1,1016.5 192.1,1015.3 193.1,1014.2 194.1,1013.1 195.1,1012.0 196.1,1010.8 197.1,1009.7 198.1,1008.6 199.1,1007.4 200.1,1006.3 201.1,1005.2 202.1,1004.0 203.1,1002.9 204.1,1001.8 205.2,1000.8 206.3,999.8 207.5,998.8 208.7,997.9 209.9,997.1 211.2,996.2 212.4,995.3 213.6,994.5 214.9,993.6 216.1,992.7 217.4,991.9 218.6,991.0 219.9,990.2 221.1,989.3 222.3,988.5 223.6,987.6 224.8,986.8 226.1,985.9 227.3,985.1 228.6,984.2 229.8,983.3 231.0,982.4 232.2,981.4 233.3,980.5 234.5,979.5 235.6,978.5 236.7,977.5 237.9,976.5 239.0,975.5" fill="none" stroke="#a0a42c" stroke-width="5.8" stroke-linejoin="round" stroke-linecap="round"/>
<polyline points="46.6,1196.0 47.8,1195.1 48.9,1194.1 50.1,1193.2 51.3,1192.2 52.4,1191.3 53.6,1190.3 54.8,1189.4 55.9,1188.4 57.1,1187.5 58.3,1186.5 59.5,1185.6 60.6,1184.6 61.8,1183.7 63.0,1182.8 64.2,1181.9 65.4,1181.0 66.7,1180.1 67.9,1179.3 69.1,1178.4 70.4,1177.5 71.6,1176.6 72.8,1175.8 74.0,1174.9 75.3,1174.0 76.5,1173.2 77.7,1172.3 79.0,1171.4 80.2,1170.5 81.4,1169.7 82.6,1168.8 83.9,1167.9 85.1,1167.1 86.3,1166.2 87.6,1165.3 88.8,1164.5 90.0,1163.6 91.2,1162.7 92.5,1161.8 93.7,1161.0 94.9,1160.1 96.1,1159.2 97.4,1158.3 98.6,1157.5 99.8,1156.6 101.1,1155.7 102.3,1154.8 103.5,1154.0 104.7,1153.1 105.8,1152.1 106.9,1151.1 108.0,1150.0 108.9,1148.9 109.8,1147.7 110.6,1146.5 111.5,1145.2 112.3,1144.0 113.1,1142.7 113.9,1141.4 114.8,1140.2 115.6,1138.9 116.4,1137.6 117.2,1136.4 118.0,1135.1 118.9,1133.9 119.8,1132.7 120.7,1131.5 121.7,1130.5 122.8,1129.5 124.0,1128.7 125.3,1127.9 126.6,1127.1 127.9,1126.4 129.2,1125.6 130.5,1124.9 131.8,1124.1 133.1,1123.4 134.4,1122.6 135.7,1121.9 137.0,1121.1 138.3,1120.4 139.6,1119.6 141.0,1118.9 142.3,1118.2 143.6,1117.5 145.0,1116.8 146.3,1116.1 147.7,1115.5 149.0,1114.9 150.4,1114.3 151.8,1113.6 153.2,1113.0 154.5,1112.4 155.9,1111.8 157.3,1111.2 158.6,1110.5 160.0,1109.9 161.4,1109.3 162.8,1108.7 164.1,1108.1 165.5,1107.4 166.9,1106.8 168.2,1106.2 169.6,1105.5 171.0,1104.9 172.3,1104.3 173.7,1103.6 175.1,1103.0 176.4,1102.4 177.8,1101.7 179.2,1101.1 180.5,1100.5 181.9,1099.8 183.3,1099.2 184.6,1098.6 186.0,1098.0 187.4,1097.4 188.8,1096.8 190.1,1096.1 191.5,1095.5 192.9,1094.9 194.3,1094.3 195.7,1093.7 197.1,1093.2 198.4,1092.6 199.8,1092.0 201.2,1091.4 202.6,1090.8 204.0,1090.2 205.3,1089.6 206.7,1088.9 208.1,1088.3 209.5,1087.7 210.8,1087.1 212.2,1086.4 213.5,1085.8 214.9,1085.1 216.2,1084.4 217.6,1083.7 218.9,1083.0 220.2,1082.3 221.5,1081.6 222.9,1080.9 224.2,1080.1 225.5,1079.4 226.8,1078.7 228.1,1078.0 229.5,1077.2 230.8,1076.5 232.1,1075.8 233.4,1075.1 234.7,1074.4 236.1,1073.7 237.5,1073.1 238.8,1072.5 240.2,1071.9 241.6,1071.3 243.0,1070.8 244.4,1070.2 245.8,1069.7 247.2,1069.2 248.6,1068.6 250.0,1068.1 251.4,1067.5 252.8,1067.0 254.2,1066.4 255.6,1065.9 257.0,1065.3 258.4,1064.7 259.9,1064.2 261.3,1063.7 262.7,1063.1 264.1,1062.6 265.5,1062.1 266.9,1061.6 268.3,1061.1 269.7,1060.5 271.1,1060.0 272.6,1059.5 274.0,1058.9 275.4,1058.4 276.8,1057.8 278.2,1057.3 279.6,1056.7 281.0,1056.2 282.4,1055.6 283.8,1055.1 285.2,1054.6 286.6,1054.1 288.0,1053.5 289.4,1053.0 290.9,1052.5 292.3,1052.0 293.7,1051.5 295.1,1051.0 296.5,1050.5 297.9,1049.9 299.3,1049.4 300.7,1048.8 302.1,1048.3 303.5,1047.7 304.9,1047.2 306.4,1046.8 307.8,1046.4 309.3,1046.0 310.7,1045.7 312.2,1045.4 313.7,1045.2 315.2,1044.9 316.7,1044.6 318.1,1044.3 319.6,1044.1 321.1,1043.8 322.6,1043.5 324.0,1043.2 325.5,1042.9 327.0,1042.6 328.5,1042.3 330.0,1042.0 331.4,1041.7 332.9,1041.4 334.4,1041.1 335.9,1040.8 337.3,1040.5 338.8,1040.3 340.3,1040.0 341.8,1039.8 343.3,1039.5 344.8,1039.3 346.3,1039.1 347.7,1038.9 349.2,1038.7 350.7,1038.5 352.2,1038.3 353.7,1038.2 355.2,1038.1 356.7,1038.0 358.2,1038.0 359.7,1038.0 361.2,1038.0 362.7,1038.0 364.2,1038.0 365.8,1038.0 367.3,1038.0 368.8,1038.0 370.3,1038.0 371.8,1038.0 373.3,1038.0 374.8,1038.0 376.3,1037.9 377.8,1037.8 379.3,1037.6 380.7,1037.3 382.2,1037.0 383.6,1036.7 385.1,1036.3 386.6,1035.9 388.0,1035.5 389.4,1035.1 390.9,1034.6 392.3,1034.1 393.7,1033.6 395.1,1033.1 396.5,1032.6 398.0,1032.1 399.4,1031.5 400.8,1031.1 402.2,1030.6 403.7,1030.1 405.1,1029.7 406.5,1029.2 408.0,1028.8 409.4,1028.4 410.9,1027.9 412.3,1027.5 413.7,1027.1 415.2,1026.6 416.6,1026.2 418.1,1025.8 419.5,1025.3 421.0,1024.9 422.4,1024.4 423.8,1023.9 425.2,1023.4 426.6,1022.9 428.0,1022.3 429.4,1021.8 430.8,1021.2 432.2,1020.7 433.6,1020.1 435.0,1019.6 436.4,1019.0 437.8,1018.5 439.2,1017.9 440.6,1017.3 442.0,1016.8 443.4,1016.2 444.8,1015.7 446.2,1015.1 447.6,1014.5 449.0,1014.0 450.4,1013.4 451.8,1012.8 453.2,1012.2 454.5,1011.6 455.9,1011.0 457.3,1010.3 458.6,1009.7 460.0,1009.0 461.3,1008.3 462.7,1007.6 464.0,1007.0 465.4,1006.3 466.7,1005.6 468.0,1004.9 469.4,1004.3 470.7,1003.6 472.1,1002.9 473.4,1002.3 474.8,1001.6 476.1,1000.9 477.5,1000.2 478.8,999.6 480.2,998.9 481.5,998.2 482.9,997.5 484.2,996.9 485.6,996.2 486.9,995.5 488.3,994.9 489.7,994.3 491.0,993.7 492.4,993.1 493.8,992.5 495.2,992.0 496.6,991.4 498.0,990.9 499.4,990.3 500.8,989.8 502.2,989.3 503.7,988.8 505.1,988.3 506.5,987.8 507.9,987.3 509.3,986.8 510.8,986.4 512.2,985.9 513.7,985.5 515.1,985.2 516.6,984.8 518.1,984.5 519.5,984.1 521.0,983.8" fill="none" stroke="#7777ad" stroke-width="7.2" stroke-opacity="0.35" stroke-linejoin="round" stroke-linecap="butt"/>
<polyline points="46.6,1196.0 47.8,1195.1 48.9,1194.1 50.1,1193.2 51.3,1192.2 52.4,1191.3 53.6,1190.3 54.8,1189.4 55.9,1188.4 57.1,1187.5 58.3,1186.5 59.5,1185.6 60.6,1184.6 61.8,1183.7 63.0,1182.8 64.2,1181.9 65.4,1181.0 66.7,1180.1 67.9,1179.3 69.1,1178.4 70.4,1177.5 71.6,1176.6 72.8,1175.8 74.0,1174.9 75.3,1174.0 76.5,1173.2 77.7,1172.3 79.0,1171.4 80.2,1170.5 81.4,1169.7 82.6,1168.8 83.9,1167.9 85.1,1167.1 86.3,1166.2 87.6,1165.3 88.8,1164.5 90.0,1163.6 91.2,1162.7 92.5,1161.8 93.7,1161.0 94.9,1160.1 96.1,1159.2 97.4,1158.3 98.6,1157.5 99.8,1156.6 101.1,1155.7 102.3,1154.8 103.5,1154.0 104.7,1153.1 105.8,1152.1 106.9,1151.1 108.0,1150.0 108.9,1148.9 109.8,1147.7 110.6,1146.5 111.5,1145.2 112.3,1144.0 113.1,1142.7 113.9,1141.4 114.8,1140.2 115.6,1138.9 116.4,1137.6 117.2,1136.4 118.0,1135.1 118.9,1133.9 119.8,1132.7 120.7,1131.5 121.7,1130.5 122.8,1129.5 124.0,1128.7 125.3,1127.9 126.6,1127.1 127.9,1126.4 129.2,1125.6 130.5,1124.9 131.8,1124.1 133.1,1123.4 134.4,1122.6 135.7,1121.9 137.0,1121.1 138.3,1120.4 139.6,1119.6 141.0,1118.9 142.3,1118.2 143.6,1117.5 145.0,1116.8 146.3,1116.1 147.7,1115.5 149.0,1114.9 150.4,1114.3 151.8,1113.6 153.2,1113.0 154.5,1112.4 155.9,1111.8 157.3,1111.2 158.6,1110.5 160.0,1109.9 161.4,1109.3 162.8,1108.7 164.1,1108.1 165.5,1107.4 166.9,1106.8 168.2,1106.2 169.6,1105.5 171.0,1104.9 172.3,1104.3 173.7,1103.6 175.1,1103.0 176.4,1102.4 177.8,1101.7 179.2,1101.1 180.5,1100.5 181.9,1099.8 183.3,1099.2 184.6,1098.6 186.0,1098.0 187.4,1097.4 188.8,1096.8 190.1,1096.1 191.5,1095.5 192.9,1094.9 194.3,1094.3 195.7,1093.7 197.1,1093.2 198.4,1092.6 199.8,1092.0 201.2,1091.4 202.6,1090.8 204.0,1090.2 205.3,1089.6 206.7,1088.9 208.1,1088.3 209.5,1087.7 210.8,1087.1 212.2,1086.4 213.5,1085.8 214.9,1085.1 216.2,1084.4 217.6,1083.7 218.9,1083.0 220.2,1082.3 221.5,1081.6 222.9,1080.9 224.2,1080.1 225.5,1079.4 226.8,1078.7 228.1,1078.0 229.5,1077.2 230.8,1076.5 232.1,1075.8 233.4,1075.1 234.7,1074.4 236.1,1073.7 237.5,1073.1 238.8,1072.5 240.2,1071.9 241.6,1071.3 243.0,1070.8 244.4,1070.2 245.8,1069.7 247.2,1069.2 248.6,1068.6 250.0,1068.1 251.4,1067.5 252.8,1067.0 254.2,1066.4 255.6,1065.9 257.0,1065.3 258.4,1064.7 259.9,1064.2 261.3,1063.7 262.7,1063.1 264.1,1062.6 265.5,1062.1 266.9,1061.6 268.3,1061.1 269.7,1060.5 271.1,1060.0 272.6,1059.5 274.0,1058.9 275.4,1058.4 276.8,1057.8 278.2,1057.3 279.6,1056.7 281.0,1056.2 282.4,1055.6 283.8,1055.1 285.2,1054.6 286.6,1054.1 288.0,1053.5 289.4,1053.0 290.9,1052.5 292.3,1052.0 293.7,1051.5 295.1,1051.0 296.5,1050.5 297.9,1049.9 299.3,1049.4 300.7,1048.8 302.1,1048.3 303.5,1047.7 304.9,1047.2 306.4,1046.8 307.8,1046.4 309.3,1046.0 310.7,1045.7 312.2,1045.4 313.7,1045.2 315.2,1044.9 316.7,1044.6 318.1,1044.3 319.6,1044.1 321.1,1043.8 322.6,1043.5 324.0,1043.2 325.5,1042.9 327.0,1042.6 328.5,1042.3 330.0,1042.0 331.4,1041.7 332.9,1041.4 334.4,1041.1 335.9,1040.8 337.3,1040.5 338.8,1040.3 340.3,1040.0 341.8,1039.8 343.3,1039.5 344.8,1039.3 346.3,1039.1 347.7,1038.9 349.2,1038.7 350.7,1038.5 352.2,1038.3 353.7,1038.2 355.2,1038.1 356.7,1038.0 358.2,1038.0 359.7,1038.0 361.2,1038.0 362.7,1038.0 364.2,1038.0 365.8,1038.0 367.3,1038.0 368.8,1038.0 370.3,1038.0 371.8,1038.0 373.3,1038.0 374.8,1038.0 376.3,1037.9 377.8,1037.8 379.3,1037.6 380.7,1037.3 382.2,1037.0 383.6,1036.7 385.1,1036.3 386.6,1035.9 388.0,1035.5 389.4,1035.1 390.9,1034.6 392.3,1034.1 393.7,1033.6 395.1,1033.1 396.5,1032.6 398.0,1032.1 399.4,1031.5 400.8,1031.1 402.2,1030.6 403.7,1030.1 405.1,1029.7 406.5,1029.2 408.0,1028.8 409.4,1028.4 410.9,1027.9 412.3,1027.5 413.7,1027.1 415.2,1026.6 416.6,1026.2 418.1,1025.8 419.5,1025.3 421.0,1024.9 422.4,1024.4 423.8,1023.9 425.2,1023.4 426.6,1022.9 428.0,1022.3 429.4,1021.8 430.8,1021.2 432.2,1020.7 433.6,1020.1 435.0,1019.6 436.4,1019.0 437.8,1018.5 439.2,1017.9 440.6,1017.3 442.0,1016.8 443.4,1016.2 444.8,1015.7 446.2,1015.1 447.6,1014.5 449.0,1014.0 450.4,1013.4 451.8,1012.8 453.2,1012.2 454.5,1011.6 455.9,1011.0 457.3,1010.3 458.6,1009.7 460.0,1009.0 461.3,1008.3 462.7,1007.6 464.0,1007.0 465.4,1006.3 466.7,1005.6 468.0,1004.9 469.4,1004.3 470.7,1003.6 472.1,1002.9 473.4,1002.3 474.8,1001.6 476.1,1000.9 477.5,1000.2 478.8,999.6 480.2,998.9 481.5,998.2 482.9,997.5 484.2,996.9 485.6,996.2 486.9,995.5 488.3,994.9 489.7,994.3 491.0,993.7 492.4,993.1 493.8,992.5 495.2,992.0 496.6,991.4 498.0,990.9 499.4,990.3 500.8,989.8 502.2,989.3 503.7,988.8 505.1,988.3 506.5,987.8 507.9,987.3 509.3,986.8 510.8,986.4 512.2,985.9 513.7,985.5 515.1,985.2 516.6,984.8 518.1,984.5 519.5,984.1 521.0,983.8" fill="none" stroke="#7777ad" stroke-width="6.4" stroke-linejoin="round" stroke-linecap="round"/>
<polyline points="44.5,1183.3 45.1,1181.9 45.6,1180.5 46.2,1179.1 46.7,1177.7 47.3,1176.3 47.8,1174.9 48.4,1173.5 48.9,1172.1 49.5,1170.7 50.0,1169.3 50.6,1167.9 51.2,1166.5 51.8,1165.1 52.4,1163.7 53.0,1162.4 53.7,1161.0 54.3,1159.7 55.0,1158.3 55.7,1157.0 56.3,1155.6 57.0,1154.3 57.7,1152.9 58.4,1151.6 59.1,1150.2 59.8,1148.9 60.5,1147.6 61.3,1146.3 62.2,1145.1 63.0,1143.8 63.8,1142.6 64.7,1141.4 65.6,1140.2 66.6,1139.0 67.6,1137.9 68.6,1136.8 69.6,1135.7 70.7,1134.6 71.7,1133.5 72.8,1132.4 73.8,1131.4 74.9,1130.3 75.9,1129.2 77.0,1128.2 78.1,1127.1 79.2,1126.0 80.2,1125.0 81.4,1124.0 82.5,1123.0 83.6,1122.0 84.8,1121.1 86.0,1120.1 87.1,1119.1 88.3,1118.2 89.5,1117.3 90.7,1116.3 91.8,1115.4 93.0,1114.5 94.2,1113.6 95.4,1112.6 96.6,1111.7 97.7,1110.7 98.9,1109.7 100.0,1108.7 101.1,1107.7 102.3,1106.7 103.4,1105.8 104.5,1104.8 105.6,1103.7 106.7,1102.7 107.8,1101.6 108.8,1100.5 109.8,1099.4 110.9,1098.3 111.9,1097.3 113.0,1096.2 114.1,1095.2 115.2,1094.2 116.3,1093.1 117.4,1092.1 118.5,1091.1 119.6,1090.0 120.7,1089.0 121.8,1088.0 122.9,1087.0 124.1,1086.0 125.2,1085.1 126.4,1084.1 127.5,1083.1 128.7,1082.1 129.8,1081.2 131.0,1080.2 132.1,1079.2 133.3,1078.3 134.5,1077.3 135.6,1076.4 136.8,1075.4 138.0,1074.5 139.2,1073.6 140.4,1072.6 141.5,1071.7 142.7,1070.8 143.9,1069.8 145.1,1068.9 146.3,1068.0 147.5,1067.1 148.7,1066.2 149.9,1065.3 151.1,1064.4 152.3,1063.5 153.5,1062.5 154.7,1061.6 155.8,1060.6 157.0,1059.6 158.1,1058.6 159.2,1057.6 160.3,1056.6 161.4,1055.6 162.5,1054.6 163.7,1053.6 164.8,1052.6 165.9,1051.6 167.0,1050.6 168.2,1049.6 169.3,1048.6 170.4,1047.6 171.6,1046.6 172.7,1045.6 173.8,1044.6 175.0,1043.6 176.1,1042.6 177.2,1041.6 178.3,1040.6 179.5,1039.6 180.6,1038.6 181.7,1037.6 182.8,1036.6 183.9,1035.5 185.0,1034.5 186.1,1033.5 187.2,1032.4 188.3,1031.4 189.4,1030.4 190.5,1029.3 191.6,1028.3 192.7,1027.3 193.8,1026.2 194.9,1025.2 196.0,1024.2 197.1,1023.2 198.3,1022.2 199.4,1021.2 200.5,1020.2 201.6,1019.2 202.7,1018.1 203.8,1017.1 204.8,1016.0 205.9,1014.9 207.0,1013.9 208.0,1012.9 209.2,1011.9 210.3,1010.9 211.5,1010.0 212.7,1009.1 213.9,1008.2 215.2,1007.3 216.4,1006.4 217.6,1005.5 218.8,1004.6 220.0,1003.7 221.1,1002.7 222.3,1001.8 223.5,1000.9 224.7,999.9 225.9,999.0 227.0,998.0 228.2,997.1 229.4,996.2 230.6,995.2 231.7,994.3 232.9,993.3 234.1,992.4 235.3,991.4 236.4,990.5 237.6,989.6 238.8,988.7 240.0,987.8 241.2,986.8 242.4,985.9 243.6,985.0 244.9,984.2 246.1,983.3 247.3,982.4 248.6,981.6 249.8,980.7 251.1,979.9 252.3,979.1 253.6,978.3 254.9,977.5 256.2,976.7 257.5,975.9 258.7,975.1 260.0,974.3 261.3,973.6 262.7,972.9 264.0,972.2 265.3,971.5 266.7,970.8 268.0,970.2 269.4,969.5 270.8,968.9 272.1,968.3 273.5,967.7 274.9,967.1 276.3,966.6 277.8,966.1 279.2,965.6 280.6,965.2 282.0,964.7 283.5,964.2 284.9,963.8 286.4,963.4 287.8,963.0 289.3,962.6 290.7,962.2 292.2,961.9 293.7,961.5 295.1,961.1 296.6,960.8 298.0,960.4 299.5,960.0 301.0,959.7 302.4,959.3 303.9,958.9 305.3,958.6 306.8,958.2 308.3,957.8 309.7,957.4 311.2,957.0 312.6,956.5 314.1,956.1 315.5,955.7" fill="none" stroke="#a8863a" stroke-width="7.0" stroke-opacity="0.35" stroke-linejoin="round" stroke-linecap="butt"/>
<polyline points="44.5,1183.3 45.1,1181.9 45.6,1180.5 46.2,1179.1 46.7,1177.7 47.3,1176.3 47.8,1174.9 48.4,1173.5 48.9,1172.1 49.5,1170.7 50.0,1169.3 50.6,1167.9 51.2,1166.5 51.8,1165.1 52.4,1163.7 53.0,1162.4 53.7,1161.0 54.3,1159.7 55.0,1158.3 55.7,1157.0 56.3,1155.6 57.0,1154.3 57.7,1152.9 58.4,1151.6 59.1,1150.2 59.8,1148.9 60.5,1147.6 61.3,1146.3 62.2,1145.1 63.0,1143.8 63.8,1142.6 64.7,1141.4 65.6,1140.2 66.6,1139.0 67.6,1137.9 68.6,1136.8 69.6,1135.7 70.7,1134.6 71.7,1133.5 72.8,1132.4 73.8,1131.4 74.9,1130.3 75.9,1129.2 77.0,1128.2 78.1,1127.1 79.2,1126.0 80.2,1125.0 81.4,1124.0 82.5,1123.0 83.6,1122.0 84.8,1121.1 86.0,1120.1 87.1,1119.1 88.3,1118.2 89.5,1117.3 90.7,1116.3 91.8,1115.4 93.0,1114.5 94.2,1113.6 95.4,1112.6 96.6,1111.7 97.7,1110.7 98.9,1109.7 100.0,1108.7 101.1,1107.7 102.3,1106.7 103.4,1105.8 104.5,1104.8 105.6,1103.7 106.7,1102.7 107.8,1101.6 108.8,1100.5 109.8,1099.4 110.9,1098.3 111.9,1097.3 113.0,1096.2 114.1,1095.2 115.2,1094.2 116.3,1093.1 117.4,1092.1 118.5,1091.1 119.6,1090.0 120.7,1089.0 121.8,1088.0 122.9,1087.0 124.1,1086.0 125.2,1085.1 126.4,1084.1 127.5,1083.1 128.7,1082.1 129.8,1081.2 131.0,1080.2 132.1,1079.2 133.3,1078.3 134.5,1077.3 135.6,1076.4 136.8,1075.4 138.0,1074.5 139.2,1073.6 140.4,1072.6 141.5,1071.7 142.7,1070.8 143.9,1069.8 145.1,1068.9 146.3,1068.0 147.5,1067.1 148.7,1066.2 149.9,1065.3 151.1,1064.4 152.3,1063.5 153.5,1062.5 154.7,1061.6 155.8,1060.6 157.0,1059.6 158.1,1058.6 159.2,1057.6 160.3,1056.6 161.4,1055.6 162.5,1054.6 163.7,1053.6 164.8,1052.6 165.9,1051.6 167.0,1050.6 168.2,1049.6 169.3,1048.6 170.4,1047.6 171.6,1046.6 172.7,1045.6 173.8,1044.6 175.0,1043.6 176.1,1042.6 177.2,1041.6 178.3,1040.6 179.5,1039.6 180.6,1038.6 181.7,1037.6 182.8,1036.6 183.9,1035.5 185.0,1034.5 186.1,1033.5 187.2,1032.4 188.3,1031.4 189.4,1030.4 190.5,1029.3 191.6,1028.3 192.7,1027.3 193.8,1026.2 194.9,1025.2 196.0,1024.2 197.1,1023.2 198.3,1022.2 199.4,1021.2 200.5,1020.2 201.6,1019.2 202.7,1018.1 203.8,1017.1 204.8,1016.0 205.9,1014.9 207.0,1013.9 208.0,1012.9 209.2,1011.9 210.3,1010.9 211.5,1010.0 212.7,1009.1 213.9,1008.2 215.2,1007.3 216.4,1006.4 217.6,1005.5 218.8,1004.6 220.0,1003.7 221.1,1002.7 222.3,1001.8 223.5,1000.9 224.7,999.9 225.9,999.0 227.0,998.0 228.2,997.1 229.4,996.2 230.6,995.2 231.7,994.3 232.9,993.3 234.1,992.4 235.3,991.4 236.4,990.5 237.6,989.6 238.8,988.7 240.0,987.8 241.2,986.8 242.4,985.9 243.6,985.0 244.9,984.2 246.1,983.3 247.3,982.4 248.6,981.6 249.8,980.7 251.1,979.9 252.3,979.1 253.6,978.3 254.9,977.5 256.2,976.7 257.5,975.9 258.7,975.1 260.0,974.3 261.3,973.6 262.7,972.9 264.0,972.2 265.3,971.5 266.7,970.8 268.0,970.2 269.4,969.5 270.8,968.9 272.1,968.3 273.5,967.7 274.9,967.1 276.3,966.6 277.8,966.1 279.2,965.6 280.6,965.2 282.0,964.7 283.5,964.2 284.9,963.8 286.4,963.4 287.8,963.0 289.3,962.6 290.7,962.2 292.2,961.9 293.7,961.5 295.1,961.1 296.6,960.8 298.0,960.4 299.5,960.0 301.0,959.7 302.4,959.3 303.9,958.9 305.3,958.6 306.8,958.2 308.3,957.8 309.7,957.4 311.2,957.0 312.6,956.5 314.1,956.1 315.5,955.7" fill="none" stroke="#a8863a" stroke-width="5.8" stroke-linejoin="round" stroke-linecap="round"/>
<polyline points="46.6,1192.3 47.2,1190.9 47.8,1189.5 48.5,1188.2 49.2,1186.9 49.9,1185.6 50.8,1184.4 51.7,1183.1 52.6,1181.9 53.5,1180.7 54.4,1179.6 55.3,1178.3 56.2,1177.1 57.0,1175.9 57.8,1174.6 58.5,1173.3 59.3,1172.0 60.0,1170.6 60.7,1169.3 61.5,1168.0 62.3,1166.8 63.2,1165.6 64.1,1164.4 65.2,1163.3 66.2,1162.3 67.3,1161.3 68.5,1160.3 69.7,1159.4 70.9,1158.5 72.1,1157.6 73.4,1156.8 74.6,1155.9 75.9,1155.1 77.1,1154.2 78.4,1153.4 79.6,1152.6 80.9,1151.7 82.1,1150.9 83.3,1150.0 84.5,1149.1 85.7,1148.2 86.8,1147.2 88.0,1146.2 89.0,1145.1 90.1,1144.1 91.2,1143.0 92.2,1141.9 93.3,1140.9 94.4,1139.8 95.4,1138.7 96.5,1137.6 97.6,1136.6 98.6,1135.5 99.7,1134.5 100.8,1133.5 101.9,1132.4 103.0,1131.4 104.1,1130.4 105.2,1129.4 106.4,1128.3 107.5,1127.3 108.6,1126.3 109.7,1125.3 110.9,1124.3 112.1,1123.4 113.3,1122.5 114.5,1121.7 115.8,1120.8 117.0,1120.0 118.3,1119.2 119.6,1118.4 120.8,1117.6 122.1,1116.8 123.4,1116.0 124.7,1115.2 126.0,1114.4 127.3,1113.7 128.6,1112.9 129.9,1112.2 131.2,1111.5 132.5,1110.7 133.9,1110.0 135.2,1109.3 136.5,1108.5 137.8,1107.8 139.1,1107.0 140.4,1106.2 141.7,1105.4 142.9,1104.6 144.2,1103.8 145.4,1102.9 146.7,1102.1 147.9,1101.3 149.2,1100.4 150.5,1099.6 151.7,1098.8 153.0,1098.0 154.3,1097.2 155.6,1096.4 156.9,1095.8 158.3,1095.1 159.6,1094.5 161.0,1093.9 162.4,1093.3 163.8,1092.7 165.2,1092.1 166.6,1091.5 167.9,1090.9 169.3,1090.3 170.7,1089.7 172.1,1089.0 173.5,1088.4 174.8,1087.8 176.2,1087.2 177.6,1086.6 179.0,1086.0 180.3,1085.3 181.6,1084.6 183.0,1083.9 184.3,1083.1 185.6,1082.4 186.9,1081.6 188.2,1080.9 189.5,1080.1 190.8,1079.4 192.1,1078.6 193.4,1077.8 194.7,1077.0 196.0,1076.2 197.3,1075.5 198.5,1074.7 199.8,1073.9 201.1,1073.1 202.4,1072.2 203.6,1071.4 204.8,1070.5 206.0,1069.6 207.3,1068.7 208.5,1067.8 209.7,1066.9 210.9,1066.1 212.1,1065.2 213.4,1064.3 214.6,1063.5 215.9,1062.6 217.1,1061.8 218.4,1061.0 219.7,1060.2 221.0,1059.4 222.3,1058.6 223.6,1057.9 224.9,1057.1 226.2,1056.4 227.6,1055.8 228.9,1055.2 230.3,1054.6 231.7,1054.1 233.1,1053.5 234.5,1053.0 236.0,1052.5 237.4,1052.0 238.8,1051.6 240.3,1051.2 241.8,1050.9 243.2,1050.6 244.7,1050.3 246.2,1050.0 247.7,1049.7 249.1,1049.4 250.6,1049.0 252.1,1048.6 253.5,1048.2 255.0,1047.8 256.4,1047.4 257.8,1046.9 259.3,1046.5 260.7,1046.1 262.2,1045.6 263.6,1045.2 265.1,1044.7 266.5,1044.3 267.9,1043.8 269.4,1043.4 270.8,1042.9 272.2,1042.5 273.7,1042.0 275.1,1041.5 276.5,1041.0 277.9,1040.5 279.4,1040.0 280.8,1039.5 282.2,1039.0 283.6,1038.5 285.0,1037.9 286.4,1037.4 287.8,1036.8 289.2,1036.3 290.6,1035.7 292.0,1035.2 293.5,1034.6 294.9,1034.1 296.3,1033.6 297.7,1033.1 299.1,1032.6 300.5,1032.1 302.0,1031.6 303.4,1031.1 304.8,1030.6 306.3,1030.2 307.7,1029.7 309.2,1029.3 310.6,1028.9 312.1,1028.5 313.5,1028.1 315.0,1027.7 316.4,1027.3 317.9,1026.9 319.3,1026.4 320.8,1026.0 322.2,1025.5 323.6,1025.1 325.1,1024.6 326.5,1024.1 327.9,1023.6 329.3,1023.2 330.8,1022.7 332.2,1022.2 333.6,1021.7 335.1,1021.2 336.5,1020.7 337.9,1020.2 339.3,1019.7 340.8,1019.3 342.2,1018.8 343.6,1018.3 345.1,1017.9 346.5,1017.4 348.0,1017.0 349.4,1016.6 350.9,1016.2 352.3,1015.9 353.8,1015.8 355.2,1015.8 356.7,1015.9 358.2,1016.0 359.7,1016.2 361.2,1016.4 362.7,1016.5 364.1,1016.6 365.6,1016.6 367.1,1016.5 368.6,1016.3 370.1,1016.1 371.6,1015.9 373.1,1015.7 374.6,1015.5 376.1,1015.3 377.6,1015.0 379.1,1014.8 380.6,1014.6 382.1,1014.4 383.5,1014.1 385.0,1013.9 386.5,1013.7 388.0,1013.5 389.5,1013.2 391.0,1013.0" fill="none" stroke="#99a5f3" stroke-width="7.6" stroke-opacity="0.35" stroke-linejoin="round" stroke-linecap="butt"/>
<polyline points="46.6,1192.3 47.2,1190.9 47.8,1189.5 48.5,1188.2 49.2,1186.9 49.9,1185.6 50.8,1184.4 51.7,1183.1 52.6,1181.9 53.5,1180.7 54.4,1179.6 55.3,1178.3 56.2,1177.1 57.0,1175.9 57.8,1174.6 58.5,1173.3 59.3,1172.0 60.0,1170.6 60.7,1169.3 61.5,1168.0 62.3,1166.8 63.2,1165.6 64.1,1164.4 65.2,1163.3 66.2,1162.3 67.3,1161.3 68.5,1160.3 69.7,1159.4 70.9,1158.5 72.1,1157.6 73.4,1156.8 74.6,1155.9 75.9,1155.1 77.1,1154.2 78.4,1153.4 79.6,1152.6 80.9,1151.7 82.1,1150.9 83.3,1150.0 84.5,1149.1 85.7,1148.2 86.8,1147.2 88.0,1146.2 89.0,1145.1 90.1,1144.1 91.2,1143.0 92.2,1141.9 93.3,1140.9 94.4,1139.8 95.4,1138.7 96.5,1137.6 97.6,1136.6 98.6,1135.5 99.7,1134.5 100.8,1133.5 101.9,1132.4 103.0,1131.4 104.1,1130.4 105.2,1129.4 106.4,1128.3 107.5,1127.3 108.6,1126.3 109.7,1125.3 110.9,1124.3 112.1,1123.4 113.3,1122.5 114.5,1121.7 115.8,1120.8 117.0,1120.0 118.3,1119.2 119.6,1118.4 120.8,1117.6 122.1,1116.8 123.4,1116.0 124.7,1115.2 126.0,1114.4 127.3,1113.7 128.6,1112.9 129.9,1112.2 131.2,1111.5 132.5,1110.7 133.9,1110.0 135.2,1109.3 136.5,1108.5 137.8,1107.8 139.1,1107.0 140.4,1106.2 141.7,1105.4 142.9,1104.6 144.2,1103.8 145.4,1102.9 146.7,1102.1 147.9,1101.3 149.2,1100.4 150.5,1099.6 151.7,1098.8 153.0,1098.0 154.3,1097.2 155.6,1096.4 156.9,1095.8 158.3,1095.1 159.6,1094.5 161.0,1093.9 162.4,1093.3 163.8,1092.7 165.2,1092.1 166.6,1091.5 167.9,1090.9 169.3,1090.3 170.7,1089.7 172.1,1089.0 173.5,1088.4 174.8,1087.8 176.2,1087.2 177.6,1086.6 179.0,1086.0 180.3,1085.3 181.6,1084.6 183.0,1083.9 184.3,1083.1 185.6,1082.4 186.9,1081.6 188.2,1080.9 189.5,1080.1 190.8,1079.4 192.1,1078.6 193.4,1077.8 194.7,1077.0 196.0,1076.2 197.3,1075.5 198.5,1074.7 199.8,1073.9 201.1,1073.1 202.4,1072.2 203.6,1071.4 204.8,1070.5 206.0,1069.6 207.3,1068.7 208.5,1067.8 209.7,1066.9 210.9,1066.1 212.1,1065.2 213.4,1064.3 214.6,1063.5 215.9,1062.6 217.1,1061.8 218.4,1061.0 219.7,1060.2 221.0,1059.4 222.3,1058.6 223.6,1057.9 224.9,1057.1 226.2,1056.4 227.6,1055.8 228.9,1055.2 230.3,1054.6 231.7,1054.1 233.1,1053.5 234.5,1053.0 236.0,1052.5 237.4,1052.0 238.8,1051.6 240.3,1051.2 241.8,1050.9 243.2,1050.6 244.7,1050.3 246.2,1050.0 247.7,1049.7 249.1,1049.4 250.6,1049.0 252.1,1048.6 253.5,1048.2 255.0,1047.8 256.4,1047.4 257.8,1046.9 259.3,1046.5 260.7,1046.1 262.2,1045.6 263.6,1045.2 265.1,1044.7 266.5,1044.3 267.9,1043.8 269.4,1043.4 270.8,1042.9 272.2,1042.5 273.7,1042.0 275.1,1041.5 276.5,1041.0 277.9,1040.5 279.4,1040.0 280.8,1039.5 282.2,1039.0 283.6,1038.5 285.0,1037.9 286.4,1037.4 287.8,1036.8 289.2,1036.3 290.6,1035.7 292.0,1035.2 293.5,1034.6 294.9,1034.1 296.3,1033.6 297.7,1033.1 299.1,1032.6 300.5,1032.1 302.0,1031.6 303.4,1031.1 304.8,1030.6 306.3,1030.2 307.7,1029.7 309.2,1029.3 310.6,1028.9 312.1,1028.5 313.5,1028.1 315.0,1027.7 316.4,1027.3 317.9,1026.9 319.3,1026.4 320.8,1026.0 322.2,1025.5 323.6,1025.1 325.1,1024.6 326.5,1024.1 327.9,1023.6 329.3,1023.2 330.8,1022.7 332.2,1022.2 333.6,1021.7 335.1,1021.2 336.5,1020.7 337.9,1020.2 339.3,1019.7 340.8,1019.3 342.2,1018.8 343.6,1018.3 345.1,1017.9 346.5,1017.4 348.0,1017.0 349.4,1016.6 350.9,1016.2 352.3,1015.9 353.8,1015.8 355.2,1015.8 356.7,1015.9 358.2,1016.0 359.7,1016.2 361.2,1016.4 362.7,1016.5 364.1,1016.6 365.6,1016.6 367.1,1016.5 368.6,1016.3 370.1,1016.1 371.6,1015.9 373.1,1015.7 374.6,1015.5 376.1,1015.3 377.6,1015.0 379.1,1014.8 380.6,1014.6 382.1,1014.4 383.5,1014.1 385.0,1013.9 386.5,1013.7 388.0,1013.5 389.5,1013.2 391.0,1013.0" fill="none" stroke="#99a5f3" stroke-width="6.8" stroke-linejoin="round" stroke-linecap="round"/>
<polyline points="46.6,1192.2 47.8,1191.2 48.9,1190.3 50.1,1189.3 51.2,1188.3 52.4,1187.4 53.6,1186.4 54.7,1185.5 55.9,1184.5 57.0,1183.5 58.2,1182.6 59.4,1181.6 60.5,1180.6 61.7,1179.7 62.9,1178.7 64.0,1177.8 65.2,1176.9 66.4,1175.9 67.6,1175.0 68.8,1174.1 70.0,1173.2 71.1,1172.2 72.3,1171.3 73.5,1170.3 74.6,1169.3 75.8,1168.4 76.9,1167.4 78.0,1166.3 79.1,1165.3 80.2,1164.3 81.3,1163.3 82.4,1162.3 83.6,1161.2 84.7,1160.2 85.7,1159.2 86.8,1158.1 87.9,1157.1 89.0,1156.0 90.0,1154.9 91.1,1153.9 92.2,1152.8 93.2,1151.7 94.3,1150.7 95.3,1149.6 96.4,1148.5 97.5,1147.4 98.5,1146.4 99.6,1145.3 100.6,1144.2 101.7,1143.1 102.7,1142.0 103.8,1140.9 104.8,1139.9 105.8,1138.8 106.9,1137.7 107.9,1136.6 109.0,1135.5 110.0,1134.4 111.1,1133.3 112.1,1132.2 113.1,1131.1 114.1,1130.0 115.1,1128.9 116.1,1127.8 117.1,1126.7 118.2,1125.5 119.2,1124.4 120.2,1123.3 121.2,1122.2 122.2,1121.1 123.2,1119.9 124.2,1118.8 125.3,1117.7 126.3,1116.6 127.3,1115.5 128.4,1114.4 129.4,1113.3 130.4,1112.3 131.5,1111.1 132.5,1110.0 133.4,1108.9 134.4,1107.7 135.4,1106.6 136.3,1105.4 137.3,1104.2 138.2,1103.1 139.2,1101.9 140.1,1100.7 141.1,1099.6 142.1,1098.4 143.0,1097.2 144.0,1096.1 145.0,1095.0 146.0,1093.9 147.0,1092.8 148.1,1091.6 149.1,1090.5 150.1,1089.4 151.1,1088.3 152.2,1087.2 153.2,1086.2 154.3,1085.1 155.3,1084.0 156.4,1082.9 157.5,1081.9 158.5,1080.8 159.6,1079.8 160.7,1078.7 161.8,1077.7 162.9,1076.6 164.0,1075.6 165.0,1074.5 166.1,1073.4 167.1,1072.3 168.0,1071.2 169.0,1070.0 169.9,1068.8 170.8,1067.6 171.8,1066.4 172.7,1065.3 173.6,1064.1 174.6,1062.9 175.5,1061.7 176.4,1060.5 177.3,1059.3 178.2,1058.1 179.1,1056.9 180.0,1055.7 180.9,1054.5 181.8,1053.3 182.7,1052.1 183.7,1050.9 184.6,1049.7 185.5,1048.5 186.4,1047.3 187.4,1046.2 188.4,1045.1 189.5,1044.0 190.5,1042.9 191.6,1041.8 192.6,1040.8 193.7,1039.7 194.8,1038.6 195.8,1037.6 196.9,1036.5 197.9,1035.4 199.0,1034.3 200.0,1033.2 201.0,1032.1 202.0,1031.0 203.0,1029.8 204.1,1028.7 205.1,1027.6 206.1,1026.5 207.1,1025.4 208.1,1024.3 209.2,1023.2 210.3,1022.2 211.4,1021.2 212.6,1020.2 213.7,1019.3 214.9,1018.3 216.0,1017.3 217.2,1016.4 218.4,1015.4 219.5,1014.5 220.7,1013.5 221.8,1012.5 222.9,1011.5 224.0,1010.5 225.1,1009.4 226.2,1008.4 227.4,1007.4 228.5,1006.4 229.6,1005.4 230.7,1004.3 231.8,1003.3 232.9,1002.3 234.1,1001.3 235.2,1000.3 236.3,999.3 237.4,998.3 238.6,997.3 239.7,996.3 240.9,995.4 242.0,994.4 243.2,993.5 244.4,992.6 245.6,991.7 246.8,990.8 248.0,989.9 249.3,989.0 250.5,988.1 251.7,987.2 252.9,986.4 254.2,985.5 255.4,984.6 256.6,983.7 257.8,982.8 259.0,981.9 260.2,981.0 261.4,980.1 262.6,979.2 263.8,978.3 265.0,977.3 266.2,976.4 267.4,975.5 268.5,974.5 269.7,973.6 270.9,972.7 272.1,971.7 273.3,970.8 274.4,969.8 275.6,968.9 276.8,968.0 278.0,967.0 279.2,966.1 280.3,965.1 281.5,964.2 282.7,963.3 283.9,962.4 285.1,961.5 286.4,960.6 287.6,959.8 288.8,958.9 290.1,958.1 291.3,957.2 292.6,956.4 293.8,955.5 295.1,954.7 296.3,953.8" fill="none" stroke="#f2a0a0" stroke-width="2.8" stroke-linejoin="round" stroke-linecap="round"/>
<polyline points="46.6,1194.2 47.7,1193.1 48.8,1192.1 49.8,1191.0 50.9,1189.9 52.0,1188.9 53.1,1187.8 54.2,1186.7 55.2,1185.7 56.3,1184.6 57.4,1183.5 58.5,1182.5 59.6,1181.4 60.7,1180.4 61.8,1179.3 62.9,1178.3 64.1,1177.3 65.2,1176.4 66.4,1175.5 67.6,1174.5 68.8,1173.6 70.0,1172.7 71.2,1171.7 72.4,1170.8 73.6,1169.8 74.8,1168.9 75.9,1167.9 77.1,1166.9 78.2,1165.9 79.3,1164.9 80.5,1163.8 81.6,1162.8 82.7,1161.8 83.9,1160.8 85.0,1159.8 86.1,1158.8 87.2,1157.8 88.4,1156.8 89.5,1155.7 90.6,1154.7 91.8,1153.7 92.9,1152.7 94.1,1151.7 95.2,1150.7 96.4,1149.7 97.5,1148.8 98.7,1147.8 99.9,1146.9 101.1,1146.0 102.3,1145.1 103.6,1144.2 104.8,1143.3 106.0,1142.3 107.2,1141.4 108.4,1140.6 109.7,1139.7 111.0,1138.9 112.3,1138.2 113.6,1137.5 115.0,1136.8 116.3,1136.1 117.7,1135.4 119.0,1134.7 120.4,1134.0 121.7,1133.3 123.1,1132.6 124.4,1131.9 125.8,1131.2 127.1,1130.5 128.5,1129.8 129.8,1129.1 131.2,1128.4 132.5,1127.7 133.8,1126.9 135.1,1126.2 136.4,1125.4 137.7,1124.6 139.0,1123.8 140.4,1123.1 141.7,1122.3 143.0,1121.5 144.3,1120.7 145.6,1120.0 146.9,1119.2 148.2,1118.4 149.5,1117.6 150.8,1116.8 152.1,1116.0 153.3,1115.2 154.6,1114.3 155.8,1113.4 156.9,1112.4 158.0,1111.4 159.1,1110.4 160.2,1109.4 161.3,1108.3 162.4,1107.3 163.5,1106.2 164.6,1105.2 165.7,1104.1 166.8,1103.1 167.9,1102.0 169.1,1101.0 170.2,1100.1 171.4,1099.1 172.6,1098.2 173.9,1097.3 175.1,1096.5 176.4,1095.6 177.6,1094.8 178.9,1093.9 180.2,1093.1 181.4,1092.3 182.7,1091.5 184.0,1090.7 185.3,1089.9 186.6,1089.1 187.9,1088.3 189.2,1087.6 190.6,1086.8 191.9,1086.1 193.2,1085.4 194.6,1084.7 195.9,1084.0 197.3,1083.3 198.6,1082.6 200.0,1081.9 201.3,1081.2 202.7,1080.6 204.1,1079.9 205.4,1079.2 206.8,1078.5 208.1,1077.9 209.5,1077.2 210.9,1076.5 212.2,1075.8 213.6,1075.2 214.9,1074.5 216.3,1073.8 217.7,1073.1 219.0,1072.5 220.4,1071.8 221.7,1071.1 223.1,1070.4 224.5,1069.8 225.8,1069.1 227.2,1068.4 228.5,1067.7 229.9,1067.0 231.2,1066.4 232.6,1065.7 233.9,1065.0 235.3,1064.3" fill="none" stroke="#d2acd9" stroke-width="4.8" stroke-opacity="0.3" stroke-linejoin="round" stroke-linecap="butt"/>
<polyline points="46.6,1194.2 47.7,1193.1 48.8,1192.1 49.8,1191.0 50.9,1189.9 52.0,1188.9 53.1,1187.8 54.2,1186.7 55.2,1185.7 56.3,1184.6 57.4,1183.5 58.5,1182.5 59.6,1181.4 60.7,1180.4 61.8,1179.3 62.9,1178.3 64.1,1177.3 65.2,1176.4 66.4,1175.5 67.6,1174.5 68.8,1173.6 70.0,1172.7 71.2,1171.7 72.4,1170.8 73.6,1169.8 74.8,1168.9 75.9,1167.9 77.1,1166.9 78.2,1165.9 79.3,1164.9 80.5,1163.8 81.6,1162.8 82.7,1161.8 83.9,1160.8 85.0,1159.8 86.1,1158.8 87.2,1157.8 88.4,1156.8 89.5,1155.7 90.6,1154.7 91.8,1153.7 92.9,1152.7 94.1,1151.7 95.2,1150.7 96.4,1149.7 97.5,1148.8 98.7,1147.8 99.9,1146.9 101.1,1146.0 102.3,1145.1 103.6,1144.2 104.8,1143.3 106.0,1142.3 107.2,1141.4 108.4,1140.6 109.7,1139.7 111.0,1138.9 112.3,1138.2 113.6,1137.5 115.0,1136.8 116.3,1136.1 117.7,1135.4 119.0,1134.7 120.4,1134.0 121.7,1133.3 123.1,1132.6 124.4,1131.9 125.8,1131.2 127.1,1130.5 128.5,1129.8 129.8,1129.1 131.2,1128.4 132.5,1127.7 133.8,1126.9 135.1,1126.2 136.4,1125.4 137.7,1124.6 139.0,1123.8 140.4,1123.1 141.7,1122.3 143.0,1121.5 144.3,1120.7 145.6,1120.0 146.9,1119.2 148.2,1118.4 149.5,1117.6 150.8,1116.8 152.1,1116.0 153.3,1115.2 154.6,1114.3 155.8,1113.4 156.9,1112.4 158.0,1111.4 159.1,1110.4 160.2,1109.4 161.3,1108.3 162.4,1107.3 163.5,1106.2 164.6,1105.2 165.7,1104.1 166.8,1103.1 167.9,1102.0 169.1,1101.0 170.2,1100.1 171.4,1099.1 172.6,1098.2 173.9,1097.3 175.1,1096.5 176.4,1095.6 177.6,1094.8 178.9,1093.9 180.2,1093.1 181.4,1092.3 182.7,1091.5 184.0,1090.7 185.3,1089.9 186.6,1089.1 187.9,1088.3 189.2,1087.6 190.6,1086.8 191.9,1086.1 193.2,1085.4 194.6,1084.7 195.9,1084.0 197.3,1083.3 198.6,1082.6 200.0,1081.9 201.3,1081.2 202.7,1080.6 204.1,1079.9 205.4,1079.2 206.8,1078.5 208.1,1077.9 209.5,1077.2 210.9,1076.5 212.2,1075.8 213.6,1075.2 214.9,1074.5 216.3,1073.8 217.7,1073.1 219.0,1072.5 220.4,1071.8 221.7,1071.1 223.1,1070.4 224.5,1069.8 225.8,1069.1 227.2,1068.4 228.5,1067.7 229.9,1067.0 231.2,1066.4 232.6,1065.7 233.9,1065.0 235.3,1064.3" fill="none" stroke="#d2acd9" stroke-width="3.6" stroke-linejoin="round" stroke-linecap="round"/>
<defs><linearGradient id="g2_8" gradientUnits="userSpaceOnUse" x1="60" y1="0" x2="200" y2="0"><stop offset="0" stop-color="#c6aad6"/><stop offset="1" stop-color="#b0a0ba"/></linearGradient></defs>
<polyline points="46.6,1198.0 47.6,1196.9 48.6,1195.8 49.6,1194.7 50.7,1193.6 51.7,1192.5 52.8,1191.4 53.9,1190.4 55.0,1189.4 56.2,1188.4 57.3,1187.4 58.5,1186.5 59.7,1185.6 60.9,1184.7 62.2,1183.9 63.5,1183.2 64.8,1182.5 66.1,1181.8 67.5,1181.1 68.8,1180.4 70.1,1179.7 71.5,1179.0 72.8,1178.3 74.2,1177.6 75.5,1176.9 76.9,1176.2 78.2,1175.6 79.6,1174.9 80.9,1174.2 82.3,1173.6 83.6,1172.9 85.0,1172.2 86.3,1171.6 87.7,1171.0 89.1,1170.3 90.5,1169.7 91.8,1169.1 93.2,1168.5 94.6,1167.9 96.0,1167.3 97.4,1166.8 98.8,1166.2 100.2,1165.7 101.6,1165.2 103.0,1164.7 104.5,1164.2 105.9,1163.7 107.3,1163.2 108.8,1162.8 110.2,1162.4 111.7,1162.1 113.2,1161.7 114.6,1161.4 116.1,1161.0 117.6,1160.7 119.0,1160.3 120.5,1160.0 122.0,1159.6 123.4,1159.3 124.9,1158.9 126.4,1158.6 127.8,1158.2 129.3,1157.9 130.8,1157.5 132.2,1157.1 133.7,1156.8 135.2,1156.4 136.6,1156.1 138.1,1155.7 139.6,1155.4 141.0,1155.0 142.5,1154.6 144.0,1154.3 145.4,1154.0 146.9,1153.6 148.4,1153.3 149.9,1153.0 151.3,1152.7 152.8,1152.4 154.3,1152.1 155.8,1151.8 157.2,1151.5 158.7,1151.2 160.2,1150.9 161.7,1150.6 163.1,1150.3 164.6,1150.0 166.1,1149.7 167.6,1149.4 169.1,1149.1 170.6,1148.9 172.0,1148.7 173.5,1148.4 175.0,1148.2 176.5,1148.0 178.0,1147.8 179.5,1147.6 181.0,1147.4 182.5,1147.1 184.0,1146.9 185.5,1146.7 187.0,1146.5 188.5,1146.3 190.0,1146.1 191.5,1146.0 193.0,1145.8 194.5,1145.7 196.0,1145.6 197.5,1145.5 199.0,1145.4 200.5,1145.3 202.0,1145.2 203.5,1145.1 205.0,1145.0 206.5,1144.9 208.0,1144.7 209.5,1144.6 211.0,1144.6 212.5,1144.5 214.0,1144.4 215.5,1144.3 217.0,1144.3 218.6,1144.3 220.1,1144.2 221.6,1144.2 223.1,1144.1 224.6,1144.1 226.1,1144.1 227.6,1144.0 229.1,1144.0 230.6,1143.9 232.1,1143.9 233.6,1143.9 235.1,1143.8 236.6,1143.8 238.2,1143.8 239.7,1143.7 241.2,1143.7 242.7,1143.7 244.2,1143.7 245.7,1143.7 247.2,1143.6 248.7,1143.6 250.2,1143.6 251.7,1143.6 253.2,1143.6 254.7,1143.6 256.2,1143.6 257.8,1143.5 259.3,1143.5 260.8,1143.5 262.3,1143.5 263.8,1143.5 265.3,1143.4 266.8,1143.4 268.3,1143.4 269.8,1143.3 271.3,1143.3 272.8,1143.3 274.3,1143.2 275.9,1143.2 277.4,1143.2 278.9,1143.1 280.4,1143.1 281.9,1143.1 283.4,1143.0 284.9,1143.0 286.4,1142.9 287.9,1142.9 289.4,1142.8 290.9,1142.8 292.4,1142.7 293.9,1142.8 295.4,1142.9 296.8,1143.2 298.2,1143.7 299.6,1144.2 300.9,1144.7 302.3,1145.2 303.8,1145.7 305.2,1146.0 306.7,1146.2 308.2,1146.4 309.7,1146.5 311.2,1146.6 312.7,1146.6 314.2,1146.6 315.7,1146.5 317.1,1146.4 318.6,1146.2 320.1,1145.9 321.6,1145.7 323.1,1145.4 324.6,1145.2 326.1,1144.9 327.6,1144.6 329.0,1144.4 330.5,1144.1 332.0,1143.7 333.4,1143.4 334.9,1143.0 336.4,1142.7 337.8,1142.3 339.3,1141.9 340.8,1141.6 342.2,1141.2 343.7,1140.8 345.1,1140.5 346.6,1140.1 348.1,1139.7 349.5,1139.4 351.0,1139.0 352.5,1138.7 353.9,1138.3 355.4,1138.0 356.9,1137.7 358.4,1137.4 359.8,1137.1 361.3,1136.8 362.8,1136.5 364.3,1136.2 365.8,1135.9 367.2,1135.6 368.7,1135.3 370.2,1135.0 371.7,1134.7 373.2,1134.4 374.6,1134.1 376.1,1133.8 377.6,1133.5 379.0,1133.1 380.5,1132.8 382.0,1132.4 383.4,1132.0 384.9,1131.6 386.3,1131.1 387.8,1130.7 389.2,1130.3 390.7,1129.8 392.1,1129.4 393.5,1129.0 395.0,1128.6 396.4,1128.1 397.9,1127.7 399.3,1127.3 400.8,1126.8 402.2,1126.4 403.7,1126.0 405.1,1125.5 406.6,1125.1 408.0,1124.7 409.4,1124.2 410.9,1123.8 412.3,1123.4 413.8,1122.9 415.2,1122.5 416.7,1122.1 418.1,1121.6 419.5,1121.2 421.0,1120.7 422.4,1120.3 423.9,1119.9 425.3,1119.5 426.8,1119.1 428.3,1118.8 429.7,1118.4 431.2,1118.1 432.7,1117.8 434.1,1117.4 435.6,1117.1 437.1,1116.7 438.6,1116.4 440.0,1116.1 441.5,1115.7 443.0,1115.4 444.4,1115.1 445.9,1114.7 447.4,1114.4 448.8,1114.1 450.3,1113.7 451.8,1113.4 453.3,1113.1 454.7,1112.7 456.2,1112.4 457.7,1112.1 459.2,1111.8 460.6,1111.4 462.1,1111.1 463.6,1110.8 465.0,1110.5 466.5,1110.1 468.0,1109.8 469.5,1109.5 470.9,1109.2 472.4,1108.9 473.9,1108.6 475.4,1108.3 476.9,1108.0 478.3,1107.7 479.8,1107.4 481.3,1107.1 482.8,1106.8 484.2,1106.5 485.7,1106.2 487.2,1105.9 488.7,1105.6 490.2,1105.4 491.6,1105.1 493.1,1104.8 494.6,1104.5 496.1,1104.2 497.6,1104.0 499.1,1103.7 500.6,1103.4 502.0,1103.2 503.5,1102.9 505.0,1102.6 506.5,1102.4 508.0,1102.1 509.5,1101.9 510.9,1101.6 512.4,1101.3 513.9,1101.1 515.4,1100.8" fill="none" stroke="url(#g2_8)" stroke-width="6.8" stroke-opacity="0.35" stroke-linejoin="round" stroke-linecap="butt"/>
<polyline points="46.6,1198.0 47.6,1196.9 48.6,1195.8 49.6,1194.7 50.7,1193.6 51.7,1192.5 52.8,1191.4 53.9,1190.4 55.0,1189.4 56.2,1188.4 57.3,1187.4 58.5,1186.5 59.7,1185.6 60.9,1184.7 62.2,1183.9 63.5,1183.2 64.8,1182.5 66.1,1181.8 67.5,1181.1 68.8,1180.4 70.1,1179.7 71.5,1179.0 72.8,1178.3 74.2,1177.6 75.5,1176.9 76.9,1176.2 78.2,1175.6 79.6,1174.9 80.9,1174.2 82.3,1173.6 83.6,1172.9 85.0,1172.2 86.3,1171.6 87.7,1171.0 89.1,1170.3 90.5,1169.7 91.8,1169.1 93.2,1168.5 94.6,1167.9 96.0,1167.3 97.4,1166.8 98.8,1166.2 100.2,1165.7 101.6,1165.2 103.0,1164.7 104.5,1164.2 105.9,1163.7 107.3,1163.2 108.8,1162.8 110.2,1162.4 111.7,1162.1 113.2,1161.7 114.6,1161.4 116.1,1161.0 117.6,1160.7 119.0,1160.3 120.5,1160.0 122.0,1159.6 123.4,1159.3 124.9,1158.9 126.4,1158.6 127.8,1158.2 129.3,1157.9 130.8,1157.5 132.2,1157.1 133.7,1156.8 135.2,1156.4 136.6,1156.1 138.1,1155.7 139.6,1155.4 141.0,1155.0 142.5,1154.6 144.0,1154.3 145.4,1154.0 146.9,1153.6 148.4,1153.3 149.9,1153.0 151.3,1152.7 152.8,1152.4 154.3,1152.1 155.8,1151.8 157.2,1151.5 158.7,1151.2 160.2,1150.9 161.7,1150.6 163.1,1150.3 164.6,1150.0 166.1,1149.7 167.6,1149.4 169.1,1149.1 170.6,1148.9 172.0,1148.7 173.5,1148.4 175.0,1148.2 176.5,1148.0 178.0,1147.8 179.5,1147.6 181.0,1147.4 182.5,1147.1 184.0,1146.9 185.5,1146.7 187.0,1146.5 188.5,1146.3 190.0,1146.1 191.5,1146.0 193.0,1145.8 194.5,1145.7 196.0,1145.6 197.5,1145.5 199.0,1145.4 200.5,1145.3 202.0,1145.2 203.5,1145.1 205.0,1145.0 206.5,1144.9 208.0,1144.7 209.5,1144.6 211.0,1144.6 212.5,1144.5 214.0,1144.4 215.5,1144.3 217.0,1144.3 218.6,1144.3 220.1,1144.2 221.6,1144.2 223.1,1144.1 224.6,1144.1 226.1,1144.1 227.6,1144.0 229.1,1144.0 230.6,1143.9 232.1,1143.9 233.6,1143.9 235.1,1143.8 236.6,1143.8 238.2,1143.8 239.7,1143.7 241.2,1143.7 242.7,1143.7 244.2,1143.7 245.7,1143.7 247.2,1143.6 248.7,1143.6 250.2,1143.6 251.7,1143.6 253.2,1143.6 254.7,1143.6 256.2,1143.6 257.8,1143.5 259.3,1143.5 260.8,1143.5 262.3,1143.5 263.8,1143.5 265.3,1143.4 266.8,1143.4 268.3,1143.4 269.8,1143.3 271.3,1143.3 272.8,1143.3 274.3,1143.2 275.9,1143.2 277.4,1143.2 278.9,1143.1 280.4,1143.1 281.9,1143.1 283.4,1143.0 284.9,1143.0 286.4,1142.9 287.9,1142.9 289.4,1142.8 290.9,1142.8 292.4,1142.7 293.9,1142.8 295.4,1142.9 296.8,1143.2 298.2,1143.7 299.6,1144.2 300.9,1144.7 302.3,1145.2 303.8,1145.7 305.2,1146.0 306.7,1146.2 308.2,1146.4 309.7,1146.5 311.2,1146.6 312.7,1146.6 314.2,1146.6 315.7,1146.5 317.1,1146.4 318.6,1146.2 320.1,1145.9 321.6,1145.7 323.1,1145.4 324.6,1145.2 326.1,1144.9 327.6,1144.6 329.0,1144.4 330.5,1144.1 332.0,1143.7 333.4,1143.4 334.9,1143.0 336.4,1142.7 337.8,1142.3 339.3,1141.9 340.8,1141.6 342.2,1141.2 343.7,1140.8 345.1,1140.5 346.6,1140.1 348.1,1139.7 349.5,1139.4 351.0,1139.0 352.5,1138.7 353.9,1138.3 355.4,1138.0 356.9,1137.7 358.4,1137.4 359.8,1137.1 361.3,1136.8 362.8,1136.5 364.3,1136.2 365.8,1135.9 367.2,1135.6 368.7,1135.3 370.2,1135.0 371.7,1134.7 373.2,1134.4 374.6,1134.1 376.1,1133.8 377.6,1133.5 379.0,1133.1 380.5,1132.8 382.0,1132.4 383.4,1132.0 384.9,1131.6 386.3,1131.1 387.8,1130.7 389.2,1130.3 390.7,1129.8 392.1,1129.4 393.5,1129.0 395.0,1128.6 396.4,1128.1 397.9,1127.7 399.3,1127.3 400.8,1126.8 402.2,1126.4 403.7,1126.0 405.1,1125.5 406.6,1125.1 408.0,1124.7 409.4,1124.2 410.9,1123.8 412.3,1123.4 413.8,1122.9 415.2,1122.5 416.7,1122.1 418.1,1121.6 419.5,1121.2 421.0,1120.7 422.4,1120.3 423.9,1119.9 425.3,1119.5 426.8,1119.1 428.3,1118.8 429.7,1118.4 431.2,1118.1 432.7,1117.8 434.1,1117.4 435.6,1117.1 437.1,1116.7 438.6,1116.4 440.0,1116.1 441.5,1115.7 443.0,1115.4 444.4,1115.1 445.9,1114.7 447.4,1114.4 448.8,1114.1 450.3,1113.7 451.8,1113.4 453.3,1113.1 454.7,1112.7 456.2,1112.4 457.7,1112.1 459.2,1111.8 460.6,1111.4 462.1,1111.1 463.6,1110.8 465.0,1110.5 466.5,1110.1 468.0,1109.8 469.5,1109.5 470.9,1109.2 472.4,1108.9 473.9,1108.6 475.4,1108.3 476.9,1108.0 478.3,1107.7 479.8,1107.4 481.3,1107.1 482.8,1106.8 484.2,1106.5 485.7,1106.2 487.2,1105.9 488.7,1105.6 490.2,1105.4 491.6,1105.1 493.1,1104.8 494.6,1104.5 496.1,1104.2 497.6,1104.0 499.1,1103.7 500.6,1103.4 502.0,1103.2 503.5,1102.9 505.0,1102.6 506.5,1102.4 508.0,1102.1 509.5,1101.9 510.9,1101.6 512.4,1101.3 513.9,1101.1 515.4,1100.8" fill="none" stroke="url(#g2_8)" stroke-width="5.6" stroke-linejoin="round" stroke-linecap="round"/>
<polyline points="44.5,1195.6 45.7,1194.7 46.9,1193.8 48.1,1192.9 49.3,1192.0 50.6,1191.1 51.8,1190.3 53.0,1189.4 54.3,1188.6 55.5,1187.8 56.8,1186.9 58.1,1186.1 59.3,1185.3 60.6,1184.5 61.9,1183.7 63.1,1182.9 64.4,1182.1 65.7,1181.3 67.0,1180.5 68.3,1179.7 69.5,1178.9 70.8,1178.1 72.1,1177.3 73.3,1176.5 74.6,1175.7 75.9,1174.8 77.1,1174.0 78.3,1173.1 79.6,1172.3 80.8,1171.4 82.1,1170.6 83.3,1169.7 84.5,1168.8 85.7,1167.9 86.9,1167.0 88.1,1166.1 89.3,1165.2 90.5,1164.2 91.7,1163.3 92.8,1162.4 94.0,1161.4 95.2,1160.5 96.4,1159.6 97.6,1158.7 98.8,1157.8 100.0,1156.8 101.2,1155.9 102.4,1155.0 103.6,1154.1 104.7,1153.2 105.9,1152.2 107.1,1151.3 108.3,1150.4 109.5,1149.4 110.6,1148.4 111.8,1147.5 112.9,1146.5 114.1,1145.6 115.2,1144.6 116.4,1143.6 117.6,1142.7 118.7,1141.7 119.9,1140.8 121.1,1139.9 122.3,1138.9 123.5,1138.0 124.7,1137.1 125.9,1136.2 127.1,1135.4 128.3,1134.5 129.6,1133.6 130.8,1132.7 132.0,1131.9 133.3,1131.2 134.7,1130.5 136.0,1129.8 137.4,1129.2 138.7,1128.5 140.1,1127.9 141.5,1127.3 142.8,1126.7 144.2,1126.0 145.6,1125.4 147.0,1124.8 148.3,1124.2 149.7,1123.5 151.1,1122.9 152.4,1122.2 153.8,1121.6 155.1,1120.9 156.4,1120.1 157.7,1119.4 159.0,1118.6 160.2,1117.8 161.5,1116.9 162.8,1116.1 164.0,1115.3 165.3,1114.5 166.6,1113.7 167.8,1112.9 169.1,1112.1 170.4,1111.3 171.7,1110.5 172.9,1109.7 174.2,1108.9 175.5,1108.1 176.8,1107.3 178.1,1106.5 179.3,1105.8 180.6,1105.0 181.9,1104.2 183.3,1103.5 184.6,1102.8 185.9,1102.0 187.2,1101.3 188.5,1100.6 189.8,1099.9 191.2,1099.2 192.5,1098.5 193.9,1097.9 195.3,1097.3 196.7,1096.7 198.1,1096.1 199.4,1095.5 200.8,1094.9 202.2,1094.3 203.6,1093.7 205.0,1093.1 206.3,1092.5 207.7,1091.9 209.1,1091.3 210.5,1090.7 211.8,1090.0 213.2,1089.4 214.6,1088.8 215.9,1088.2 217.3,1087.6 218.7,1087.0 220.1,1086.4 221.5,1085.8 222.8,1085.2 224.2,1084.6 225.6,1084.0 227.0,1083.4 228.4,1082.9 229.8,1082.3 231.2,1081.8 232.6,1081.3 234.0,1080.8 235.4,1080.2 236.9,1079.7 238.3,1079.2 239.7,1078.7 241.1,1078.3 242.6,1077.8 244.0,1077.3 245.4,1076.8 246.8,1076.3 248.3,1075.8 249.7,1075.3 251.0,1074.7 252.4,1074.1 253.8,1073.4 255.1,1072.8 256.5,1072.1 257.8,1071.5 259.2,1070.8 260.6,1070.2 261.9,1069.6 263.3,1069.0 264.7,1068.4 266.1,1067.8 267.5,1067.3 268.9,1066.7 270.3,1066.1 271.7,1065.6 273.1,1065.0 274.5,1064.4 275.9,1063.9 277.3,1063.3 278.7,1062.7 280.0,1062.2 281.4,1061.6 282.8,1061.0 284.2,1060.5 285.6,1059.9 287.0,1059.4 288.4,1058.8 289.8,1058.2 291.2,1057.7 292.6,1057.1 294.0,1056.6 295.4,1056.0 296.8,1055.5 298.2,1054.9 299.6,1054.3 301.0,1053.8 302.4,1053.2 303.8,1052.7 305.2,1052.1 306.6,1051.5 308.0,1050.9 309.3,1050.3 310.7,1049.7 312.1,1049.1 313.5,1048.5 314.8,1047.8 316.2,1047.2 317.6,1046.6 319.0,1046.1 320.4,1045.5 321.8,1045.0 323.2,1044.5 324.6,1044.0 326.1,1043.6 327.5,1043.1 328.9,1042.7 330.4,1042.2 331.8,1041.8 333.3,1041.3 334.7,1040.9 336.1,1040.4 337.6,1040.0 339.0,1039.6 340.5,1039.2 341.9,1038.8 343.4,1038.4 344.8,1038.0 346.3,1037.6 347.7,1037.2 349.2,1036.9 350.7,1036.5 352.1,1036.1 353.6,1035.8 355.0,1035.4 356.5,1035.1 358.0,1034.7 359.4,1034.3 360.9,1034.0 362.3,1033.6 363.8,1033.2 365.3,1032.8 366.7,1032.4 368.2,1032.0 369.6,1031.6 371.0,1031.1 372.5,1030.7 373.9,1030.3 375.4,1029.9 376.8,1029.6 378.3,1029.3 379.8,1029.0 381.3,1028.7 382.8,1028.4 384.2,1028.2 385.7,1027.9 387.2,1027.6 388.6,1027.3 390.1,1026.9 391.5,1026.4 392.9,1025.9 394.3,1025.4 395.7,1024.8 397.1,1024.2 398.5,1023.6 399.9,1023.0 401.3,1022.4 402.6,1021.9 404.0,1021.3 405.4,1020.8 406.8,1020.2 408.2,1019.6 409.6,1019.1 411.0,1018.5 412.4,1018.0 413.8,1017.4 415.2,1016.9 416.6,1016.3 418.0,1015.7 419.4,1015.2 420.8,1014.6 422.2,1014.1 423.6,1013.5 425.0,1013.0 426.4,1012.4 427.8,1011.8 429.2,1011.3 430.6,1010.7 432.0,1010.2 433.4,1009.6 434.8,1009.1 436.2,1008.5 437.6,1007.9 439.0,1007.4 440.4,1006.8 441.8,1006.3 443.2,1005.7 444.6,1005.2 446.0,1004.7 447.5,1004.2 448.9,1003.8 450.3,1003.3 451.8,1002.9 453.2,1002.5 454.6,1002.0 456.1,1001.5 457.5,1001.0 458.9,1000.4 460.3,999.9 461.7,999.3 463.0,998.7 464.4,998.2 465.8,997.6 467.2,997.0 468.6,996.5 470.0,995.9 471.4,995.4 472.8,994.8 474.2,994.3 475.6,993.7 477.1,993.2 478.5,992.7 479.9,992.2 481.3,991.8 482.8,991.3 484.2,990.9 485.7,990.5 487.1,990.0 488.5,989.6 490.0,989.2 491.4,988.8 492.9,988.3 494.3,987.9 495.8,987.5 497.2,987.1 498.7,986.7 500.1,986.4 501.6,986.1 503.1,985.8 504.6,985.5 506.0,985.3 507.5,985.1 509.0,984.9 510.5,984.6 512.0,984.4" fill="none" stroke="#2f8a90" stroke-width="8.0" stroke-opacity="0.8" stroke-linejoin="round" stroke-linecap="butt"/>
<polyline points="44.5,1195.6 45.7,1194.7 46.9,1193.8 48.1,1192.9 49.3,1192.0 50.6,1191.1 51.8,1190.3 53.0,1189.4 54.3,1188.6 55.5,1187.8 56.8,1186.9 58.1,1186.1 59.3,1185.3 60.6,1184.5 61.9,1183.7 63.1,1182.9 64.4,1182.1 65.7,1181.3 67.0,1180.5 68.3,1179.7 69.5,1178.9 70.8,1178.1 72.1,1177.3 73.3,1176.5 74.6,1175.7 75.9,1174.8 77.1,1174.0 78.3,1173.1 79.6,1172.3 80.8,1171.4 82.1,1170.6 83.3,1169.7 84.5,1168.8 85.7,1167.9 86.9,1167.0 88.1,1166.1 89.3,1165.2 90.5,1164.2 91.7,1163.3 92.8,1162.4 94.0,1161.4 95.2,1160.5 96.4,1159.6 97.6,1158.7 98.8,1157.8 100.0,1156.8 101.2,1155.9 102.4,1155.0 103.6,1154.1 104.7,1153.2 105.9,1152.2 107.1,1151.3 108.3,1150.4 109.5,1149.4 110.6,1148.4 111.8,1147.5 112.9,1146.5 114.1,1145.6 115.2,1144.6 116.4,1143.6 117.6,1142.7 118.7,1141.7 119.9,1140.8 121.1,1139.9 122.3,1138.9 123.5,1138.0 124.7,1137.1 125.9,1136.2 127.1,1135.4 128.3,1134.5 129.6,1133.6 130.8,1132.7 132.0,1131.9 133.3,1131.2 134.7,1130.5 136.0,1129.8 137.4,1129.2 138.7,1128.5 140.1,1127.9 141.5,1127.3 142.8,1126.7 144.2,1126.0 145.6,1125.4 147.0,1124.8 148.3,1124.2 149.7,1123.5 151.1,1122.9 152.4,1122.2 153.8,1121.6 155.1,1120.9 156.4,1120.1 157.7,1119.4 159.0,1118.6 160.2,1117.8 161.5,1116.9 162.8,1116.1 164.0,1115.3 165.3,1114.5 166.6,1113.7 167.8,1112.9 169.1,1112.1 170.4,1111.3 171.7,1110.5 172.9,1109.7 174.2,1108.9 175.5,1108.1 176.8,1107.3 178.1,1106.5 179.3,1105.8 180.6,1105.0 181.9,1104.2 183.3,1103.5 184.6,1102.8 185.9,1102.0 187.2,1101.3 188.5,1100.6 189.8,1099.9 191.2,1099.2 192.5,1098.5 193.9,1097.9 195.3,1097.3 196.7,1096.7 198.1,1096.1 199.4,1095.5 200.8,1094.9 202.2,1094.3 203.6,1093.7 205.0,1093.1 206.3,1092.5 207.7,1091.9 209.1,1091.3 210.5,1090.7 211.8,1090.0 213.2,1089.4 214.6,1088.8 215.9,1088.2 217.3,1087.6 218.7,1087.0 220.1,1086.4 221.5,1085.8 222.8,1085.2 224.2,1084.6 225.6,1084.0 227.0,1083.4 228.4,1082.9 229.8,1082.3 231.2,1081.8 232.6,1081.3 234.0,1080.8 235.4,1080.2 236.9,1079.7 238.3,1079.2 239.7,1078.7 241.1,1078.3 242.6,1077.8 244.0,1077.3 245.4,1076.8 246.8,1076.3 248.3,1075.8 249.7,1075.3 251.0,1074.7 252.4,1074.1 253.8,1073.4 255.1,1072.8 256.5,1072.1 257.8,1071.5 259.2,1070.8 260.6,1070.2 261.9,1069.6 263.3,1069.0 264.7,1068.4 266.1,1067.8 267.5,1067.3 268.9,1066.7 270.3,1066.1 271.7,1065.6 273.1,1065.0 274.5,1064.4 275.9,1063.9 277.3,1063.3 278.7,1062.7 280.0,1062.2 281.4,1061.6 282.8,1061.0 284.2,1060.5 285.6,1059.9 287.0,1059.4 288.4,1058.8 289.8,1058.2 291.2,1057.7 292.6,1057.1 294.0,1056.6 295.4,1056.0 296.8,1055.5 298.2,1054.9 299.6,1054.3 301.0,1053.8 302.4,1053.2 303.8,1052.7 305.2,1052.1 306.6,1051.5 308.0,1050.9 309.3,1050.3 310.7,1049.7 312.1,1049.1 313.5,1048.5 314.8,1047.8 316.2,1047.2 317.6,1046.6 319.0,1046.1 320.4,1045.5 321.8,1045.0 323.2,1044.5 324.6,1044.0 326.1,1043.6 327.5,1043.1 328.9,1042.7 330.4,1042.2 331.8,1041.8 333.3,1041.3 334.7,1040.9 336.1,1040.4 337.6,1040.0 339.0,1039.6 340.5,1039.2 341.9,1038.8 343.4,1038.4 344.8,1038.0 346.3,1037.6 347.7,1037.2 349.2,1036.9 350.7,1036.5 352.1,1036.1 353.6,1035.8 355.0,1035.4 356.5,1035.1 358.0,1034.7 359.4,1034.3 360.9,1034.0 362.3,1033.6 363.8,1033.2 365.3,1032.8 366.7,1032.4 368.2,1032.0 369.6,1031.6 371.0,1031.1 372.5,1030.7 373.9,1030.3 375.4,1029.9 376.8,1029.6 378.3,1029.3 379.8,1029.0 381.3,1028.7 382.8,1028.4 384.2,1028.2 385.7,1027.9 387.2,1027.6 388.6,1027.3 390.1,1026.9 391.5,1026.4 392.9,1025.9 394.3,1025.4 395.7,1024.8 397.1,1024.2 398.5,1023.6 399.9,1023.0 401.3,1022.4 402.6,1021.9 404.0,1021.3 405.4,1020.8 406.8,1020.2 408.2,1019.6 409.6,1019.1 411.0,1018.5 412.4,1018.0 413.8,1017.4 415.2,1016.9 416.6,1016.3 418.0,1015.7 419.4,1015.2 420.8,1014.6 422.2,1014.1 423.6,1013.5 425.0,1013.0 426.4,1012.4 427.8,1011.8 429.2,1011.3 430.6,1010.7 432.0,1010.2 433.4,1009.6 434.8,1009.1 436.2,1008.5 437.6,1007.9 439.0,1007.4 440.4,1006.8 441.8,1006.3 443.2,1005.7 444.6,1005.2 446.0,1004.7 447.5,1004.2 448.9,1003.8 450.3,1003.3 451.8,1002.9 453.2,1002.5 454.6,1002.0 456.1,1001.5 457.5,1001.0 458.9,1000.4 460.3,999.9 461.7,999.3 463.0,998.7 464.4,998.2 465.8,997.6 467.2,997.0 468.6,996.5 470.0,995.9 471.4,995.4 472.8,994.8 474.2,994.3 475.6,993.7 477.1,993.2 478.5,992.7 479.9,992.2 481.3,991.8 482.8,991.3 484.2,990.9 485.7,990.5 487.1,990.0 488.5,989.6 490.0,989.2 491.4,988.8 492.9,988.3 494.3,987.9 495.8,987.5 497.2,987.1 498.7,986.7 500.1,986.4 501.6,986.1 503.1,985.8 504.6,985.5 506.0,985.3 507.5,985.1 509.0,984.9 510.5,984.6 512.0,984.4" fill="none" stroke="#3cbebc" stroke-width="6.0" stroke-linejoin="round" stroke-linecap="round"/>
<path d="M44,1191 L48.5,1190 L50,1196 L48.5,1200.5 L44,1200.5 Z" fill="#3f8390" opacity="0.9"/>
<rect x="570.5" y="929" width="50" height="182" fill="#fff"/>
<line x1="575.3" y1="936.1" x2="593.9" y2="936.1" stroke="#4d72d0" stroke-width="1.2" opacity="0.45"/>
<path d="M584.7,932.75 L588.0500000000001,936.1 L584.7,939.45 L581.35,936.1 Z" fill="#4d72d0"/>
<text x="596.3" y="940.6" font-size="12.5" fill="#222" stroke="#222" stroke-width="0.25">1</text>
<line x1="575.3" y1="954.2" x2="593.9" y2="954.2" stroke="#a0415c" stroke-width="1.2" opacity="0.45"/>
<rect x="581.95" y="951.5" width="5.5" height="5.5" fill="#8a3450"/>
<text x="596.3" y="958.8" font-size="12.5" fill="#222" stroke="#222" stroke-width="0.25">2</text>
<line x1="575.3" y1="972.4" x2="593.9" y2="972.4" stroke="#a0a42c" stroke-width="1.2" opacity="0.45"/>
<path d="M584.7,969.15 L587.95,974.85 L581.45,974.85 Z" fill="#8c8a38"/>
<text x="596.3" y="976.9" font-size="12.5" fill="#222" stroke="#222" stroke-width="0.25">3</text>
<line x1="575.3" y1="990.6" x2="593.9" y2="990.6" stroke="#7777ad" stroke-width="1.2" opacity="0.45"/>
<rect x="581.95" y="987.8000000000001" width="5.5" height="5.5" fill="#7272a6"/>
<text x="596.3" y="995.1" font-size="12.5" fill="#222" stroke="#222" stroke-width="0.25">4</text>
<line x1="575.3" y1="1008.7" x2="593.9" y2="1008.7" stroke="#a8863a" stroke-width="1.2" opacity="0.45"/>
<circle cx="584.7" cy="1008.7" r="2.75" fill="#987434"/>
<text x="596.3" y="1013.2" font-size="12.5" fill="#222" stroke="#222" stroke-width="0.25">5</text>
<line x1="575.3" y1="1026.8" x2="593.9" y2="1026.8" stroke="#99a5f3" stroke-width="1.2" opacity="0.45"/>
<rect x="581.95" y="1024.1" width="5.5" height="5.5" fill="#99a5f3"/>
<line x1="584.7" y1="1024.1" x2="584.7" y2="1029.6" stroke="#fff" stroke-width="0.8" opacity="0.6"/>
<line x1="581.95" y1="1026.85" x2="587.45" y2="1026.85" stroke="#fff" stroke-width="0.8" opacity="0.6"/>
<text x="596.3" y="1031.3" font-size="12.5" fill="#222" stroke="#222" stroke-width="0.25">6</text>
<line x1="575.3" y1="1045.0" x2="593.9" y2="1045.0" stroke="#f2a0a0" stroke-width="1.2" opacity="0.45"/>
<line x1="582.2" y1="1045.0" x2="587.2" y2="1045.0" stroke="#f2a0a0" stroke-width="1.6"/>
<text x="596.3" y="1049.5" font-size="12.5" fill="#222" stroke="#222" stroke-width="0.25">7</text>
<line x1="575.3" y1="1063.2" x2="593.9" y2="1063.2" stroke="#d2acd9" stroke-width="1.2" opacity="0.45"/>
<line x1="581.2" y1="1063.15" x2="588.2" y2="1063.15" stroke="#d2acd9" stroke-width="1.6"/>
<text x="596.3" y="1067.7" font-size="12.5" fill="#222" stroke="#222" stroke-width="0.25">8</text>
<line x1="575.3" y1="1081.3" x2="593.9" y2="1081.3" stroke="#b0a0ba" stroke-width="1.2" opacity="0.45"/>
<path d="M584.7,1077.95 L588.0500000000001,1081.3 L584.7,1084.6499999999999 L581.35,1081.3 Z" fill="#a49aae"/>
<text x="596.3" y="1085.8" font-size="12.5" fill="#222" stroke="#222" stroke-width="0.25">9</text>
<line x1="575.3" y1="1099.5" x2="593.9" y2="1099.5" stroke="#2aa5a0" stroke-width="2.2" opacity="1"/>
<rect x="581.6500000000001" y="1096.4" width="6.1" height="6.1" fill="#2d7f86"/>
<text x="596.3" y="1104.0" font-size="12.5" fill="#222" stroke="#222" stroke-width="0.25">10</text>
</svg></body></html>
